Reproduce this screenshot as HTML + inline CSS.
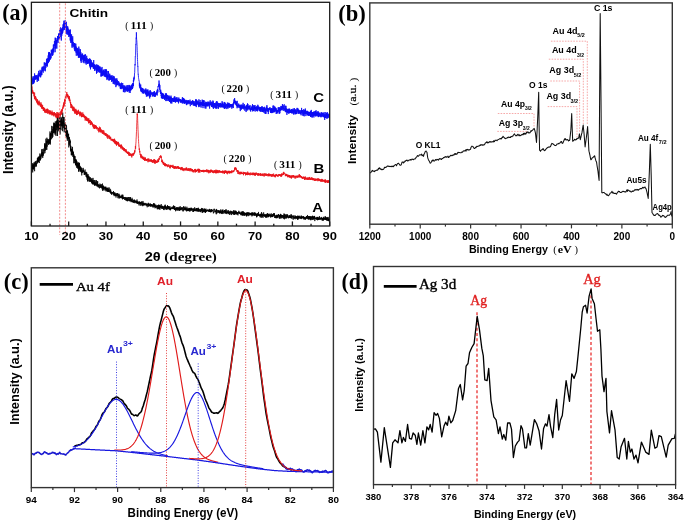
<!DOCTYPE html>
<html><head><meta charset="utf-8"><title>Figure</title>
<style>html,body{margin:0;padding:0;background:#fff;}svg{display:block;will-change:transform;}</style></head>
<body><svg width="685" height="522" viewBox="0 0 685 522">
<rect width="685" height="522" fill="#fff"/>
<path d="M31.70,165.23 L31.80,170.86 L31.90,166.23 L32.00,167.45 L32.10,167.76 L32.20,166.25 L32.30,164.81 L32.40,169.05 L32.50,168.34 L32.60,163.26 L32.70,172.45 L32.80,169.38 L32.90,165.55 L33.00,169.06 L33.10,165.99 L33.20,166.77 L33.30,168.52 L33.40,163.95 L33.50,167.86 L33.60,169.56 L33.70,169.29 L33.80,165.62 L33.90,168.17 L34.00,162.48 L34.10,165.61 L34.20,166.85 L34.30,162.75 L34.40,165.44 L34.50,169.36 L34.60,171.21 L34.70,167.03 L34.80,167.03 L34.90,162.90 L35.00,162.21 L35.10,161.63 L35.20,165.92 L35.30,166.28 L35.40,162.96 L35.50,161.53 L35.60,164.80 L35.70,164.80 L35.80,163.66 L35.90,166.75 L36.00,163.49 L36.10,163.43 L36.20,160.89 L36.30,163.63 L36.40,166.32 L36.50,163.20 L36.60,163.09 L36.70,163.81 L36.80,163.31 L36.90,163.77 L37.00,163.65 L37.10,163.71 L37.20,160.24 L37.30,162.69 L37.40,158.04 L37.50,162.34 L37.60,158.56 L37.70,161.25 L37.80,162.42 L37.90,160.15 L38.00,161.23 L38.10,156.90 L38.20,158.64 L38.30,162.23 L38.40,157.61 L38.50,161.85 L38.60,156.73 L38.70,157.74 L38.80,157.12 L38.90,159.67 L39.00,160.81 L39.10,156.70 L39.20,158.72 L39.30,163.03 L39.40,158.06 L39.50,156.65 L39.60,159.48 L39.70,157.79 L39.80,156.42 L39.90,153.49 L40.00,159.91 L40.10,156.22 L40.20,157.50 L40.30,154.62 L40.40,160.47 L40.50,158.89 L40.60,159.32 L40.70,156.34 L40.80,157.66 L40.90,158.58 L41.00,158.75 L41.10,156.73 L41.20,155.58 L41.30,154.62 L41.40,153.42 L41.50,152.66 L41.60,155.97 L41.70,154.19 L41.80,149.37 L41.90,154.05 L42.00,157.11 L42.10,153.35 L42.20,148.94 L42.30,153.37 L42.40,155.62 L42.50,153.86 L42.60,151.96 L42.70,157.94 L42.80,157.90 L42.90,152.26 L43.00,154.55 L43.10,153.21 L43.20,154.08 L43.30,155.74 L43.40,153.79 L43.50,151.57 L43.60,149.30 L43.70,148.65 L43.80,150.64 L43.90,153.76 L44.00,151.16 L44.10,150.26 L44.20,150.63 L44.30,149.80 L44.40,151.06 L44.50,146.09 L44.60,143.44 L44.70,147.67 L44.80,145.38 L44.90,153.14 L45.00,147.81 L45.10,147.33 L45.20,143.38 L45.30,148.47 L45.40,145.61 L45.50,150.52 L45.60,149.49 L45.70,144.52 L45.80,147.81 L45.90,138.68 L46.00,144.18 L46.10,149.69 L46.20,148.12 L46.30,146.08 L46.40,145.26 L46.50,140.86 L46.60,140.82 L46.70,145.40 L46.80,149.87 L46.90,137.70 L47.00,146.03 L47.10,145.74 L47.20,146.62 L47.30,140.82 L47.40,141.67 L47.50,143.25 L47.60,139.72 L47.70,138.90 L47.80,139.77 L47.90,142.11 L48.00,143.32 L48.10,141.88 L48.20,142.01 L48.30,139.42 L48.40,139.11 L48.50,144.76 L48.60,140.84 L48.70,140.57 L48.80,143.63 L48.90,144.42 L49.00,144.34 L49.10,141.37 L49.20,139.71 L49.30,140.61 L49.40,140.05 L49.50,143.82 L49.60,140.02 L49.70,140.95 L49.80,138.56 L49.90,142.95 L50.00,131.44 L50.10,139.26 L50.20,140.28 L50.30,133.68 L50.40,144.50 L50.50,136.56 L50.60,136.28 L50.70,132.92 L50.80,139.29 L50.90,136.82 L51.00,133.78 L51.10,136.32 L51.20,137.64 L51.30,139.21 L51.40,135.50 L51.50,131.13 L51.60,132.28 L51.70,125.90 L51.80,131.12 L51.90,136.05 L52.00,134.84 L52.10,132.55 L52.20,131.46 L52.30,138.13 L52.40,133.22 L52.50,135.25 L52.60,133.15 L52.70,129.02 L52.80,136.92 L52.90,126.39 L53.00,126.27 L53.10,128.85 L53.20,127.46 L53.30,127.84 L53.40,127.42 L53.50,133.17 L53.60,129.39 L53.70,130.29 L53.80,122.61 L53.90,125.21 L54.00,132.46 L54.10,123.36 L54.20,132.46 L54.30,123.60 L54.40,128.65 L54.50,123.95 L54.60,127.93 L54.70,123.40 L54.80,125.83 L54.90,133.47 L55.00,125.08 L55.10,134.75 L55.20,124.46 L55.30,121.39 L55.40,126.40 L55.50,124.29 L55.60,133.16 L55.70,129.36 L55.80,130.61 L55.90,128.23 L56.00,135.93 L56.10,128.78 L56.20,127.61 L56.30,121.74 L56.40,121.34 L56.50,125.99 L56.60,129.48 L56.70,129.98 L56.80,120.99 L56.90,127.40 L57.00,125.89 L57.10,120.09 L57.20,127.25 L57.30,114.88 L57.40,126.11 L57.50,135.96 L57.60,120.32 L57.70,124.96 L57.80,116.30 L57.90,121.42 L58.00,128.27 L58.10,120.07 L58.20,124.65 L58.30,123.18 L58.40,123.06 L58.50,125.68 L58.60,127.04 L58.70,130.51 L58.80,128.68 L58.90,122.17 L59.00,131.41 L59.10,130.65 L59.20,117.48 L59.30,127.93 L59.40,128.69 L59.50,129.37 L59.60,127.39 L59.70,118.65 L59.80,123.53 L59.90,114.96 L60.00,124.05 L60.10,134.47 L60.20,128.05 L60.30,128.79 L60.40,122.34 L60.50,119.94 L60.60,119.68 L60.70,125.39 L60.80,120.95 L60.90,121.74 L61.00,130.29 L61.10,116.94 L61.20,118.50 L61.30,122.36 L61.40,124.32 L61.50,124.18 L61.60,118.12 L61.70,125.73 L61.80,124.18 L61.90,126.49 L62.00,119.64 L62.10,125.96 L62.20,125.85 L62.30,121.67 L62.40,123.77 L62.50,122.17 L62.60,131.20 L62.70,112.56 L62.80,118.00 L62.90,116.81 L63.00,123.03 L63.10,121.64 L63.20,122.89 L63.30,128.14 L63.40,117.24 L63.50,120.90 L63.60,123.78 L63.70,119.31 L63.80,126.56 L63.90,126.42 L64.00,121.74 L64.10,117.03 L64.20,132.34 L64.30,127.33 L64.40,127.21 L64.50,125.74 L64.60,125.51 L64.70,129.33 L64.80,125.72 L64.90,123.17 L65.00,129.15 L65.10,126.46 L65.20,123.02 L65.30,122.61 L65.40,131.64 L65.50,129.55 L65.60,135.45 L65.70,125.18 L65.80,124.59 L65.90,129.68 L66.00,134.02 L66.10,131.14 L66.20,130.83 L66.30,137.06 L66.40,126.87 L66.50,125.27 L66.60,127.68 L66.70,129.76 L66.80,132.85 L66.90,135.76 L67.00,133.82 L67.10,138.52 L67.20,130.09 L67.30,140.83 L67.40,131.18 L67.50,138.99 L67.60,131.73 L67.70,136.87 L67.80,136.26 L67.90,138.35 L68.00,139.57 L68.10,136.56 L68.20,137.47 L68.30,138.93 L68.40,133.98 L68.50,136.35 L68.60,133.70 L68.70,139.62 L68.80,147.43 L68.90,142.80 L69.00,137.82 L69.10,138.71 L69.20,144.61 L69.30,140.22 L69.40,136.91 L69.50,139.19 L69.60,139.47 L69.70,139.95 L69.80,145.70 L69.90,144.14 L70.00,139.63 L70.10,142.96 L70.20,141.48 L70.30,141.64 L70.40,141.10 L70.50,151.36 L70.60,145.48 L70.70,148.49 L70.80,149.70 L70.90,146.32 L71.00,149.39 L71.10,149.75 L71.20,149.16 L71.30,155.16 L71.40,150.02 L71.50,148.89 L71.60,151.75 L71.70,155.31 L71.80,153.42 L71.90,149.61 L72.00,148.91 L72.10,149.08 L72.20,150.19 L72.30,153.43 L72.40,155.03 L72.50,146.87 L72.60,153.34 L72.70,150.75 L72.80,155.89 L72.90,156.82 L73.00,152.62 L73.10,153.81 L73.20,152.80 L73.30,156.63 L73.40,151.71 L73.50,153.29 L73.60,154.74 L73.70,159.96 L73.80,163.25 L73.90,157.44 L74.00,154.55 L74.10,158.15 L74.20,156.06 L74.30,159.67 L74.40,156.02 L74.50,158.15 L74.60,159.29 L74.70,160.86 L74.80,159.65 L74.90,163.17 L75.00,160.62 L75.10,156.15 L75.20,163.01 L75.30,160.29 L75.40,159.59 L75.50,165.01 L75.60,159.23 L75.70,161.97 L75.80,160.30 L75.90,165.37 L76.00,161.51 L76.10,163.10 L76.20,159.47 L76.30,166.25 L76.40,160.60 L76.50,165.36 L76.60,166.00 L76.70,166.43 L76.80,167.92 L76.90,161.23 L77.00,165.00 L77.10,164.55 L77.20,165.34 L77.30,167.03 L77.40,164.94 L77.50,163.00 L77.60,164.77 L77.70,168.60 L77.80,162.64 L77.90,165.61 L78.00,163.38 L78.10,168.18 L78.20,162.19 L78.30,165.23 L78.40,165.85 L78.50,166.52 L78.60,171.59 L78.70,169.94 L78.80,164.41 L78.90,171.51 L79.00,164.34 L79.10,163.00 L79.20,163.95 L79.30,167.76 L79.40,168.60 L79.50,162.81 L79.60,168.63 L79.70,167.24 L79.80,169.45 L79.90,167.23 L80.00,170.09 L80.10,169.49 L80.20,165.92 L80.30,171.58 L80.40,169.08 L80.50,170.28 L80.60,171.51 L80.70,166.92 L80.80,168.90 L80.90,167.47 L81.00,167.33 L81.10,169.96 L81.20,170.22 L81.30,172.38 L81.40,172.59 L81.50,169.79 L81.60,168.21 L81.70,175.39 L81.80,174.56 L81.90,170.04 L82.00,168.46 L82.10,169.60 L82.20,171.14 L82.30,172.98 L82.40,172.75 L82.50,171.77 L82.60,170.49 L82.70,171.43 L82.80,170.57 L82.90,171.45 L83.00,171.20 L83.10,172.57 L83.20,167.87 L83.30,171.04 L83.40,171.26 L83.50,169.70 L83.60,171.71 L83.70,170.08 L83.80,170.97 L83.90,171.82 L84.00,172.00 L84.10,171.49 L84.20,174.88 L84.30,173.23 L84.40,173.58 L84.50,173.52 L84.60,171.89 L84.70,171.60 L84.80,175.04 L84.90,172.86 L85.00,170.26 L85.10,169.57 L85.20,174.32 L85.30,172.61 L85.40,174.01 L85.50,173.22 L85.60,173.61 L85.70,174.17 L85.80,172.27 L85.90,174.71 L86.00,176.71 L86.10,176.28 L86.20,171.86 L86.30,172.73 L86.40,172.88 L86.50,175.01 L86.60,177.16 L86.70,176.30 L86.80,172.61 L86.90,176.05 L87.00,177.54 L87.10,175.37 L87.20,179.77 L87.30,175.24 L87.40,178.66 L87.50,180.90 L87.60,174.48 L87.70,176.31 L87.80,178.04 L87.90,181.76 L88.00,174.05 L88.10,178.35 L88.20,177.97 L88.30,176.83 L88.40,176.21 L88.50,176.87 L88.60,177.37 L88.70,175.78 L88.80,180.87 L88.90,176.29 L89.00,177.58 L89.10,177.28 L89.20,177.82 L89.30,178.79 L89.40,177.43 L89.50,178.42 L89.60,181.89 L89.70,180.83 L89.80,178.62 L89.90,180.76 L90.00,177.99 L90.10,179.77 L90.20,177.06 L90.30,177.63 L90.40,178.19 L90.50,181.83 L90.60,180.22 L90.70,180.84 L90.80,180.26 L90.90,180.71 L91.00,180.88 L91.10,181.54 L91.20,180.62 L91.30,178.91 L91.40,179.21 L91.50,182.61 L91.60,183.01 L91.70,181.69 L91.80,178.15 L91.90,183.51 L92.00,181.54 L92.10,180.97 L92.20,181.20 L92.30,180.64 L92.40,184.19 L92.50,184.14 L92.60,179.76 L92.70,181.26 L92.80,182.13 L92.90,183.77 L93.00,177.89 L93.10,183.36 L93.20,184.62 L93.30,181.49 L93.40,182.02 L93.50,184.15 L93.60,182.83 L93.70,180.18 L93.80,180.52 L93.90,180.81 L94.00,180.28 L94.10,182.58 L94.20,181.84 L94.30,182.79 L94.40,183.91 L94.50,185.67 L94.60,183.28 L94.70,180.10 L94.80,185.24 L94.90,182.96 L95.00,185.02 L95.10,182.58 L95.20,183.81 L95.30,183.20 L95.40,183.44 L95.50,185.51 L95.60,182.60 L95.70,183.92 L95.80,184.07 L95.90,183.20 L96.00,180.50 L96.10,184.46 L96.20,180.06 L96.30,181.76 L96.40,183.41 L96.50,184.82 L96.60,185.54 L96.70,185.55 L96.80,185.26 L96.90,183.87 L97.00,186.30 L97.10,184.13 L97.20,186.28 L97.30,181.30 L97.40,183.28 L97.50,183.90 L97.60,184.82 L97.70,181.31 L97.80,186.14 L97.90,186.46 L98.00,186.21 L98.10,184.33 L98.20,187.30 L98.30,184.39 L98.40,186.59 L98.50,185.22 L98.60,185.33 L98.70,185.18 L98.80,185.43 L98.90,187.14 L99.00,187.67 L99.10,187.70 L99.20,186.99 L99.30,186.68 L99.40,186.42 L99.50,188.36 L99.60,185.22 L99.70,184.99 L99.80,186.02 L99.90,183.59 L100.00,185.70 L100.10,186.01 L100.20,184.66 L100.30,185.36 L100.40,187.23 L100.50,185.95 L100.60,186.44 L100.70,187.85 L100.80,185.54 L100.90,184.83 L101.00,186.45 L101.10,187.16 L101.20,184.02 L101.30,187.58 L101.40,186.25 L101.50,186.15 L101.60,185.56 L101.70,186.57 L101.80,188.23 L101.90,187.66 L102.00,188.11 L102.10,186.50 L102.20,189.30 L102.30,188.89 L102.40,187.12 L102.50,183.57 L102.60,187.33 L102.70,190.93 L102.80,187.26 L102.90,185.96 L103.00,189.80 L103.10,186.62 L103.20,188.21 L103.30,188.63 L103.40,185.58 L103.50,187.84 L103.60,189.36 L103.70,187.31 L103.80,188.70 L103.90,187.82 L104.00,189.31 L104.10,190.49 L104.20,186.49 L104.30,187.65 L104.40,188.63 L104.50,187.28 L104.60,187.07 L104.70,187.77 L104.80,187.93 L104.90,187.46 L105.00,188.84 L105.10,189.54 L105.20,189.51 L105.30,189.47 L105.40,190.21 L105.50,186.82 L105.60,188.55 L105.70,189.02 L105.80,189.52 L105.90,186.71 L106.00,191.43 L106.10,187.79 L106.20,189.38 L106.30,190.06 L106.40,190.58 L106.50,188.28 L106.60,188.53 L106.70,189.79 L106.80,190.13 L106.90,190.61 L107.00,189.39 L107.10,188.61 L107.20,187.83 L107.30,191.91 L107.40,187.90 L107.50,190.66 L107.60,190.17 L107.70,190.85 L107.80,191.15 L107.90,191.72 L108.00,189.96 L108.10,190.60 L108.20,187.63 L108.30,190.26 L108.40,189.10 L108.50,190.12 L108.60,191.96 L108.70,190.57 L108.80,191.88 L108.90,190.30 L109.00,191.12 L109.10,190.15 L109.20,187.51 L109.30,189.88 L109.40,190.51 L109.50,191.10 L109.60,190.96 L109.70,190.86 L109.80,192.27 L109.90,191.92 L110.00,190.70 L110.10,192.34 L110.20,188.85 L110.30,191.02 L110.40,191.25 L110.50,193.10 L110.60,190.89 L110.70,189.80 L110.80,191.89 L110.90,193.81 L111.00,191.53 L111.10,191.73 L111.20,191.66 L111.30,192.03 L111.40,193.61 L111.50,194.47 L111.60,192.71 L111.70,192.08 L111.80,194.50 L111.90,192.44 L112.00,192.46 L112.10,192.01 L112.20,192.12 L112.30,192.85 L112.40,192.27 L112.50,193.17 L112.60,192.84 L112.70,193.45 L112.80,192.40 L112.90,192.67 L113.00,193.25 L113.10,193.10 L113.20,193.20 L113.30,194.51 L113.40,191.94 L113.50,190.99 L113.60,194.16 L113.70,193.09 L113.80,194.99 L113.90,193.38 L114.00,192.19 L114.10,196.13 L114.20,194.11 L114.30,193.19 L114.40,192.90 L114.50,194.46 L114.60,193.10 L114.70,194.37 L114.80,195.31 L114.90,192.46 L115.00,193.69 L115.10,194.69 L115.20,196.08 L115.30,195.31 L115.40,193.80 L115.50,196.01 L115.60,194.02 L115.70,194.29 L115.80,194.95 L115.90,193.36 L116.00,197.52 L116.10,196.02 L116.20,194.98 L116.30,194.16 L116.40,193.56 L116.50,195.30 L116.60,195.71 L116.70,194.55 L116.80,194.83 L116.90,195.71 L117.00,195.08 L117.10,193.15 L117.20,195.98 L117.30,195.56 L117.40,196.15 L117.50,194.56 L117.60,193.10 L117.70,194.12 L117.80,195.86 L117.90,197.87 L118.00,198.22 L118.10,196.01 L118.20,194.12 L118.30,195.40 L118.40,196.31 L118.50,196.34 L118.60,196.01 L118.70,197.43 L118.80,195.01 L118.90,193.66 L119.00,195.12 L119.10,194.85 L119.20,198.63 L119.30,196.01 L119.40,194.69 L119.50,196.98 L119.60,197.45 L119.70,196.44 L119.80,196.64 L119.90,197.59 L120.00,197.07 L120.10,195.78 L120.20,197.23 L120.30,197.65 L120.40,197.04 L120.50,197.66 L120.60,197.39 L120.70,196.52 L120.80,196.66 L120.90,197.53 L121.00,196.29 L121.10,198.20 L121.20,198.32 L121.30,194.78 L121.40,196.98 L121.50,196.27 L121.60,196.43 L121.70,197.33 L121.80,197.02 L121.90,197.87 L122.00,197.64 L122.10,197.73 L122.20,196.50 L122.30,197.01 L122.40,199.04 L122.50,194.74 L122.60,199.40 L122.70,196.93 L122.80,198.88 L122.90,194.76 L123.00,197.20 L123.10,198.63 L123.20,197.89 L123.30,198.88 L123.40,196.84 L123.50,197.22 L123.60,197.16 L123.70,198.47 L123.80,198.46 L123.90,197.85 L124.00,197.73 L124.10,197.74 L124.20,198.19 L124.30,197.09 L124.40,198.10 L124.50,198.04 L124.60,197.64 L124.70,197.64 L124.80,199.93 L124.90,197.67 L125.00,198.83 L125.10,199.92 L125.20,199.26 L125.30,198.50 L125.40,199.63 L125.50,196.98 L125.60,197.23 L125.70,198.18 L125.80,198.41 L125.90,198.58 L126.00,200.79 L126.10,200.62 L126.20,198.75 L126.30,199.11 L126.40,197.86 L126.50,199.24 L126.60,197.45 L126.70,200.50 L126.80,198.42 L126.90,199.64 L127.00,197.63 L127.10,200.63 L127.20,199.80 L127.30,201.32 L127.40,199.27 L127.50,197.45 L127.60,198.40 L127.70,197.91 L127.80,201.06 L127.90,198.67 L128.00,198.56 L128.10,200.08 L128.20,199.75 L128.30,200.03 L128.40,198.97 L128.50,197.36 L128.60,198.09 L128.70,197.20 L128.80,201.06 L128.90,200.68 L129.00,199.30 L129.10,200.43 L129.20,200.52 L129.30,200.51 L129.40,200.43 L129.50,200.84 L129.60,199.99 L129.70,197.49 L129.80,197.10 L129.90,201.39 L130.00,200.68 L130.10,197.29 L130.20,200.28 L130.30,199.15 L130.40,199.55 L130.50,197.32 L130.60,201.06 L130.70,200.15 L130.80,201.17 L130.90,201.50 L131.00,201.75 L131.10,202.18 L131.20,200.71 L131.30,200.66 L131.40,199.75 L131.50,201.07 L131.60,200.25 L131.70,199.25 L131.80,201.90 L131.90,201.39 L132.00,197.77 L132.10,198.61 L132.20,200.45 L132.30,199.24 L132.40,202.11 L132.50,200.98 L132.60,201.44 L132.70,201.88 L132.80,202.35 L132.90,200.60 L133.00,201.63 L133.10,201.24 L133.20,201.88 L133.30,201.64 L133.40,202.63 L133.50,201.67 L133.60,200.58 L133.70,201.27 L133.80,199.91 L133.90,201.55 L134.00,202.89 L134.10,200.58 L134.20,199.45 L134.30,201.22 L134.40,200.77 L134.50,201.36 L134.60,200.73 L134.70,201.50 L134.80,200.32 L134.90,203.19 L135.00,201.25 L135.10,202.10 L135.20,202.40 L135.30,201.41 L135.40,202.11 L135.50,201.36 L135.60,201.17 L135.70,201.44 L135.80,202.26 L135.90,200.34 L136.00,200.77 L136.10,200.91 L136.20,201.20 L136.30,203.13 L136.40,201.84 L136.50,201.56 L136.60,202.09 L136.70,203.13 L136.80,201.15 L136.90,203.14 L137.00,199.46 L137.10,201.08 L137.20,203.72 L137.30,203.84 L137.40,202.36 L137.50,201.70 L137.60,203.11 L137.70,201.77 L137.80,203.96 L137.90,203.59 L138.00,203.16 L138.10,201.40 L138.20,203.44 L138.30,202.11 L138.40,202.16 L138.50,201.97 L138.60,202.34 L138.70,203.05 L138.80,203.46 L138.90,203.48 L139.00,205.38 L139.10,202.22 L139.20,203.91 L139.30,201.92 L139.40,202.47 L139.50,201.42 L139.60,204.07 L139.70,203.05 L139.80,202.93 L139.90,202.68 L140.00,203.86 L140.10,202.31 L140.20,203.33 L140.30,205.69 L140.40,202.78 L140.50,202.27 L140.60,201.87 L140.70,203.91 L140.80,203.11 L140.90,202.23 L141.00,202.17 L141.10,203.14 L141.20,202.03 L141.30,205.48 L141.40,202.97 L141.50,203.01 L141.60,203.13 L141.70,201.25 L141.80,201.67 L141.90,202.90 L142.00,203.30 L142.10,201.98 L142.20,205.25 L142.30,203.90 L142.40,204.85 L142.50,204.74 L142.60,203.22 L142.70,206.18 L142.80,203.65 L142.90,201.45 L143.00,200.98 L143.10,203.59 L143.20,204.57 L143.30,203.71 L143.40,205.57 L143.50,203.34 L143.60,204.32 L143.70,204.53 L143.80,202.61 L143.90,204.11 L144.00,204.19 L144.10,205.02 L144.20,205.17 L144.30,204.94 L144.40,203.04 L144.50,204.71 L144.60,205.11 L144.70,203.98 L144.80,204.80 L144.90,204.84 L145.00,205.32 L145.10,204.12 L145.20,204.58 L145.30,204.29 L145.40,204.17 L145.50,203.44 L145.60,203.77 L145.70,202.93 L145.80,203.97 L145.90,204.96 L146.00,204.91 L146.10,205.07 L146.20,204.15 L146.30,205.82 L146.40,203.81 L146.50,205.18 L146.60,204.82 L146.70,203.56 L146.80,203.62 L146.90,205.24 L147.00,204.49 L147.10,204.77 L147.20,207.27 L147.30,205.13 L147.40,204.67 L147.50,205.36 L147.60,203.92 L147.70,204.41 L147.80,205.11 L147.90,203.75 L148.00,204.63 L148.10,204.48 L148.20,204.83 L148.30,202.79 L148.40,206.70 L148.50,204.68 L148.60,205.40 L148.70,203.68 L148.80,203.40 L148.90,204.89 L149.00,204.52 L149.10,205.61 L149.20,203.91 L149.30,203.86 L149.40,205.33 L149.50,205.75 L149.60,206.02 L149.70,204.99 L149.80,205.33 L149.90,204.19 L150.00,206.53 L150.10,206.36 L150.20,206.35 L150.30,203.38 L150.40,206.13 L150.50,204.38 L150.60,205.75 L150.70,205.70 L150.80,206.58 L150.90,205.05 L151.00,204.91 L151.10,204.19 L151.20,204.02 L151.30,205.98 L151.40,204.36 L151.50,206.11 L151.60,204.98 L151.70,204.79 L151.80,206.49 L151.90,206.39 L152.00,204.38 L152.10,205.30 L152.20,205.50 L152.30,206.26 L152.40,204.74 L152.50,205.10 L152.60,205.45 L152.70,206.36 L152.80,206.60 L152.90,205.04 L153.00,207.58 L153.10,206.14 L153.20,204.82 L153.30,204.00 L153.40,205.18 L153.50,203.13 L153.60,205.96 L153.70,206.39 L153.80,207.19 L153.90,206.36 L154.00,203.95 L154.10,205.54 L154.20,206.63 L154.30,203.50 L154.40,205.00 L154.50,206.61 L154.60,206.00 L154.70,203.75 L154.80,205.42 L154.90,206.01 L155.00,208.29 L155.10,205.54 L155.20,205.05 L155.30,206.33 L155.40,206.45 L155.50,206.72 L155.60,207.70 L155.70,206.06 L155.80,204.64 L155.90,206.21 L156.00,206.20 L156.10,207.26 L156.20,207.14 L156.30,205.43 L156.40,207.10 L156.50,207.37 L156.60,206.08 L156.70,207.34 L156.80,206.50 L156.90,206.53 L157.00,206.19 L157.10,207.25 L157.20,209.18 L157.30,206.65 L157.40,205.14 L157.50,206.18 L157.60,205.81 L157.70,206.82 L157.80,206.33 L157.90,209.28 L158.00,207.33 L158.10,208.57 L158.20,205.76 L158.30,206.32 L158.40,208.83 L158.50,204.74 L158.60,206.76 L158.70,204.91 L158.80,208.32 L158.90,205.09 L159.00,206.33 L159.10,206.48 L159.20,204.83 L159.30,209.41 L159.40,206.53 L159.50,208.54 L159.60,205.98 L159.70,205.15 L159.80,207.01 L159.90,206.99 L160.00,209.60 L160.10,205.65 L160.20,205.10 L160.30,206.06 L160.40,207.18 L160.50,207.48 L160.60,206.05 L160.70,206.50 L160.80,207.50 L160.90,208.11 L161.00,206.27 L161.10,207.08 L161.20,204.04 L161.30,205.89 L161.40,207.44 L161.50,206.97 L161.60,206.79 L161.70,208.78 L161.80,206.70 L161.90,205.83 L162.00,207.27 L162.10,207.28 L162.20,205.81 L162.30,208.18 L162.40,208.97 L162.50,206.45 L162.60,206.15 L162.70,207.03 L162.80,208.51 L162.90,206.53 L163.00,206.36 L163.10,206.52 L163.20,207.45 L163.30,207.43 L163.40,207.02 L163.50,208.54 L163.60,209.71 L163.70,206.61 L163.80,208.40 L163.90,207.57 L164.00,210.10 L164.10,206.32 L164.20,206.92 L164.30,207.43 L164.40,205.76 L164.50,207.11 L164.60,208.13 L164.70,205.77 L164.80,207.51 L164.90,209.35 L165.00,206.73 L165.10,206.42 L165.20,204.63 L165.30,207.31 L165.40,205.64 L165.50,208.06 L165.60,209.27 L165.70,208.08 L165.80,206.61 L165.90,208.21 L166.00,206.98 L166.10,206.27 L166.20,206.97 L166.30,207.80 L166.40,207.14 L166.50,208.13 L166.60,209.93 L166.70,208.25 L166.80,208.42 L166.90,206.86 L167.00,209.07 L167.10,208.01 L167.20,208.74 L167.30,206.78 L167.40,207.90 L167.50,205.07 L167.60,207.27 L167.70,206.75 L167.80,206.58 L167.90,209.60 L168.00,206.01 L168.10,207.55 L168.20,207.57 L168.30,208.32 L168.40,208.85 L168.50,205.99 L168.60,207.17 L168.70,207.00 L168.80,208.55 L168.90,208.82 L169.00,207.35 L169.10,207.21 L169.20,206.70 L169.30,208.23 L169.40,209.67 L169.50,208.26 L169.60,207.08 L169.70,206.95 L169.80,207.09 L169.90,206.07 L170.00,209.80 L170.10,207.98 L170.20,207.55 L170.30,210.38 L170.40,208.17 L170.50,209.57 L170.60,208.25 L170.70,209.17 L170.80,208.05 L170.90,207.57 L171.00,208.44 L171.10,208.78 L171.20,209.20 L171.30,208.23 L171.40,207.75 L171.50,207.62 L171.60,208.38 L171.70,207.51 L171.80,207.70 L171.90,208.67 L172.00,208.72 L172.10,208.64 L172.20,207.28 L172.30,206.52 L172.40,208.42 L172.50,208.25 L172.60,207.72 L172.70,208.37 L172.80,209.09 L172.90,207.94 L173.00,208.61 L173.10,207.10 L173.20,207.95 L173.30,207.28 L173.40,206.61 L173.50,208.69 L173.60,205.35 L173.70,208.16 L173.80,209.10 L173.90,208.69 L174.00,206.55 L174.10,208.53 L174.20,206.26 L174.30,207.31 L174.40,209.87 L174.50,208.48 L174.60,209.60 L174.70,207.11 L174.80,206.04 L174.90,207.51 L175.00,209.75 L175.10,209.37 L175.20,209.54 L175.30,208.21 L175.40,208.28 L175.50,208.17 L175.60,211.25 L175.70,208.50 L175.80,210.36 L175.90,208.23 L176.00,209.95 L176.10,207.25 L176.20,207.90 L176.30,208.86 L176.40,207.84 L176.50,208.03 L176.60,208.32 L176.70,207.91 L176.80,210.22 L176.90,209.77 L177.00,206.99 L177.10,210.42 L177.20,208.50 L177.30,208.52 L177.40,208.38 L177.50,209.54 L177.60,209.37 L177.70,208.02 L177.80,208.66 L177.90,207.17 L178.00,210.66 L178.10,207.69 L178.20,207.66 L178.30,207.86 L178.40,208.81 L178.50,209.49 L178.60,208.28 L178.70,208.71 L178.80,208.32 L178.90,210.12 L179.00,208.96 L179.10,206.85 L179.20,210.35 L179.30,209.10 L179.40,210.87 L179.50,208.08 L179.60,208.21 L179.70,208.58 L179.80,207.23 L179.90,208.38 L180.00,210.18 L180.10,209.58 L180.20,206.16 L180.30,210.24 L180.40,209.22 L180.50,209.74 L180.60,208.89 L180.70,209.06 L180.80,208.92 L180.90,208.93 L181.00,207.73 L181.10,210.03 L181.20,209.13 L181.30,209.32 L181.40,209.29 L181.50,208.58 L181.60,208.86 L181.70,207.46 L181.80,209.23 L181.90,209.25 L182.00,208.69 L182.10,207.07 L182.20,210.44 L182.30,208.79 L182.40,208.96 L182.50,208.65 L182.60,208.34 L182.70,208.56 L182.80,207.79 L182.90,208.38 L183.00,211.30 L183.10,210.34 L183.20,211.25 L183.30,208.37 L183.40,206.98 L183.50,207.57 L183.60,206.18 L183.70,210.28 L183.80,210.44 L183.90,209.22 L184.00,209.52 L184.10,209.52 L184.20,208.99 L184.30,209.93 L184.40,208.02 L184.50,208.66 L184.60,208.99 L184.70,207.28 L184.80,208.06 L184.90,209.65 L185.00,209.56 L185.10,206.47 L185.20,210.20 L185.30,209.59 L185.40,210.06 L185.50,209.15 L185.60,209.87 L185.70,207.81 L185.80,209.00 L185.90,208.07 L186.00,208.68 L186.10,210.55 L186.20,211.06 L186.30,209.31 L186.40,208.80 L186.50,210.15 L186.60,209.80 L186.70,211.42 L186.80,210.01 L186.90,206.74 L187.00,209.39 L187.10,208.98 L187.20,208.46 L187.30,209.50 L187.40,209.42 L187.50,208.97 L187.60,211.03 L187.70,209.79 L187.80,209.83 L187.90,209.56 L188.00,210.74 L188.10,208.18 L188.20,210.74 L188.30,209.16 L188.40,211.06 L188.50,211.00 L188.60,209.99 L188.70,208.95 L188.80,209.76 L188.90,209.85 L189.00,207.86 L189.10,209.12 L189.20,208.71 L189.30,211.00 L189.40,211.37 L189.50,208.71 L189.60,208.93 L189.70,208.07 L189.80,209.81 L189.90,210.42 L190.00,211.51 L190.10,208.13 L190.20,210.57 L190.30,209.40 L190.40,208.78 L190.50,209.19 L190.60,208.74 L190.70,210.07 L190.80,209.59 L190.90,210.90 L191.00,209.02 L191.10,207.56 L191.20,208.53 L191.30,210.00 L191.40,208.01 L191.50,208.81 L191.60,210.23 L191.70,208.14 L191.80,210.58 L191.90,210.03 L192.00,209.03 L192.10,209.63 L192.20,209.13 L192.30,209.25 L192.40,209.33 L192.50,209.72 L192.60,209.61 L192.70,208.90 L192.80,208.64 L192.90,212.00 L193.00,208.53 L193.10,209.57 L193.20,211.06 L193.30,210.84 L193.40,208.96 L193.50,211.96 L193.60,211.71 L193.70,209.44 L193.80,208.43 L193.90,210.49 L194.00,209.60 L194.10,209.49 L194.20,208.93 L194.30,209.17 L194.40,210.01 L194.50,210.82 L194.60,207.57 L194.70,207.24 L194.80,210.91 L194.90,208.94 L195.00,210.63 L195.10,209.99 L195.20,211.25 L195.30,210.89 L195.40,209.59 L195.50,209.73 L195.60,210.26 L195.70,210.73 L195.80,209.24 L195.90,208.27 L196.00,210.05 L196.10,209.90 L196.20,209.78 L196.30,208.86 L196.40,210.63 L196.50,208.08 L196.60,209.45 L196.70,211.40 L196.80,208.78 L196.90,210.46 L197.00,210.50 L197.10,210.48 L197.20,208.19 L197.30,211.14 L197.40,210.19 L197.50,210.59 L197.60,210.39 L197.70,210.13 L197.80,211.41 L197.90,211.65 L198.00,208.04 L198.10,209.23 L198.20,209.91 L198.30,207.72 L198.40,211.72 L198.50,209.27 L198.60,210.74 L198.70,210.37 L198.80,209.90 L198.90,209.04 L199.00,209.76 L199.10,210.26 L199.20,211.03 L199.30,209.95 L199.40,209.75 L199.50,209.92 L199.60,211.63 L199.70,210.52 L199.80,209.47 L199.90,208.84 L200.00,209.78 L200.10,209.23 L200.20,209.78 L200.30,211.74 L200.40,211.01 L200.50,210.51 L200.60,210.71 L200.70,212.17 L200.80,209.03 L200.90,210.78 L201.00,210.07 L201.10,210.46 L201.20,210.39 L201.30,209.97 L201.40,210.92 L201.50,207.96 L201.60,210.65 L201.70,211.09 L201.80,209.31 L201.90,209.29 L202.00,212.46 L202.10,209.39 L202.20,209.97 L202.30,209.54 L202.40,209.72 L202.50,209.67 L202.60,208.10 L202.70,213.02 L202.80,209.63 L202.90,210.84 L203.00,210.35 L203.10,211.92 L203.20,211.21 L203.30,211.69 L203.40,211.74 L203.50,211.39 L203.60,210.51 L203.70,211.48 L203.80,208.75 L203.90,211.47 L204.00,211.27 L204.10,210.84 L204.20,209.06 L204.30,211.99 L204.40,209.80 L204.50,211.23 L204.60,208.53 L204.70,210.36 L204.80,209.85 L204.90,209.72 L205.00,209.85 L205.10,212.53 L205.20,210.55 L205.30,210.97 L205.40,212.94 L205.50,209.05 L205.60,212.29 L205.70,210.22 L205.80,209.95 L205.90,210.19 L206.00,208.67 L206.10,208.98 L206.20,209.42 L206.30,210.05 L206.40,211.46 L206.50,211.87 L206.60,210.29 L206.70,211.10 L206.80,211.18 L206.90,210.46 L207.00,210.97 L207.10,210.08 L207.20,211.34 L207.30,210.49 L207.40,210.79 L207.50,211.03 L207.60,210.92 L207.70,209.98 L207.80,209.30 L207.90,210.71 L208.00,210.17 L208.10,210.22 L208.20,210.69 L208.30,210.03 L208.40,211.31 L208.50,211.26 L208.60,209.85 L208.70,211.25 L208.80,209.80 L208.90,211.65 L209.00,211.54 L209.10,210.86 L209.20,211.85 L209.30,212.00 L209.40,211.38 L209.50,208.89 L209.60,211.05 L209.70,211.13 L209.80,211.80 L209.90,209.85 L210.00,211.71 L210.10,211.33 L210.20,211.40 L210.30,209.60 L210.40,210.02 L210.50,212.21 L210.60,211.89 L210.70,210.90 L210.80,212.18 L210.90,211.29 L211.00,210.56 L211.10,209.29 L211.20,212.14 L211.30,210.88 L211.40,211.30 L211.50,209.08 L211.60,210.46 L211.70,211.39 L211.80,210.80 L211.90,210.27 L212.00,209.87 L212.10,211.32 L212.20,210.70 L212.30,210.74 L212.40,210.80 L212.50,210.41 L212.60,210.77 L212.70,210.47 L212.80,211.18 L212.90,209.65 L213.00,209.96 L213.10,211.20 L213.20,210.99 L213.30,211.35 L213.40,213.38 L213.50,212.01 L213.60,212.44 L213.70,211.67 L213.80,211.09 L213.90,210.36 L214.00,209.21 L214.10,209.70 L214.20,208.70 L214.30,210.04 L214.40,209.54 L214.50,210.22 L214.60,211.26 L214.70,210.85 L214.80,212.26 L214.90,212.29 L215.00,212.43 L215.10,212.26 L215.20,211.62 L215.30,210.78 L215.40,211.84 L215.50,211.09 L215.60,211.15 L215.70,211.82 L215.80,210.19 L215.90,209.62 L216.00,211.75 L216.10,213.34 L216.20,212.64 L216.30,214.29 L216.40,209.90 L216.50,210.74 L216.60,208.94 L216.70,210.52 L216.80,213.53 L216.90,213.23 L217.00,210.37 L217.10,211.14 L217.20,210.60 L217.30,210.04 L217.40,211.25 L217.50,211.17 L217.60,211.63 L217.70,211.83 L217.80,212.31 L217.90,213.05 L218.00,211.48 L218.10,211.34 L218.20,211.59 L218.30,212.07 L218.40,211.45 L218.50,210.53 L218.60,211.05 L218.70,212.43 L218.80,210.51 L218.90,212.52 L219.00,210.13 L219.10,212.32 L219.20,212.31 L219.30,211.44 L219.40,211.65 L219.50,211.44 L219.60,213.53 L219.70,211.23 L219.80,210.92 L219.90,212.13 L220.00,212.94 L220.10,212.10 L220.20,211.59 L220.30,212.87 L220.40,210.94 L220.50,210.92 L220.60,210.43 L220.70,213.10 L220.80,209.39 L220.90,210.40 L221.00,212.08 L221.10,212.26 L221.20,213.72 L221.30,212.30 L221.40,211.31 L221.50,213.36 L221.60,213.02 L221.70,213.13 L221.80,213.04 L221.90,212.44 L222.00,210.31 L222.10,210.75 L222.20,214.05 L222.30,211.96 L222.40,209.93 L222.50,211.99 L222.60,212.99 L222.70,212.38 L222.80,211.97 L222.90,209.44 L223.00,212.04 L223.10,211.83 L223.20,213.81 L223.30,212.00 L223.40,211.95 L223.50,211.53 L223.60,211.89 L223.70,212.32 L223.80,211.48 L223.90,211.08 L224.00,210.71 L224.10,212.19 L224.20,211.68 L224.30,211.73 L224.40,210.43 L224.50,211.21 L224.60,210.04 L224.70,213.14 L224.80,213.39 L224.90,212.56 L225.00,212.00 L225.10,212.64 L225.20,210.53 L225.30,210.71 L225.40,213.44 L225.50,211.04 L225.60,212.12 L225.70,211.45 L225.80,209.54 L225.90,211.46 L226.00,213.10 L226.10,213.64 L226.20,209.48 L226.30,210.52 L226.40,211.61 L226.50,213.33 L226.60,213.58 L226.70,213.99 L226.80,214.11 L226.90,211.82 L227.00,211.21 L227.10,213.30 L227.20,212.03 L227.30,212.35 L227.40,211.93 L227.50,211.90 L227.60,213.33 L227.70,211.25 L227.80,210.45 L227.90,211.60 L228.00,212.48 L228.10,212.04 L228.20,212.23 L228.30,210.22 L228.40,211.44 L228.50,213.58 L228.60,212.22 L228.70,211.67 L228.80,213.65 L228.90,211.82 L229.00,213.26 L229.10,212.68 L229.20,212.89 L229.30,213.59 L229.40,214.92 L229.50,213.86 L229.60,211.55 L229.70,211.27 L229.80,212.14 L229.90,212.31 L230.00,213.27 L230.10,212.55 L230.20,212.74 L230.30,210.67 L230.40,212.48 L230.50,213.12 L230.60,214.41 L230.70,213.42 L230.80,212.67 L230.90,211.28 L231.00,212.57 L231.10,212.60 L231.20,212.44 L231.30,212.78 L231.40,213.17 L231.50,213.11 L231.60,215.07 L231.70,211.57 L231.80,210.93 L231.90,213.08 L232.00,211.31 L232.10,212.44 L232.20,212.58 L232.30,211.79 L232.40,213.56 L232.50,213.40 L232.60,212.86 L232.70,213.37 L232.80,213.67 L232.90,212.39 L233.00,213.38 L233.10,212.89 L233.20,212.74 L233.30,212.25 L233.40,214.67 L233.50,213.13 L233.60,211.22 L233.70,213.33 L233.80,210.00 L233.90,213.10 L234.00,213.65 L234.10,214.37 L234.20,213.05 L234.30,212.06 L234.40,214.96 L234.50,213.98 L234.60,214.27 L234.70,212.59 L234.80,213.56 L234.90,210.95 L235.00,213.41 L235.10,210.59 L235.20,211.78 L235.30,211.30 L235.40,214.17 L235.50,213.93 L235.60,212.29 L235.70,214.29 L235.80,213.03 L235.90,210.78 L236.00,212.54 L236.10,211.08 L236.20,213.06 L236.30,213.38 L236.40,212.18 L236.50,213.89 L236.60,214.16 L236.70,212.04 L236.80,213.65 L236.90,212.93 L237.00,212.73 L237.10,214.90 L237.20,212.29 L237.30,212.68 L237.40,213.00 L237.50,213.71 L237.60,213.94 L237.70,212.07 L237.80,214.61 L237.90,215.13 L238.00,215.34 L238.10,213.32 L238.20,212.59 L238.30,211.98 L238.40,213.55 L238.50,213.09 L238.60,213.12 L238.70,212.51 L238.80,210.77 L238.90,212.89 L239.00,213.02 L239.10,212.82 L239.20,211.67 L239.30,212.94 L239.40,213.08 L239.50,212.02 L239.60,213.97 L239.70,213.24 L239.80,213.43 L239.90,213.73 L240.00,213.02 L240.10,213.22 L240.20,213.90 L240.30,214.16 L240.40,214.32 L240.50,213.14 L240.60,214.20 L240.70,214.62 L240.80,211.83 L240.90,212.93 L241.00,213.36 L241.10,213.40 L241.20,215.38 L241.30,214.71 L241.40,213.27 L241.50,213.30 L241.60,211.90 L241.70,212.37 L241.80,214.93 L241.90,211.57 L242.00,214.16 L242.10,212.71 L242.20,213.15 L242.30,213.39 L242.40,215.52 L242.50,213.89 L242.60,214.09 L242.70,214.65 L242.80,211.11 L242.90,215.61 L243.00,211.72 L243.10,212.78 L243.20,214.34 L243.30,212.24 L243.40,211.68 L243.50,214.89 L243.60,213.27 L243.70,214.66 L243.80,214.17 L243.90,213.43 L244.00,215.52 L244.10,213.38 L244.20,215.89 L244.30,212.70 L244.40,212.59 L244.50,212.95 L244.60,213.97 L244.70,212.47 L244.80,212.96 L244.90,215.32 L245.00,213.95 L245.10,215.03 L245.20,214.17 L245.30,213.13 L245.40,212.94 L245.50,214.00 L245.60,213.88 L245.70,213.24 L245.80,213.20 L245.90,215.42 L246.00,214.98 L246.10,214.17 L246.20,213.48 L246.30,213.40 L246.40,216.07 L246.50,213.22 L246.60,216.42 L246.70,213.17 L246.80,212.26 L246.90,216.12 L247.00,213.79 L247.10,215.60 L247.20,214.41 L247.30,213.67 L247.40,214.98 L247.50,213.63 L247.60,214.44 L247.70,213.81 L247.80,212.04 L247.90,214.41 L248.00,213.40 L248.10,213.84 L248.20,214.45 L248.30,212.45 L248.40,214.61 L248.50,214.66 L248.60,216.14 L248.70,214.94 L248.80,214.42 L248.90,213.34 L249.00,214.03 L249.10,212.52 L249.20,214.51 L249.30,213.86 L249.40,213.68 L249.50,214.10 L249.60,214.59 L249.70,214.39 L249.80,212.81 L249.90,215.56 L250.00,214.15 L250.10,214.49 L250.20,214.14 L250.30,213.11 L250.40,214.43 L250.50,213.72 L250.60,213.23 L250.70,214.30 L250.80,215.00 L250.90,214.84 L251.00,214.40 L251.10,213.52 L251.20,213.84 L251.30,214.06 L251.40,212.66 L251.50,215.10 L251.60,214.33 L251.70,212.84 L251.80,215.87 L251.90,216.36 L252.00,212.85 L252.10,214.07 L252.20,213.36 L252.30,215.12 L252.40,212.79 L252.50,214.83 L252.60,214.72 L252.70,215.52 L252.80,212.25 L252.90,213.49 L253.00,214.10 L253.10,215.38 L253.20,214.44 L253.30,215.16 L253.40,214.85 L253.50,213.39 L253.60,214.24 L253.70,213.95 L253.80,214.04 L253.90,213.39 L254.00,215.22 L254.10,214.73 L254.20,212.34 L254.30,215.22 L254.40,213.81 L254.50,212.82 L254.60,215.76 L254.70,214.42 L254.80,214.84 L254.90,214.31 L255.00,214.42 L255.10,212.50 L255.20,215.30 L255.30,213.68 L255.40,214.51 L255.50,214.41 L255.60,213.45 L255.70,213.15 L255.80,214.35 L255.90,215.92 L256.00,213.82 L256.10,213.89 L256.20,214.65 L256.30,213.93 L256.40,216.00 L256.50,215.08 L256.60,217.32 L256.70,214.83 L256.80,217.02 L256.90,213.97 L257.00,214.87 L257.10,213.47 L257.20,214.22 L257.30,214.31 L257.40,215.33 L257.50,216.15 L257.60,214.39 L257.70,213.11 L257.80,214.70 L257.90,214.52 L258.00,214.18 L258.10,215.66 L258.20,215.97 L258.30,213.98 L258.40,213.98 L258.50,211.93 L258.60,214.09 L258.70,215.70 L258.80,213.79 L258.90,215.79 L259.00,215.55 L259.10,215.50 L259.20,215.52 L259.30,214.75 L259.40,215.97 L259.50,216.02 L259.60,215.25 L259.70,214.84 L259.80,216.31 L259.90,216.54 L260.00,214.21 L260.10,215.83 L260.20,214.99 L260.30,217.49 L260.40,214.59 L260.50,214.27 L260.60,213.95 L260.70,215.96 L260.80,213.81 L260.90,215.68 L261.00,214.42 L261.10,216.46 L261.20,216.72 L261.30,216.26 L261.40,212.88 L261.50,213.42 L261.60,212.11 L261.70,217.84 L261.80,214.39 L261.90,214.59 L262.00,215.10 L262.10,215.72 L262.20,214.70 L262.30,215.14 L262.40,215.07 L262.50,213.66 L262.60,217.08 L262.70,217.00 L262.80,215.14 L262.90,214.97 L263.00,217.19 L263.10,217.81 L263.20,215.20 L263.30,215.81 L263.40,214.70 L263.50,215.53 L263.60,212.37 L263.70,212.71 L263.80,215.68 L263.90,214.99 L264.00,215.64 L264.10,215.30 L264.20,215.88 L264.30,215.51 L264.40,215.05 L264.50,215.71 L264.60,214.52 L264.70,216.81 L264.80,214.20 L264.90,214.84 L265.00,216.28 L265.10,214.89 L265.20,216.36 L265.30,216.92 L265.40,216.18 L265.50,214.84 L265.60,217.43 L265.70,215.85 L265.80,214.29 L265.90,217.58 L266.00,215.57 L266.10,216.06 L266.20,216.38 L266.30,214.83 L266.40,216.39 L266.50,214.04 L266.60,214.34 L266.70,214.99 L266.80,217.83 L266.90,216.10 L267.00,216.73 L267.10,214.98 L267.20,216.05 L267.30,213.15 L267.40,215.20 L267.50,215.97 L267.60,214.87 L267.70,213.32 L267.80,213.71 L267.90,216.22 L268.00,217.00 L268.10,215.11 L268.20,217.29 L268.30,214.11 L268.40,216.23 L268.50,215.88 L268.60,216.71 L268.70,213.90 L268.80,216.66 L268.90,215.69 L269.00,214.62 L269.10,215.07 L269.20,215.34 L269.30,215.89 L269.40,214.65 L269.50,214.64 L269.60,215.69 L269.70,215.55 L269.80,216.15 L269.90,216.60 L270.00,213.56 L270.10,215.51 L270.20,215.87 L270.30,215.66 L270.40,214.43 L270.50,216.41 L270.60,217.52 L270.70,215.43 L270.80,214.75 L270.90,216.49 L271.00,215.66 L271.10,215.77 L271.20,215.90 L271.30,215.15 L271.40,215.64 L271.50,214.86 L271.60,213.49 L271.70,216.82 L271.80,216.00 L271.90,215.61 L272.00,217.18 L272.10,215.52 L272.20,216.94 L272.30,216.62 L272.40,215.39 L272.50,214.33 L272.60,216.25 L272.70,215.98 L272.80,216.86 L272.90,214.03 L273.00,215.61 L273.10,216.01 L273.20,216.14 L273.30,215.90 L273.40,216.12 L273.50,213.21 L273.60,215.44 L273.70,215.05 L273.80,214.09 L273.90,215.93 L274.00,215.38 L274.10,214.53 L274.20,214.28 L274.30,216.19 L274.40,213.02 L274.50,215.74 L274.60,214.61 L274.70,216.00 L274.80,217.99 L274.90,217.00 L275.00,215.81 L275.10,217.55 L275.20,217.98 L275.30,217.00 L275.40,217.96 L275.50,216.15 L275.60,216.63 L275.70,215.84 L275.80,215.52 L275.90,215.97 L276.00,215.09 L276.10,215.85 L276.20,218.42 L276.30,216.77 L276.40,215.77 L276.50,217.90 L276.60,217.60 L276.70,214.82 L276.80,215.23 L276.90,217.94 L277.00,216.13 L277.10,216.23 L277.20,215.45 L277.30,214.81 L277.40,217.33 L277.50,215.16 L277.60,216.66 L277.70,218.14 L277.80,216.67 L277.90,215.85 L278.00,216.79 L278.10,216.72 L278.20,215.59 L278.30,216.40 L278.40,214.77 L278.50,214.17 L278.60,215.51 L278.70,214.17 L278.80,215.43 L278.90,216.00 L279.00,216.35 L279.10,218.22 L279.20,215.12 L279.30,215.65 L279.40,215.65 L279.50,215.04 L279.60,218.43 L279.70,215.31 L279.80,215.92 L279.90,215.99 L280.00,218.91 L280.10,215.85 L280.20,215.34 L280.30,217.59 L280.40,215.47 L280.50,213.86 L280.60,217.49 L280.70,217.27 L280.80,214.63 L280.90,214.85 L281.00,216.20 L281.10,215.16 L281.20,214.55 L281.30,214.91 L281.40,218.26 L281.50,217.47 L281.60,215.07 L281.70,216.09 L281.80,216.39 L281.90,215.89 L282.00,216.24 L282.10,218.25 L282.20,215.57 L282.30,215.42 L282.40,216.24 L282.50,215.54 L282.60,215.80 L282.70,215.81 L282.80,215.19 L282.90,217.68 L283.00,215.57 L283.10,217.82 L283.20,215.37 L283.30,215.31 L283.40,216.62 L283.50,216.05 L283.60,217.31 L283.70,217.12 L283.80,218.98 L283.90,213.57 L284.00,215.20 L284.10,216.33 L284.20,216.15 L284.30,216.33 L284.40,219.33 L284.50,213.85 L284.60,217.18 L284.70,216.16 L284.80,216.44 L284.90,217.66 L285.00,216.37 L285.10,217.34 L285.20,217.92 L285.30,217.81 L285.40,214.35 L285.50,215.73 L285.60,215.00 L285.70,215.59 L285.80,216.26 L285.90,218.85 L286.00,215.76 L286.10,216.16 L286.20,216.31 L286.30,218.21 L286.40,215.88 L286.50,217.03 L286.60,217.46 L286.70,217.18 L286.80,214.23 L286.90,215.05 L287.00,217.30 L287.10,214.53 L287.20,216.28 L287.30,214.83 L287.40,216.99 L287.50,216.49 L287.60,214.78 L287.70,216.26 L287.80,215.34 L287.90,215.92 L288.00,217.98 L288.10,216.88 L288.20,216.95 L288.30,218.31 L288.40,216.70 L288.50,218.07 L288.60,217.04 L288.70,216.90 L288.80,216.19 L288.90,215.67 L289.00,215.45 L289.10,215.57 L289.20,217.22 L289.30,217.10 L289.40,215.70 L289.50,218.03 L289.60,215.94 L289.70,216.22 L289.80,215.12 L289.90,215.73 L290.00,217.67 L290.10,217.19 L290.20,215.98 L290.30,218.09 L290.40,216.64 L290.50,216.80 L290.60,217.91 L290.70,217.25 L290.80,216.36 L290.90,215.56 L291.00,218.20 L291.10,214.11 L291.20,216.06 L291.30,214.81 L291.40,216.11 L291.50,217.73 L291.60,216.41 L291.70,216.31 L291.80,216.74 L291.90,219.00 L292.00,218.35 L292.10,217.07 L292.20,216.11 L292.30,216.39 L292.40,217.22 L292.50,216.58 L292.60,216.72 L292.70,215.69 L292.80,215.34 L292.90,215.64 L293.00,217.14 L293.10,215.85 L293.20,219.73 L293.30,217.53 L293.40,217.65 L293.50,218.05 L293.60,215.77 L293.70,215.64 L293.80,216.70 L293.90,217.63 L294.00,217.60 L294.10,218.83 L294.20,218.57 L294.30,218.20 L294.40,218.31 L294.50,217.36 L294.60,218.03 L294.70,216.78 L294.80,216.64 L294.90,218.17 L295.00,215.29 L295.10,218.70 L295.20,219.23 L295.30,216.63 L295.40,218.02 L295.50,217.39 L295.60,216.12 L295.70,217.64 L295.80,217.83 L295.90,218.37 L296.00,216.89 L296.10,217.42 L296.20,216.59 L296.30,218.40 L296.40,217.18 L296.50,218.25 L296.60,216.55 L296.70,217.44 L296.80,216.31 L296.90,216.49 L297.00,218.56 L297.10,217.13 L297.20,217.24 L297.30,218.15 L297.40,216.45 L297.50,219.51 L297.60,216.50 L297.70,216.93 L297.80,219.79 L297.90,215.47 L298.00,219.34 L298.10,217.82 L298.20,217.96 L298.30,216.23 L298.40,217.59 L298.50,216.00 L298.60,218.52 L298.70,217.14 L298.80,216.69 L298.90,216.88 L299.00,217.25 L299.10,218.51 L299.20,217.84 L299.30,216.59 L299.40,216.47 L299.50,216.30 L299.60,218.33 L299.70,217.98 L299.80,216.22 L299.90,215.65 L300.00,217.39 L300.10,216.82 L300.20,218.05 L300.30,217.34 L300.40,217.89 L300.50,218.37 L300.60,218.64 L300.70,217.25 L300.80,218.28 L300.90,216.86 L301.00,216.16 L301.10,217.75 L301.20,218.83 L301.30,219.08 L301.40,217.44 L301.50,215.61 L301.60,217.88 L301.70,217.29 L301.80,218.22 L301.90,218.72 L302.00,217.06 L302.10,216.76 L302.20,217.12 L302.30,216.80 L302.40,216.46 L302.50,217.80 L302.60,216.75 L302.70,217.25 L302.80,217.20 L302.90,216.90 L303.00,218.24 L303.10,217.07 L303.20,217.49 L303.30,218.47 L303.40,217.43 L303.50,216.00 L303.60,217.08 L303.70,217.08 L303.80,218.30 L303.90,219.44 L304.00,217.84 L304.10,217.48 L304.20,219.24 L304.30,216.87 L304.40,217.97 L304.50,218.17 L304.60,217.59 L304.70,217.45 L304.80,217.86 L304.90,219.33 L305.00,218.30 L305.10,217.02 L305.20,218.00 L305.30,218.74 L305.40,219.65 L305.50,218.58 L305.60,217.92 L305.70,219.23 L305.80,218.69 L305.90,217.88 L306.00,217.00 L306.10,217.83 L306.20,218.78 L306.30,216.57 L306.40,216.00 L306.50,218.31 L306.60,216.08 L306.70,216.34 L306.80,217.54 L306.90,217.51 L307.00,217.83 L307.10,217.96 L307.20,218.36 L307.30,217.67 L307.40,216.88 L307.50,214.98 L307.60,219.15 L307.70,218.66 L307.80,218.48 L307.90,217.78 L308.00,216.84 L308.10,218.33 L308.20,217.74 L308.30,216.33 L308.40,218.94 L308.50,216.27 L308.60,217.36 L308.70,219.76 L308.80,216.95 L308.90,218.04 L309.00,219.00 L309.10,217.86 L309.20,216.31 L309.30,217.32 L309.40,217.81 L309.50,216.22 L309.60,219.44 L309.70,218.22 L309.80,218.66 L309.90,218.17 L310.00,218.30 L310.10,217.50 L310.20,216.28 L310.30,218.63 L310.40,217.94 L310.50,219.62 L310.60,216.64 L310.70,218.09 L310.80,220.30 L310.90,216.46 L311.00,216.63 L311.10,218.18 L311.20,219.79 L311.30,216.64 L311.40,218.01 L311.50,217.75 L311.60,217.34 L311.70,217.68 L311.80,219.30 L311.90,218.12 L312.00,216.53 L312.10,217.30 L312.20,218.08 L312.30,216.44 L312.40,217.23 L312.50,217.54 L312.60,215.69 L312.70,220.03 L312.80,216.23 L312.90,218.07 L313.00,217.82 L313.10,217.35 L313.20,219.35 L313.30,218.09 L313.40,217.11 L313.50,219.32 L313.60,218.65 L313.70,216.91 L313.80,216.38 L313.90,219.03 L314.00,217.91 L314.10,216.46 L314.20,218.68 L314.30,216.50 L314.40,217.32 L314.50,217.19 L314.60,215.92 L314.70,218.86 L314.80,221.10 L314.90,218.82 L315.00,218.57 L315.10,217.84 L315.20,218.06 L315.30,218.44 L315.40,218.83 L315.50,217.60 L315.60,218.21 L315.70,217.94 L315.80,218.79 L315.90,219.22 L316.00,219.41 L316.10,217.72 L316.20,217.69 L316.30,218.99 L316.40,217.95 L316.50,218.01 L316.60,218.77 L316.70,218.69 L316.80,219.74 L316.90,216.95 L317.00,219.53 L317.10,217.79 L317.20,219.06 L317.30,216.90 L317.40,218.19 L317.50,217.65 L317.60,220.29 L317.70,217.31 L317.80,219.61 L317.90,217.48 L318.00,217.14 L318.10,218.72 L318.20,219.55 L318.30,218.33 L318.40,219.06 L318.50,218.67 L318.60,218.35 L318.70,219.95 L318.80,218.43 L318.90,219.39 L319.00,217.17 L319.10,218.24 L319.20,219.49 L319.30,217.96 L319.40,216.11 L319.50,219.30 L319.60,219.12 L319.70,218.17 L319.80,218.62 L319.90,218.14 L320.00,218.94 L320.10,219.73 L320.20,218.87 L320.30,218.43 L320.40,218.00 L320.50,218.37 L320.60,218.00 L320.70,219.62 L320.80,217.40 L320.90,217.93 L321.00,218.96 L321.10,218.95 L321.20,218.86 L321.30,218.13 L321.40,218.82 L321.50,217.03 L321.60,216.93 L321.70,217.20 L321.80,219.04 L321.90,220.14 L322.00,218.16 L322.10,218.03 L322.20,218.33 L322.30,220.65 L322.40,218.91 L322.50,218.79 L322.60,218.06 L322.70,219.24 L322.80,220.13 L322.90,218.92 L323.00,217.82 L323.10,220.16 L323.20,218.70 L323.30,220.69 L323.40,217.58 L323.50,218.58 L323.60,219.04 L323.70,216.82 L323.80,218.86 L323.90,219.43 L324.00,218.63 L324.10,219.25 L324.20,218.97 L324.30,217.85 L324.40,219.57 L324.50,217.96 L324.60,218.45 L324.70,217.98 L324.80,219.50 L324.90,218.28 L325.00,218.28 L325.10,216.45 L325.20,218.50 L325.30,219.90 L325.40,216.52 L325.50,219.22 L325.60,218.78 L325.70,216.92 L325.80,218.37 L325.90,219.88 L326.00,218.83 L326.10,219.23 L326.20,220.06 L326.30,218.50 L326.40,219.81 L326.50,217.50 L326.60,217.92 L326.70,220.46 L326.80,220.37 L326.90,219.91 L327.00,217.25 L327.10,218.65 L327.20,217.93 L327.30,221.01 L327.40,217.45 L327.50,217.53 L327.60,218.28 L327.70,219.30 L327.80,218.31 L327.90,218.62 L328.00,219.28 L328.10,219.00 L328.20,216.92 L328.30,217.60 L328.40,220.77 L328.50,219.04 L328.60,220.98 L328.70,220.59 L328.80,220.22 L328.90,219.09 L329.00,220.70 L329.10,218.54 L329.20,221.48 L329.30,219.69 L329.40,219.71" fill="none" stroke="#000" stroke-width="0.72" stroke-linejoin="round" />
<path d="M31.70,85.29 L31.80,85.49 L31.90,86.45 L32.00,86.51 L32.10,86.43 L32.20,86.56 L32.30,88.93 L32.40,90.87 L32.50,92.46 L32.60,91.06 L32.70,90.15 L32.80,91.64 L32.90,93.68 L33.00,91.67 L33.10,93.35 L33.20,92.77 L33.30,92.74 L33.40,92.03 L33.50,94.29 L33.60,92.31 L33.70,92.38 L33.80,94.71 L33.90,95.95 L34.00,96.19 L34.10,96.36 L34.20,94.96 L34.30,95.50 L34.40,97.62 L34.50,99.26 L34.60,92.54 L34.70,98.50 L34.80,97.29 L34.90,97.11 L35.00,96.32 L35.10,96.68 L35.20,96.06 L35.30,98.39 L35.40,96.79 L35.50,98.12 L35.60,96.40 L35.70,100.48 L35.80,99.92 L35.90,97.43 L36.00,99.95 L36.10,98.89 L36.20,98.37 L36.30,99.89 L36.40,101.16 L36.50,102.27 L36.60,100.65 L36.70,102.10 L36.80,101.55 L36.90,101.70 L37.00,102.28 L37.10,99.09 L37.20,100.60 L37.30,103.44 L37.40,99.55 L37.50,100.40 L37.60,104.42 L37.70,100.43 L37.80,102.19 L37.90,102.53 L38.00,101.88 L38.10,103.75 L38.20,103.79 L38.30,101.72 L38.40,105.30 L38.50,101.82 L38.60,102.48 L38.70,103.04 L38.80,103.65 L38.90,101.94 L39.00,103.96 L39.10,100.66 L39.20,103.17 L39.30,102.72 L39.40,103.11 L39.50,104.10 L39.60,104.67 L39.70,103.41 L39.80,104.60 L39.90,102.59 L40.00,104.28 L40.10,106.21 L40.20,104.08 L40.30,104.72 L40.40,105.23 L40.50,106.49 L40.60,106.00 L40.70,105.38 L40.80,104.35 L40.90,106.17 L41.00,102.38 L41.10,106.64 L41.20,105.15 L41.30,107.16 L41.40,106.31 L41.50,108.34 L41.60,105.74 L41.70,104.03 L41.80,106.87 L41.90,106.28 L42.00,106.92 L42.10,108.77 L42.20,106.05 L42.30,108.29 L42.40,108.69 L42.50,109.05 L42.60,105.02 L42.70,108.03 L42.80,107.00 L42.90,107.73 L43.00,107.05 L43.10,107.82 L43.20,109.63 L43.30,110.78 L43.40,109.52 L43.50,107.04 L43.60,110.46 L43.70,107.24 L43.80,108.49 L43.90,110.61 L44.00,108.41 L44.10,110.25 L44.20,109.03 L44.30,107.94 L44.40,109.86 L44.50,108.95 L44.60,112.09 L44.70,112.28 L44.80,112.01 L44.90,108.65 L45.00,112.61 L45.10,110.58 L45.20,110.91 L45.30,110.57 L45.40,109.66 L45.50,110.63 L45.60,111.70 L45.70,112.66 L45.80,111.43 L45.90,110.77 L46.00,110.18 L46.10,110.47 L46.20,113.10 L46.30,111.93 L46.40,111.39 L46.50,108.98 L46.60,108.89 L46.70,112.18 L46.80,112.18 L46.90,112.89 L47.00,111.74 L47.10,110.68 L47.20,109.34 L47.30,110.45 L47.40,108.67 L47.50,112.17 L47.60,112.46 L47.70,113.71 L47.80,109.55 L47.90,110.15 L48.00,112.87 L48.10,112.55 L48.20,109.53 L48.30,111.29 L48.40,112.40 L48.50,111.81 L48.60,112.87 L48.70,112.47 L48.80,111.74 L48.90,113.02 L49.00,112.46 L49.10,114.14 L49.20,110.75 L49.30,112.40 L49.40,111.85 L49.50,112.47 L49.60,113.36 L49.70,113.72 L49.80,110.09 L49.90,114.47 L50.00,113.69 L50.10,113.71 L50.20,113.15 L50.30,114.34 L50.40,113.67 L50.50,110.80 L50.60,112.31 L50.70,112.89 L50.80,112.77 L50.90,112.69 L51.00,114.10 L51.10,111.86 L51.20,112.37 L51.30,112.08 L51.40,113.37 L51.50,114.01 L51.60,112.27 L51.70,113.99 L51.80,112.78 L51.90,115.37 L52.00,110.60 L52.10,113.55 L52.20,115.10 L52.30,113.13 L52.40,112.18 L52.50,112.51 L52.60,114.40 L52.70,112.98 L52.80,115.11 L52.90,113.81 L53.00,113.03 L53.10,113.21 L53.20,114.43 L53.30,115.17 L53.40,112.80 L53.50,112.32 L53.60,112.36 L53.70,114.55 L53.80,116.34 L53.90,113.29 L54.00,114.88 L54.10,113.50 L54.20,115.27 L54.30,112.13 L54.40,114.88 L54.50,112.41 L54.60,113.04 L54.70,114.62 L54.80,113.90 L54.90,114.16 L55.00,114.97 L55.10,114.58 L55.20,116.31 L55.30,115.38 L55.40,113.31 L55.50,114.38 L55.60,113.79 L55.70,114.02 L55.80,116.93 L55.90,113.61 L56.00,116.34 L56.10,116.69 L56.20,118.19 L56.30,114.81 L56.40,115.18 L56.50,115.27 L56.60,114.44 L56.70,117.28 L56.80,117.56 L56.90,112.03 L57.00,114.64 L57.10,116.65 L57.20,113.77 L57.30,114.24 L57.40,115.21 L57.50,115.17 L57.60,114.97 L57.70,115.04 L57.80,117.61 L57.90,112.21 L58.00,114.59 L58.10,113.76 L58.20,115.57 L58.30,114.67 L58.40,115.88 L58.50,115.24 L58.60,118.23 L58.70,113.45 L58.80,114.51 L58.90,116.26 L59.00,114.57 L59.10,115.22 L59.20,112.95 L59.30,115.84 L59.40,114.68 L59.50,115.52 L59.60,113.49 L59.70,113.90 L59.80,113.41 L59.90,116.67 L60.00,112.06 L60.10,114.87 L60.20,114.55 L60.30,115.81 L60.40,114.40 L60.50,112.57 L60.60,114.51 L60.70,111.39 L60.80,114.94 L60.90,113.21 L61.00,112.16 L61.10,112.28 L61.20,113.51 L61.30,110.23 L61.40,114.54 L61.50,111.03 L61.60,113.79 L61.70,111.71 L61.80,113.83 L61.90,109.31 L62.00,111.89 L62.10,110.32 L62.20,109.23 L62.30,110.93 L62.40,109.12 L62.50,108.09 L62.60,108.46 L62.70,107.33 L62.80,107.74 L62.90,107.62 L63.00,108.82 L63.10,106.81 L63.20,105.49 L63.30,107.27 L63.40,105.31 L63.50,104.09 L63.60,103.39 L63.70,107.25 L63.80,104.24 L63.90,106.37 L64.00,102.32 L64.10,101.89 L64.20,105.58 L64.30,102.43 L64.40,102.20 L64.50,101.82 L64.60,100.32 L64.70,102.95 L64.80,99.35 L64.90,101.88 L65.00,98.83 L65.10,103.89 L65.20,100.76 L65.30,100.98 L65.40,96.48 L65.50,99.16 L65.60,97.36 L65.70,96.68 L65.80,96.40 L65.90,98.58 L66.00,97.11 L66.10,96.02 L66.20,95.59 L66.30,95.29 L66.40,95.21 L66.50,95.40 L66.60,93.90 L66.70,94.10 L66.80,91.98 L66.90,95.18 L67.00,96.02 L67.10,94.36 L67.20,97.19 L67.30,93.94 L67.40,95.19 L67.50,96.95 L67.60,95.65 L67.70,94.18 L67.80,96.03 L67.90,95.02 L68.00,97.45 L68.10,97.08 L68.20,95.77 L68.30,97.07 L68.40,99.07 L68.50,98.36 L68.60,98.16 L68.70,96.81 L68.80,96.41 L68.90,96.38 L69.00,99.24 L69.10,96.34 L69.20,98.82 L69.30,100.91 L69.40,96.56 L69.50,99.81 L69.60,98.24 L69.70,99.95 L69.80,101.34 L69.90,99.60 L70.00,99.58 L70.10,101.37 L70.20,102.71 L70.30,102.28 L70.40,101.89 L70.50,104.64 L70.60,102.43 L70.70,102.31 L70.80,104.81 L70.90,107.96 L71.00,104.43 L71.10,105.23 L71.20,104.13 L71.30,104.92 L71.40,104.39 L71.50,106.56 L71.60,105.42 L71.70,105.45 L71.80,108.04 L71.90,104.87 L72.00,108.38 L72.10,106.99 L72.20,106.13 L72.30,107.52 L72.40,107.33 L72.50,108.30 L72.60,107.70 L72.70,110.75 L72.80,109.74 L72.90,109.96 L73.00,106.87 L73.10,108.18 L73.20,110.42 L73.30,109.72 L73.40,109.04 L73.50,109.00 L73.60,110.67 L73.70,106.71 L73.80,108.24 L73.90,107.63 L74.00,111.21 L74.10,107.83 L74.20,109.45 L74.30,111.76 L74.40,109.58 L74.50,110.47 L74.60,110.21 L74.70,111.18 L74.80,113.34 L74.90,108.81 L75.00,110.42 L75.10,112.83 L75.20,113.88 L75.30,110.42 L75.40,112.68 L75.50,111.78 L75.60,111.79 L75.70,109.07 L75.80,108.86 L75.90,111.33 L76.00,111.04 L76.10,111.13 L76.20,109.73 L76.30,113.36 L76.40,111.21 L76.50,115.04 L76.60,111.27 L76.70,112.15 L76.80,112.73 L76.90,111.30 L77.00,110.48 L77.10,111.13 L77.20,111.98 L77.30,111.34 L77.40,114.77 L77.50,111.44 L77.60,113.25 L77.70,113.36 L77.80,112.58 L77.90,110.95 L78.00,113.14 L78.10,113.79 L78.20,112.81 L78.30,112.68 L78.40,109.80 L78.50,111.31 L78.60,112.59 L78.70,113.16 L78.80,113.97 L78.90,112.62 L79.00,113.32 L79.10,111.77 L79.20,114.05 L79.30,114.24 L79.40,113.18 L79.50,114.68 L79.60,113.04 L79.70,112.84 L79.80,113.17 L79.90,116.27 L80.00,111.51 L80.10,113.99 L80.20,113.31 L80.30,113.98 L80.40,111.93 L80.50,114.93 L80.60,114.88 L80.70,113.71 L80.80,113.55 L80.90,114.26 L81.00,115.50 L81.10,112.26 L81.20,116.21 L81.30,113.99 L81.40,115.57 L81.50,113.43 L81.60,117.18 L81.70,115.00 L81.80,117.06 L81.90,113.97 L82.00,113.99 L82.10,116.40 L82.20,115.91 L82.30,115.49 L82.40,116.74 L82.50,115.73 L82.60,114.79 L82.70,112.81 L82.80,112.36 L82.90,116.30 L83.00,116.27 L83.10,114.40 L83.20,116.37 L83.30,115.47 L83.40,115.87 L83.50,117.16 L83.60,113.91 L83.70,116.52 L83.80,116.83 L83.90,115.98 L84.00,116.53 L84.10,114.91 L84.20,116.69 L84.30,117.41 L84.40,117.70 L84.50,115.87 L84.60,117.92 L84.70,117.36 L84.80,117.93 L84.90,117.11 L85.00,118.08 L85.10,117.62 L85.20,120.61 L85.30,117.17 L85.40,119.13 L85.50,117.74 L85.60,115.94 L85.70,118.58 L85.80,119.65 L85.90,119.15 L86.00,119.29 L86.10,117.34 L86.20,118.88 L86.30,116.82 L86.40,120.99 L86.50,120.80 L86.60,117.58 L86.70,118.52 L86.80,117.54 L86.90,118.27 L87.00,118.76 L87.10,117.93 L87.20,118.95 L87.30,120.45 L87.40,119.38 L87.50,120.76 L87.60,119.73 L87.70,120.17 L87.80,118.53 L87.90,121.41 L88.00,118.88 L88.10,119.96 L88.20,118.89 L88.30,121.25 L88.40,119.38 L88.50,121.52 L88.60,123.34 L88.70,121.43 L88.80,118.24 L88.90,122.44 L89.00,121.50 L89.10,122.15 L89.20,122.00 L89.30,123.04 L89.40,122.95 L89.50,121.69 L89.60,120.30 L89.70,121.85 L89.80,123.02 L89.90,119.81 L90.00,122.43 L90.10,120.08 L90.20,123.84 L90.30,124.85 L90.40,123.73 L90.50,122.20 L90.60,123.81 L90.70,124.58 L90.80,125.10 L90.90,124.88 L91.00,124.56 L91.10,122.06 L91.20,123.26 L91.30,124.06 L91.40,123.63 L91.50,121.23 L91.60,123.54 L91.70,122.96 L91.80,124.19 L91.90,124.45 L92.00,122.33 L92.10,123.26 L92.20,124.48 L92.30,123.08 L92.40,124.42 L92.50,123.51 L92.60,123.76 L92.70,125.80 L92.80,124.64 L92.90,124.21 L93.00,126.86 L93.10,124.67 L93.20,125.11 L93.30,125.25 L93.40,128.41 L93.50,126.17 L93.60,126.54 L93.70,125.11 L93.80,126.68 L93.90,127.11 L94.00,124.38 L94.10,126.42 L94.20,127.98 L94.30,128.28 L94.40,126.44 L94.50,129.03 L94.60,125.47 L94.70,127.66 L94.80,127.11 L94.90,125.26 L95.00,127.85 L95.10,125.15 L95.20,125.98 L95.30,126.74 L95.40,125.47 L95.50,128.42 L95.60,126.53 L95.70,125.65 L95.80,127.54 L95.90,127.29 L96.00,126.06 L96.10,126.79 L96.20,128.60 L96.30,128.59 L96.40,125.77 L96.50,128.92 L96.60,129.00 L96.70,129.28 L96.80,127.39 L96.90,127.12 L97.00,128.00 L97.10,127.40 L97.20,127.95 L97.30,127.61 L97.40,128.06 L97.50,127.88 L97.60,128.58 L97.70,128.81 L97.80,128.37 L97.90,128.10 L98.00,130.74 L98.10,130.01 L98.20,129.55 L98.30,127.99 L98.40,129.85 L98.50,128.98 L98.60,129.95 L98.70,129.59 L98.80,132.34 L98.90,129.47 L99.00,128.32 L99.10,130.87 L99.20,131.02 L99.30,131.32 L99.40,126.70 L99.50,128.75 L99.60,128.96 L99.70,128.06 L99.80,130.21 L99.90,130.91 L100.00,131.47 L100.10,131.34 L100.20,130.36 L100.30,132.24 L100.40,130.77 L100.50,127.47 L100.60,130.23 L100.70,129.79 L100.80,131.14 L100.90,130.31 L101.00,130.50 L101.10,132.57 L101.20,130.13 L101.30,129.48 L101.40,131.45 L101.50,131.99 L101.60,131.17 L101.70,131.37 L101.80,130.76 L101.90,129.97 L102.00,130.70 L102.10,130.42 L102.20,133.18 L102.30,131.52 L102.40,133.54 L102.50,131.81 L102.60,130.97 L102.70,132.34 L102.80,132.43 L102.90,133.82 L103.00,129.99 L103.10,131.93 L103.20,132.97 L103.30,131.70 L103.40,132.79 L103.50,132.39 L103.60,134.47 L103.70,134.35 L103.80,130.58 L103.90,131.26 L104.00,132.20 L104.10,133.12 L104.20,133.09 L104.30,132.76 L104.40,134.13 L104.50,134.52 L104.60,133.71 L104.70,133.33 L104.80,133.79 L104.90,132.87 L105.00,134.86 L105.10,134.94 L105.20,133.00 L105.30,135.82 L105.40,134.17 L105.50,135.25 L105.60,134.38 L105.70,134.25 L105.80,135.35 L105.90,133.50 L106.00,134.42 L106.10,133.42 L106.20,135.42 L106.30,134.67 L106.40,134.65 L106.50,134.49 L106.60,135.90 L106.70,135.55 L106.80,135.08 L106.90,134.88 L107.00,137.51 L107.10,137.27 L107.20,134.38 L107.30,137.09 L107.40,136.40 L107.50,136.24 L107.60,136.45 L107.70,134.51 L107.80,138.91 L107.90,138.52 L108.00,136.34 L108.10,136.38 L108.20,136.62 L108.30,135.78 L108.40,137.22 L108.50,136.65 L108.60,135.56 L108.70,136.29 L108.80,136.19 L108.90,136.31 L109.00,136.69 L109.10,137.85 L109.20,136.76 L109.30,135.49 L109.40,138.98 L109.50,136.81 L109.60,139.14 L109.70,137.89 L109.80,138.31 L109.90,136.84 L110.00,137.96 L110.10,137.52 L110.20,137.95 L110.30,138.62 L110.40,137.75 L110.50,139.18 L110.60,136.78 L110.70,137.23 L110.80,138.98 L110.90,139.16 L111.00,139.84 L111.10,140.52 L111.20,139.32 L111.30,139.74 L111.40,139.28 L111.50,139.25 L111.60,139.06 L111.70,139.37 L111.80,138.72 L111.90,139.25 L112.00,140.36 L112.10,140.12 L112.20,140.91 L112.30,139.23 L112.40,139.43 L112.50,140.37 L112.60,139.05 L112.70,139.09 L112.80,140.81 L112.90,139.89 L113.00,141.23 L113.10,140.47 L113.20,139.98 L113.30,139.41 L113.40,141.90 L113.50,140.60 L113.60,139.81 L113.70,139.23 L113.80,139.58 L113.90,140.56 L114.00,142.40 L114.10,140.17 L114.20,141.54 L114.30,141.55 L114.40,138.70 L114.50,140.10 L114.60,142.40 L114.70,139.42 L114.80,142.89 L114.90,141.78 L115.00,140.06 L115.10,143.91 L115.20,141.87 L115.30,143.77 L115.40,142.39 L115.50,141.45 L115.60,143.52 L115.70,144.31 L115.80,143.85 L115.90,141.31 L116.00,143.31 L116.10,141.49 L116.20,142.18 L116.30,144.32 L116.40,141.47 L116.50,145.70 L116.60,141.50 L116.70,141.84 L116.80,144.09 L116.90,143.16 L117.00,143.31 L117.10,142.56 L117.20,144.40 L117.30,143.94 L117.40,143.70 L117.50,143.01 L117.60,142.37 L117.70,144.02 L117.80,141.82 L117.90,143.50 L118.00,144.93 L118.10,145.08 L118.20,144.00 L118.30,141.95 L118.40,145.18 L118.50,145.61 L118.60,144.82 L118.70,146.18 L118.80,146.00 L118.90,143.26 L119.00,144.86 L119.10,144.66 L119.20,146.89 L119.30,146.46 L119.40,145.54 L119.50,146.10 L119.60,146.50 L119.70,144.93 L119.80,145.56 L119.90,145.73 L120.00,145.48 L120.10,145.65 L120.20,146.32 L120.30,144.82 L120.40,145.05 L120.50,147.12 L120.60,147.97 L120.70,148.41 L120.80,144.75 L120.90,147.03 L121.00,145.86 L121.10,146.24 L121.20,146.65 L121.30,147.37 L121.40,147.62 L121.50,144.64 L121.60,146.58 L121.70,148.39 L121.80,147.49 L121.90,145.79 L122.00,146.51 L122.10,146.78 L122.20,148.71 L122.30,149.55 L122.40,146.72 L122.50,148.43 L122.60,147.70 L122.70,148.66 L122.80,147.92 L122.90,147.09 L123.00,147.65 L123.10,147.73 L123.20,149.95 L123.30,147.80 L123.40,149.21 L123.50,147.88 L123.60,148.14 L123.70,149.13 L123.80,148.42 L123.90,151.05 L124.00,150.49 L124.10,148.12 L124.20,149.87 L124.30,150.95 L124.40,148.33 L124.50,149.22 L124.60,151.20 L124.70,148.99 L124.80,150.54 L124.90,149.93 L125.00,150.28 L125.10,149.16 L125.20,150.22 L125.30,149.95 L125.40,152.22 L125.50,151.21 L125.60,150.78 L125.70,150.75 L125.80,151.54 L125.90,149.38 L126.00,150.07 L126.10,150.25 L126.20,150.46 L126.30,149.73 L126.40,151.95 L126.50,151.07 L126.60,152.86 L126.70,151.61 L126.80,151.46 L126.90,152.35 L127.00,152.43 L127.10,151.82 L127.20,152.76 L127.30,153.51 L127.40,151.95 L127.50,153.73 L127.60,152.38 L127.70,153.50 L127.80,152.71 L127.90,152.47 L128.00,153.22 L128.10,151.94 L128.20,151.56 L128.30,153.15 L128.40,153.04 L128.50,152.28 L128.60,155.47 L128.70,153.92 L128.80,152.91 L128.90,154.18 L129.00,154.28 L129.10,153.47 L129.20,153.69 L129.30,152.22 L129.40,154.28 L129.50,155.93 L129.60,155.30 L129.70,155.27 L129.80,153.79 L129.90,153.39 L130.00,155.31 L130.10,154.82 L130.20,154.41 L130.30,154.35 L130.40,155.59 L130.50,155.35 L130.60,154.37 L130.70,154.75 L130.80,153.33 L130.90,153.84 L131.00,155.51 L131.10,154.59 L131.20,154.24 L131.30,155.34 L131.40,156.29 L131.50,154.35 L131.60,154.85 L131.70,154.93 L131.80,157.46 L131.90,156.14 L132.00,155.44 L132.10,153.87 L132.20,155.89 L132.30,155.71 L132.40,154.98 L132.50,154.44 L132.60,154.69 L132.70,153.54 L132.80,154.67 L132.90,154.55 L133.00,154.08 L133.10,154.56 L133.20,153.32 L133.30,155.74 L133.40,154.45 L133.50,153.40 L133.60,155.08 L133.70,154.76 L133.80,153.64 L133.90,152.73 L134.00,153.71 L134.10,154.01 L134.20,153.96 L134.30,153.99 L134.40,153.67 L134.50,151.25 L134.60,152.41 L134.70,150.24 L134.80,152.47 L134.90,151.53 L135.00,151.56 L135.10,150.20 L135.20,149.57 L135.30,148.43 L135.40,145.98 L135.50,147.19 L135.60,148.80 L135.70,146.58 L135.80,144.03 L135.90,143.21 L136.00,141.84 L136.10,139.22 L136.20,137.87 L136.30,136.09 L136.40,133.01 L136.50,131.35 L136.60,129.34 L136.70,126.14 L136.80,122.77 L136.90,119.62 L137.00,118.00 L137.10,114.90 L137.20,113.56 L137.30,114.87 L137.40,113.83 L137.50,114.23 L137.60,118.21 L137.70,120.57 L137.80,123.72 L137.90,125.50 L138.00,129.51 L138.10,131.10 L138.20,132.86 L138.30,135.97 L138.40,138.49 L138.50,139.19 L138.60,141.73 L138.70,143.64 L138.80,144.39 L138.90,146.06 L139.00,147.04 L139.10,147.30 L139.20,149.19 L139.30,150.18 L139.40,148.53 L139.50,150.36 L139.60,152.28 L139.70,152.46 L139.80,150.80 L139.90,153.15 L140.00,154.59 L140.10,154.47 L140.20,154.70 L140.30,154.20 L140.40,154.65 L140.50,153.80 L140.60,155.09 L140.70,157.37 L140.80,155.48 L140.90,154.86 L141.00,156.35 L141.10,154.21 L141.20,158.25 L141.30,156.91 L141.40,156.26 L141.50,156.30 L141.60,155.94 L141.70,156.98 L141.80,157.02 L141.90,155.70 L142.00,158.09 L142.10,156.98 L142.20,156.41 L142.30,158.32 L142.40,158.24 L142.50,157.14 L142.60,157.15 L142.70,158.79 L142.80,157.53 L142.90,158.14 L143.00,159.25 L143.10,157.01 L143.20,156.81 L143.30,157.46 L143.40,157.77 L143.50,158.37 L143.60,159.28 L143.70,158.08 L143.80,160.03 L143.90,158.76 L144.00,156.85 L144.10,158.64 L144.20,159.36 L144.30,159.76 L144.40,158.18 L144.50,158.78 L144.60,160.90 L144.70,159.09 L144.80,158.18 L144.90,157.69 L145.00,158.70 L145.10,159.46 L145.20,158.19 L145.30,160.42 L145.40,158.58 L145.50,157.59 L145.60,159.91 L145.70,159.40 L145.80,159.20 L145.90,160.58 L146.00,158.95 L146.10,160.14 L146.20,159.08 L146.30,161.04 L146.40,159.63 L146.50,159.68 L146.60,160.22 L146.70,159.65 L146.80,160.16 L146.90,159.58 L147.00,160.37 L147.10,159.91 L147.20,159.41 L147.30,160.42 L147.40,160.36 L147.50,159.04 L147.60,159.74 L147.70,158.55 L147.80,160.16 L147.90,160.83 L148.00,162.26 L148.10,160.41 L148.20,161.11 L148.30,161.51 L148.40,160.88 L148.50,158.62 L148.60,159.88 L148.70,160.62 L148.80,160.61 L148.90,160.48 L149.00,159.61 L149.10,158.78 L149.20,160.78 L149.30,161.49 L149.40,160.08 L149.50,161.01 L149.60,160.08 L149.70,160.45 L149.80,160.09 L149.90,161.35 L150.00,159.84 L150.10,160.80 L150.20,161.49 L150.30,160.70 L150.40,159.67 L150.50,161.10 L150.60,160.63 L150.70,159.68 L150.80,160.67 L150.90,160.59 L151.00,161.41 L151.10,160.47 L151.20,161.00 L151.30,161.46 L151.40,159.29 L151.50,161.83 L151.60,161.01 L151.70,160.14 L151.80,161.15 L151.90,161.95 L152.00,160.47 L152.10,160.60 L152.20,162.29 L152.30,162.48 L152.40,162.87 L152.50,161.19 L152.60,160.35 L152.70,160.36 L152.80,160.93 L152.90,160.36 L153.00,161.62 L153.10,162.36 L153.20,160.35 L153.30,162.57 L153.40,160.52 L153.50,160.72 L153.60,160.14 L153.70,161.98 L153.80,161.29 L153.90,161.40 L154.00,159.11 L154.10,160.89 L154.20,161.68 L154.30,159.15 L154.40,163.14 L154.50,161.73 L154.60,162.42 L154.70,161.22 L154.80,162.29 L154.90,162.62 L155.00,163.74 L155.10,160.63 L155.20,163.35 L155.30,160.63 L155.40,161.71 L155.50,161.24 L155.60,161.44 L155.70,159.92 L155.80,161.35 L155.90,160.57 L156.00,161.44 L156.10,161.84 L156.20,161.67 L156.30,161.53 L156.40,162.82 L156.50,161.90 L156.60,162.13 L156.70,162.76 L156.80,161.54 L156.90,161.67 L157.00,162.14 L157.10,161.32 L157.20,162.61 L157.30,160.96 L157.40,161.29 L157.50,161.32 L157.60,161.13 L157.70,161.35 L157.80,160.90 L157.90,159.21 L158.00,162.19 L158.10,160.76 L158.20,161.69 L158.30,160.04 L158.40,161.37 L158.50,159.65 L158.60,161.89 L158.70,160.38 L158.80,159.96 L158.90,157.88 L159.00,158.03 L159.10,159.33 L159.20,158.98 L159.30,158.73 L159.40,158.54 L159.50,159.50 L159.60,158.00 L159.70,157.66 L159.80,157.01 L159.90,156.38 L160.00,157.27 L160.10,156.28 L160.20,156.06 L160.30,156.43 L160.40,156.12 L160.50,156.72 L160.60,156.76 L160.70,155.19 L160.80,155.87 L160.90,157.68 L161.00,156.90 L161.10,158.16 L161.20,157.27 L161.30,156.35 L161.40,156.95 L161.50,158.61 L161.60,159.20 L161.70,161.91 L161.80,160.85 L161.90,161.10 L162.00,161.55 L162.10,159.65 L162.20,161.29 L162.30,161.36 L162.40,163.32 L162.50,161.22 L162.60,160.74 L162.70,162.20 L162.80,162.12 L162.90,162.49 L163.00,162.73 L163.10,162.79 L163.20,162.22 L163.30,162.49 L163.40,164.93 L163.50,162.53 L163.60,163.58 L163.70,162.39 L163.80,161.86 L163.90,164.16 L164.00,163.65 L164.10,164.68 L164.20,164.53 L164.30,163.92 L164.40,163.15 L164.50,165.49 L164.60,163.98 L164.70,165.80 L164.80,164.65 L164.90,164.90 L165.00,164.71 L165.10,164.64 L165.20,164.14 L165.30,166.34 L165.40,163.68 L165.50,163.21 L165.60,164.79 L165.70,164.04 L165.80,165.46 L165.90,164.53 L166.00,165.72 L166.10,164.86 L166.20,164.17 L166.30,164.60 L166.40,165.50 L166.50,164.44 L166.60,164.30 L166.70,164.89 L166.80,165.35 L166.90,166.15 L167.00,165.52 L167.10,165.93 L167.20,165.09 L167.30,166.83 L167.40,167.16 L167.50,164.83 L167.60,165.62 L167.70,165.35 L167.80,165.76 L167.90,165.28 L168.00,164.99 L168.10,164.53 L168.20,165.23 L168.30,165.70 L168.40,166.58 L168.50,166.23 L168.60,165.45 L168.70,165.29 L168.80,164.62 L168.90,166.47 L169.00,166.02 L169.10,166.47 L169.20,166.63 L169.30,166.49 L169.40,165.99 L169.50,165.87 L169.60,165.32 L169.70,165.65 L169.80,166.56 L169.90,168.10 L170.00,165.93 L170.10,166.49 L170.20,168.35 L170.30,166.44 L170.40,166.11 L170.50,166.43 L170.60,166.24 L170.70,164.88 L170.80,167.18 L170.90,165.06 L171.00,166.08 L171.10,166.21 L171.20,166.95 L171.30,166.43 L171.40,166.24 L171.50,165.94 L171.60,166.87 L171.70,166.41 L171.80,166.12 L171.90,165.63 L172.00,166.04 L172.10,166.89 L172.20,165.50 L172.30,166.92 L172.40,166.90 L172.50,167.79 L172.60,166.31 L172.70,166.09 L172.80,166.82 L172.90,166.61 L173.00,164.82 L173.10,167.93 L173.20,167.18 L173.30,167.11 L173.40,166.36 L173.50,167.34 L173.60,166.83 L173.70,168.38 L173.80,167.68 L173.90,168.29 L174.00,166.15 L174.10,166.46 L174.20,166.86 L174.30,166.72 L174.40,168.55 L174.50,167.56 L174.60,166.41 L174.70,167.09 L174.80,168.82 L174.90,167.10 L175.00,167.87 L175.10,165.99 L175.20,166.96 L175.30,167.31 L175.40,167.25 L175.50,167.47 L175.60,167.78 L175.70,168.45 L175.80,166.12 L175.90,167.61 L176.00,168.15 L176.10,167.79 L176.20,168.55 L176.30,167.53 L176.40,167.31 L176.50,167.01 L176.60,168.44 L176.70,166.68 L176.80,167.39 L176.90,167.72 L177.00,168.27 L177.10,167.56 L177.20,167.05 L177.30,168.30 L177.40,166.92 L177.50,167.27 L177.60,166.26 L177.70,168.04 L177.80,168.03 L177.90,166.52 L178.00,167.76 L178.10,168.41 L178.20,167.44 L178.30,166.65 L178.40,167.93 L178.50,168.52 L178.60,166.55 L178.70,168.75 L178.80,168.03 L178.90,168.84 L179.00,167.28 L179.10,168.89 L179.20,168.41 L179.30,168.81 L179.40,168.25 L179.50,169.00 L179.60,168.10 L179.70,167.90 L179.80,167.44 L179.90,167.03 L180.00,168.36 L180.10,168.05 L180.20,168.26 L180.30,168.13 L180.40,168.65 L180.50,168.43 L180.60,167.94 L180.70,169.04 L180.80,170.14 L180.90,167.76 L181.00,168.14 L181.10,168.95 L181.20,167.94 L181.30,169.36 L181.40,168.02 L181.50,167.62 L181.60,167.85 L181.70,169.47 L181.80,167.02 L181.90,168.76 L182.00,166.96 L182.10,169.29 L182.20,169.04 L182.30,169.28 L182.40,170.49 L182.50,168.74 L182.60,169.75 L182.70,169.33 L182.80,169.72 L182.90,168.30 L183.00,169.82 L183.10,168.70 L183.20,170.16 L183.30,169.76 L183.40,169.08 L183.50,169.52 L183.60,169.50 L183.70,169.28 L183.80,171.11 L183.90,168.47 L184.00,168.06 L184.10,168.11 L184.20,169.00 L184.30,169.17 L184.40,169.78 L184.50,170.04 L184.60,169.47 L184.70,169.41 L184.80,168.56 L184.90,170.12 L185.00,170.44 L185.10,169.26 L185.20,169.95 L185.30,168.88 L185.40,169.39 L185.50,169.50 L185.60,170.13 L185.70,168.29 L185.80,169.52 L185.90,170.19 L186.00,169.77 L186.10,170.04 L186.20,167.52 L186.30,168.83 L186.40,169.19 L186.50,168.93 L186.60,167.68 L186.70,170.41 L186.80,169.76 L186.90,168.02 L187.00,169.19 L187.10,169.62 L187.20,170.37 L187.30,170.15 L187.40,168.81 L187.50,169.11 L187.60,169.82 L187.70,170.44 L187.80,169.31 L187.90,169.17 L188.00,170.15 L188.10,169.81 L188.20,170.80 L188.30,170.11 L188.40,170.53 L188.50,168.17 L188.60,168.67 L188.70,168.54 L188.80,169.22 L188.90,170.06 L189.00,169.57 L189.10,170.20 L189.20,169.20 L189.30,170.60 L189.40,170.51 L189.50,168.45 L189.60,168.99 L189.70,169.36 L189.80,170.52 L189.90,170.50 L190.00,171.32 L190.10,168.68 L190.20,170.07 L190.30,169.89 L190.40,169.69 L190.50,169.81 L190.60,168.27 L190.70,170.18 L190.80,169.61 L190.90,168.95 L191.00,171.10 L191.10,169.42 L191.20,170.18 L191.30,169.44 L191.40,168.76 L191.50,169.65 L191.60,170.28 L191.70,169.23 L191.80,170.46 L191.90,171.43 L192.00,171.03 L192.10,169.84 L192.20,169.47 L192.30,170.85 L192.40,169.01 L192.50,169.31 L192.60,171.54 L192.70,170.48 L192.80,170.58 L192.90,169.97 L193.00,172.26 L193.10,172.27 L193.20,170.13 L193.30,170.94 L193.40,170.05 L193.50,170.67 L193.60,171.39 L193.70,171.36 L193.80,170.14 L193.90,170.68 L194.00,172.35 L194.10,171.15 L194.20,171.55 L194.30,170.86 L194.40,170.33 L194.50,169.54 L194.60,169.64 L194.70,169.09 L194.80,169.57 L194.90,169.74 L195.00,171.05 L195.10,169.13 L195.20,170.82 L195.30,168.90 L195.40,172.47 L195.50,170.04 L195.60,170.63 L195.70,171.94 L195.80,170.37 L195.90,170.62 L196.00,170.66 L196.10,171.00 L196.20,170.16 L196.30,171.99 L196.40,171.50 L196.50,170.70 L196.60,171.59 L196.70,170.52 L196.80,170.19 L196.90,170.54 L197.00,171.01 L197.10,169.39 L197.20,170.38 L197.30,171.02 L197.40,169.77 L197.50,170.93 L197.60,169.78 L197.70,170.84 L197.80,170.62 L197.90,170.97 L198.00,170.11 L198.10,169.11 L198.20,168.61 L198.30,172.70 L198.40,169.53 L198.50,170.02 L198.60,169.39 L198.70,171.86 L198.80,171.33 L198.90,171.44 L199.00,169.83 L199.10,171.59 L199.20,170.15 L199.30,171.78 L199.40,170.72 L199.50,168.92 L199.60,170.71 L199.70,170.09 L199.80,172.77 L199.90,169.74 L200.00,170.57 L200.10,170.59 L200.20,170.14 L200.30,170.24 L200.40,170.79 L200.50,171.13 L200.60,170.50 L200.70,170.63 L200.80,170.86 L200.90,170.09 L201.00,170.68 L201.10,170.90 L201.20,171.72 L201.30,171.44 L201.40,171.30 L201.50,171.65 L201.60,170.28 L201.70,171.83 L201.80,170.62 L201.90,170.81 L202.00,170.60 L202.10,171.47 L202.20,170.42 L202.30,171.42 L202.40,170.67 L202.50,170.55 L202.60,171.28 L202.70,170.27 L202.80,171.93 L202.90,170.40 L203.00,170.59 L203.10,171.95 L203.20,169.80 L203.30,171.72 L203.40,171.05 L203.50,171.08 L203.60,171.17 L203.70,170.28 L203.80,172.34 L203.90,171.46 L204.00,171.55 L204.10,171.69 L204.20,171.82 L204.30,171.30 L204.40,170.29 L204.50,170.02 L204.60,169.97 L204.70,170.70 L204.80,171.87 L204.90,170.03 L205.00,170.80 L205.10,171.56 L205.20,170.81 L205.30,170.88 L205.40,170.23 L205.50,171.23 L205.60,170.63 L205.70,170.54 L205.80,170.78 L205.90,171.41 L206.00,171.89 L206.10,170.20 L206.20,171.52 L206.30,170.25 L206.40,169.65 L206.50,170.61 L206.60,171.19 L206.70,171.11 L206.80,171.46 L206.90,169.55 L207.00,172.28 L207.10,171.84 L207.20,171.72 L207.30,169.92 L207.40,171.56 L207.50,170.80 L207.60,170.82 L207.70,171.23 L207.80,169.95 L207.90,172.09 L208.00,172.05 L208.10,171.88 L208.20,172.37 L208.30,169.91 L208.40,171.03 L208.50,171.00 L208.60,170.29 L208.70,171.93 L208.80,173.32 L208.90,170.47 L209.00,171.77 L209.10,171.38 L209.20,171.45 L209.30,171.41 L209.40,171.88 L209.50,170.85 L209.60,171.03 L209.70,172.67 L209.80,171.37 L209.90,171.36 L210.00,169.99 L210.10,171.75 L210.20,171.87 L210.30,171.60 L210.40,172.64 L210.50,169.83 L210.60,172.11 L210.70,170.12 L210.80,170.58 L210.90,169.84 L211.00,172.06 L211.10,171.31 L211.20,171.07 L211.30,171.44 L211.40,169.76 L211.50,170.93 L211.60,171.57 L211.70,170.95 L211.80,171.37 L211.90,170.18 L212.00,171.56 L212.10,171.19 L212.20,171.60 L212.30,172.67 L212.40,171.50 L212.50,170.97 L212.60,171.75 L212.70,170.57 L212.80,172.74 L212.90,171.46 L213.00,171.47 L213.10,171.85 L213.20,170.48 L213.30,171.45 L213.40,171.29 L213.50,173.16 L213.60,172.61 L213.70,172.92 L213.80,171.52 L213.90,171.61 L214.00,172.32 L214.10,170.96 L214.20,170.78 L214.30,172.74 L214.40,171.89 L214.50,171.89 L214.60,170.18 L214.70,171.19 L214.80,171.16 L214.90,170.98 L215.00,171.79 L215.10,170.82 L215.20,170.62 L215.30,173.09 L215.40,171.94 L215.50,170.76 L215.60,173.24 L215.70,172.03 L215.80,171.87 L215.90,169.67 L216.00,172.79 L216.10,171.76 L216.20,172.61 L216.30,173.00 L216.40,170.65 L216.50,173.14 L216.60,172.34 L216.70,171.78 L216.80,169.90 L216.90,173.25 L217.00,171.97 L217.10,172.21 L217.20,170.80 L217.30,172.22 L217.40,172.19 L217.50,172.93 L217.60,171.03 L217.70,170.05 L217.80,171.28 L217.90,170.98 L218.00,171.98 L218.10,171.65 L218.20,171.94 L218.30,172.78 L218.40,173.11 L218.50,171.83 L218.60,170.55 L218.70,171.79 L218.80,171.64 L218.90,171.73 L219.00,171.68 L219.10,171.78 L219.20,170.08 L219.30,172.23 L219.40,172.20 L219.50,172.07 L219.60,171.71 L219.70,172.50 L219.80,170.49 L219.90,171.72 L220.00,172.26 L220.10,171.46 L220.20,171.76 L220.30,172.60 L220.40,171.68 L220.50,171.13 L220.60,171.45 L220.70,172.11 L220.80,171.02 L220.90,171.85 L221.00,171.53 L221.10,171.89 L221.20,172.43 L221.30,172.42 L221.40,171.91 L221.50,172.04 L221.60,172.48 L221.70,171.27 L221.80,172.00 L221.90,171.00 L222.00,172.85 L222.10,171.98 L222.20,170.91 L222.30,171.54 L222.40,172.50 L222.50,172.14 L222.60,170.65 L222.70,173.29 L222.80,172.12 L222.90,172.24 L223.00,171.72 L223.10,171.34 L223.20,170.81 L223.30,172.09 L223.40,171.96 L223.50,171.79 L223.60,172.57 L223.70,172.24 L223.80,171.21 L223.90,171.69 L224.00,172.87 L224.10,170.95 L224.20,173.66 L224.30,171.61 L224.40,174.01 L224.50,172.38 L224.60,170.82 L224.70,172.40 L224.80,172.13 L224.90,171.74 L225.00,172.11 L225.10,172.12 L225.20,170.11 L225.30,172.65 L225.40,171.87 L225.50,172.11 L225.60,172.64 L225.70,172.10 L225.80,171.16 L225.90,172.74 L226.00,171.87 L226.10,172.30 L226.20,171.57 L226.30,172.01 L226.40,171.37 L226.50,173.35 L226.60,171.33 L226.70,172.88 L226.80,170.70 L226.90,172.35 L227.00,171.94 L227.10,172.92 L227.20,172.34 L227.30,173.91 L227.40,174.22 L227.50,171.75 L227.60,172.71 L227.70,171.45 L227.80,171.44 L227.90,172.14 L228.00,172.87 L228.10,172.70 L228.20,172.06 L228.30,173.06 L228.40,171.30 L228.50,171.51 L228.60,172.15 L228.70,170.81 L228.80,173.25 L228.90,172.11 L229.00,171.96 L229.10,172.56 L229.20,171.19 L229.30,172.13 L229.40,170.91 L229.50,172.10 L229.60,172.32 L229.70,173.45 L229.80,172.23 L229.90,173.26 L230.00,172.21 L230.10,170.97 L230.20,172.79 L230.30,172.26 L230.40,171.75 L230.50,172.91 L230.60,171.37 L230.70,171.88 L230.80,172.71 L230.90,172.81 L231.00,171.65 L231.10,172.37 L231.20,172.19 L231.30,172.59 L231.40,171.92 L231.50,170.45 L231.60,171.78 L231.70,173.21 L231.80,171.38 L231.90,171.85 L232.00,172.61 L232.10,171.77 L232.20,171.08 L232.30,171.86 L232.40,171.70 L232.50,171.14 L232.60,171.64 L232.70,170.65 L232.80,170.46 L232.90,170.74 L233.00,171.40 L233.10,171.48 L233.20,170.93 L233.30,172.15 L233.40,171.68 L233.50,171.16 L233.60,171.88 L233.70,172.03 L233.80,171.29 L233.90,170.17 L234.00,171.09 L234.10,171.17 L234.20,170.39 L234.30,169.78 L234.40,169.85 L234.50,169.67 L234.60,167.77 L234.70,170.14 L234.80,168.73 L234.90,169.99 L235.00,168.31 L235.10,167.47 L235.20,168.59 L235.30,167.94 L235.40,168.54 L235.50,167.56 L235.60,167.63 L235.70,167.60 L235.80,167.78 L235.90,168.85 L236.00,167.80 L236.10,169.16 L236.20,170.11 L236.30,168.79 L236.40,169.60 L236.50,169.40 L236.60,169.92 L236.70,170.53 L236.80,171.14 L236.90,171.47 L237.00,170.44 L237.10,171.62 L237.20,170.76 L237.30,170.48 L237.40,170.73 L237.50,170.09 L237.60,171.70 L237.70,170.35 L237.80,171.99 L237.90,173.93 L238.00,171.28 L238.10,170.45 L238.20,172.40 L238.30,171.37 L238.40,172.19 L238.50,172.27 L238.60,172.49 L238.70,174.12 L238.80,172.65 L238.90,172.65 L239.00,172.41 L239.10,171.96 L239.20,172.08 L239.30,171.78 L239.40,173.28 L239.50,172.53 L239.60,173.19 L239.70,172.96 L239.80,174.44 L239.90,172.69 L240.00,173.26 L240.10,172.34 L240.20,173.72 L240.30,172.71 L240.40,172.91 L240.50,171.85 L240.60,173.35 L240.70,174.21 L240.80,174.00 L240.90,172.15 L241.00,173.67 L241.10,172.47 L241.20,171.76 L241.30,172.09 L241.40,174.02 L241.50,172.83 L241.60,172.15 L241.70,173.37 L241.80,173.36 L241.90,172.89 L242.00,173.51 L242.10,172.86 L242.20,174.10 L242.30,173.76 L242.40,173.13 L242.50,173.46 L242.60,173.89 L242.70,173.13 L242.80,173.62 L242.90,173.13 L243.00,172.98 L243.10,171.78 L243.20,172.29 L243.30,172.47 L243.40,173.29 L243.50,175.23 L243.60,172.54 L243.70,172.93 L243.80,172.29 L243.90,172.98 L244.00,173.11 L244.10,173.82 L244.20,172.24 L244.30,173.69 L244.40,173.51 L244.50,173.10 L244.60,172.38 L244.70,172.53 L244.80,173.19 L244.90,173.79 L245.00,173.29 L245.10,172.79 L245.20,173.60 L245.30,172.59 L245.40,174.00 L245.50,175.40 L245.60,172.98 L245.70,174.22 L245.80,172.69 L245.90,173.52 L246.00,173.87 L246.10,174.39 L246.20,173.50 L246.30,174.52 L246.40,172.52 L246.50,173.34 L246.60,173.51 L246.70,173.59 L246.80,173.43 L246.90,174.96 L247.00,173.25 L247.10,174.33 L247.20,173.89 L247.30,175.15 L247.40,173.42 L247.50,174.15 L247.60,174.05 L247.70,171.61 L247.80,173.94 L247.90,174.44 L248.00,174.82 L248.10,172.84 L248.20,173.51 L248.30,174.62 L248.40,172.82 L248.50,173.08 L248.60,174.16 L248.70,174.24 L248.80,174.75 L248.90,174.60 L249.00,173.90 L249.10,172.95 L249.20,173.26 L249.30,173.76 L249.40,174.06 L249.50,173.82 L249.60,174.41 L249.70,173.22 L249.80,173.48 L249.90,172.82 L250.00,175.37 L250.10,173.71 L250.20,174.60 L250.30,174.83 L250.40,174.14 L250.50,173.73 L250.60,173.50 L250.70,173.69 L250.80,172.57 L250.90,173.49 L251.00,174.50 L251.10,174.14 L251.20,174.57 L251.30,174.55 L251.40,174.49 L251.50,174.04 L251.60,174.10 L251.70,174.67 L251.80,173.69 L251.90,172.94 L252.00,174.62 L252.10,174.02 L252.20,174.82 L252.30,173.50 L252.40,172.74 L252.50,173.88 L252.60,173.53 L252.70,173.29 L252.80,175.21 L252.90,174.25 L253.00,173.14 L253.10,172.83 L253.20,173.98 L253.30,174.51 L253.40,174.29 L253.50,174.97 L253.60,174.34 L253.70,174.46 L253.80,172.65 L253.90,175.09 L254.00,173.70 L254.10,174.84 L254.20,172.95 L254.30,173.45 L254.40,175.05 L254.50,173.21 L254.60,174.29 L254.70,173.87 L254.80,175.51 L254.90,174.48 L255.00,175.18 L255.10,174.18 L255.20,172.91 L255.30,175.77 L255.40,173.79 L255.50,174.27 L255.60,174.21 L255.70,173.04 L255.80,174.79 L255.90,173.96 L256.00,172.92 L256.10,173.13 L256.20,172.53 L256.30,173.67 L256.40,174.12 L256.50,173.55 L256.60,174.25 L256.70,174.01 L256.80,174.68 L256.90,174.29 L257.00,174.17 L257.10,173.68 L257.20,173.40 L257.30,173.62 L257.40,174.60 L257.50,173.96 L257.60,175.45 L257.70,174.96 L257.80,173.30 L257.90,174.69 L258.00,175.30 L258.10,173.87 L258.20,175.31 L258.30,173.82 L258.40,175.59 L258.50,174.80 L258.60,174.22 L258.70,173.13 L258.80,174.33 L258.90,173.84 L259.00,174.70 L259.10,173.75 L259.20,174.80 L259.30,174.08 L259.40,174.90 L259.50,175.09 L259.60,174.60 L259.70,174.85 L259.80,175.32 L259.90,173.76 L260.00,174.96 L260.10,174.69 L260.20,175.74 L260.30,174.38 L260.40,175.28 L260.50,173.24 L260.60,175.49 L260.70,174.87 L260.80,174.85 L260.90,175.25 L261.00,173.61 L261.10,174.41 L261.20,174.65 L261.30,174.35 L261.40,174.20 L261.50,175.34 L261.60,174.64 L261.70,174.43 L261.80,174.66 L261.90,175.64 L262.00,176.06 L262.10,175.47 L262.20,175.03 L262.30,173.64 L262.40,174.23 L262.50,173.96 L262.60,173.96 L262.70,175.59 L262.80,174.23 L262.90,175.74 L263.00,174.79 L263.10,174.61 L263.20,174.56 L263.30,173.64 L263.40,174.42 L263.50,175.39 L263.60,175.27 L263.70,174.87 L263.80,175.28 L263.90,174.89 L264.00,175.08 L264.10,176.60 L264.20,174.90 L264.30,173.48 L264.40,173.20 L264.50,174.25 L264.60,174.98 L264.70,175.57 L264.80,174.81 L264.90,174.94 L265.00,175.30 L265.10,174.11 L265.20,174.82 L265.30,175.12 L265.40,174.57 L265.50,174.25 L265.60,175.28 L265.70,175.72 L265.80,174.95 L265.90,173.13 L266.00,174.31 L266.10,174.59 L266.20,175.24 L266.30,174.56 L266.40,174.60 L266.50,175.67 L266.60,175.89 L266.70,175.00 L266.80,174.11 L266.90,174.02 L267.00,175.43 L267.10,174.37 L267.20,174.94 L267.30,174.82 L267.40,175.08 L267.50,175.23 L267.60,174.20 L267.70,174.50 L267.80,175.13 L267.90,175.01 L268.00,173.98 L268.10,176.45 L268.20,173.96 L268.30,175.80 L268.40,173.79 L268.50,175.75 L268.60,173.69 L268.70,175.73 L268.80,175.17 L268.90,175.65 L269.00,174.49 L269.10,175.25 L269.20,175.25 L269.30,175.19 L269.40,174.65 L269.50,176.10 L269.60,173.72 L269.70,173.93 L269.80,173.99 L269.90,176.18 L270.00,174.44 L270.10,174.56 L270.20,174.57 L270.30,174.89 L270.40,174.94 L270.50,174.77 L270.60,174.00 L270.70,175.47 L270.80,175.16 L270.90,176.31 L271.00,175.49 L271.10,175.12 L271.20,174.10 L271.30,175.26 L271.40,175.65 L271.50,176.47 L271.60,175.51 L271.70,175.82 L271.80,175.68 L271.90,176.47 L272.00,176.10 L272.10,175.29 L272.20,174.16 L272.30,176.49 L272.40,175.33 L272.50,174.67 L272.60,174.19 L272.70,173.94 L272.80,175.49 L272.90,175.17 L273.00,175.53 L273.10,176.23 L273.20,174.85 L273.30,175.54 L273.40,174.92 L273.50,174.67 L273.60,173.64 L273.70,174.74 L273.80,176.17 L273.90,174.96 L274.00,175.58 L274.10,175.45 L274.20,176.91 L274.30,176.49 L274.40,174.89 L274.50,175.06 L274.60,176.26 L274.70,175.58 L274.80,175.49 L274.90,176.31 L275.00,175.86 L275.10,175.55 L275.20,177.38 L275.30,175.76 L275.40,174.44 L275.50,175.72 L275.60,175.67 L275.70,176.76 L275.80,175.73 L275.90,175.01 L276.00,175.77 L276.10,174.56 L276.20,175.22 L276.30,175.77 L276.40,174.85 L276.50,173.97 L276.60,174.71 L276.70,174.89 L276.80,175.94 L276.90,175.15 L277.00,175.45 L277.10,174.79 L277.20,175.56 L277.30,175.03 L277.40,175.93 L277.50,175.69 L277.60,176.60 L277.70,175.95 L277.80,175.26 L277.90,174.85 L278.00,175.67 L278.10,176.06 L278.20,176.68 L278.30,175.09 L278.40,174.51 L278.50,174.12 L278.60,174.74 L278.70,175.35 L278.80,175.28 L278.90,175.25 L279.00,175.45 L279.10,175.73 L279.20,174.20 L279.30,175.50 L279.40,175.34 L279.50,175.32 L279.60,175.12 L279.70,174.03 L279.80,175.79 L279.90,175.07 L280.00,175.33 L280.10,175.64 L280.20,175.43 L280.30,175.70 L280.40,175.70 L280.50,174.66 L280.60,174.48 L280.70,175.94 L280.80,174.72 L280.90,176.92 L281.00,174.43 L281.10,175.36 L281.20,175.15 L281.30,175.37 L281.40,174.43 L281.50,175.34 L281.60,176.55 L281.70,174.59 L281.80,173.29 L281.90,175.37 L282.00,175.14 L282.10,175.25 L282.20,174.06 L282.30,174.89 L282.40,175.15 L282.50,174.02 L282.60,174.30 L282.70,174.53 L282.80,174.57 L282.90,173.69 L283.00,173.86 L283.10,175.06 L283.20,174.92 L283.30,172.46 L283.40,174.74 L283.50,172.68 L283.60,173.65 L283.70,171.85 L283.80,172.57 L283.90,172.22 L284.00,173.35 L284.10,172.95 L284.20,173.22 L284.30,173.32 L284.40,173.31 L284.50,174.01 L284.60,173.58 L284.70,173.60 L284.80,173.36 L284.90,173.32 L285.00,173.75 L285.10,174.57 L285.20,175.20 L285.30,174.48 L285.40,176.18 L285.50,175.73 L285.60,174.93 L285.70,175.26 L285.80,175.06 L285.90,173.79 L286.00,175.84 L286.10,175.46 L286.20,174.11 L286.30,176.08 L286.40,175.05 L286.50,175.34 L286.60,174.28 L286.70,175.58 L286.80,175.97 L286.90,175.37 L287.00,175.71 L287.10,174.34 L287.20,176.18 L287.30,175.77 L287.40,175.80 L287.50,176.37 L287.60,176.66 L287.70,175.85 L287.80,176.61 L287.90,177.33 L288.00,175.16 L288.10,176.06 L288.20,174.80 L288.30,176.29 L288.40,177.08 L288.50,175.96 L288.60,175.22 L288.70,175.69 L288.80,176.42 L288.90,175.00 L289.00,175.09 L289.10,176.51 L289.20,175.15 L289.30,176.24 L289.40,175.40 L289.50,175.01 L289.60,176.84 L289.70,177.09 L289.80,175.67 L289.90,178.00 L290.00,176.40 L290.10,176.70 L290.20,176.45 L290.30,175.52 L290.40,177.12 L290.50,176.47 L290.60,176.76 L290.70,176.50 L290.80,176.11 L290.90,178.18 L291.00,176.76 L291.10,176.27 L291.20,176.95 L291.30,175.55 L291.40,176.75 L291.50,178.52 L291.60,175.98 L291.70,176.87 L291.80,175.62 L291.90,176.55 L292.00,177.37 L292.10,175.77 L292.20,175.85 L292.30,177.44 L292.40,176.77 L292.50,177.08 L292.60,176.99 L292.70,175.62 L292.80,175.31 L292.90,175.18 L293.00,176.99 L293.10,175.55 L293.20,175.29 L293.30,176.21 L293.40,176.53 L293.50,176.85 L293.60,175.28 L293.70,177.66 L293.80,175.95 L293.90,176.78 L294.00,176.64 L294.10,175.93 L294.20,176.99 L294.30,176.96 L294.40,177.56 L294.50,178.17 L294.60,178.34 L294.70,177.45 L294.80,177.25 L294.90,176.47 L295.00,175.61 L295.10,177.07 L295.20,176.31 L295.30,176.55 L295.40,176.39 L295.50,177.08 L295.60,176.45 L295.70,178.57 L295.80,177.43 L295.90,176.37 L296.00,177.04 L296.10,177.82 L296.20,175.85 L296.30,176.91 L296.40,176.34 L296.50,176.78 L296.60,176.35 L296.70,176.85 L296.80,177.04 L296.90,177.16 L297.00,175.53 L297.10,177.18 L297.20,176.64 L297.30,176.10 L297.40,176.51 L297.50,177.74 L297.60,176.36 L297.70,175.77 L297.80,176.92 L297.90,176.18 L298.00,176.81 L298.10,176.42 L298.20,177.20 L298.30,175.63 L298.40,175.74 L298.50,176.81 L298.60,177.22 L298.70,176.04 L298.80,176.77 L298.90,176.20 L299.00,175.85 L299.10,174.59 L299.20,177.50 L299.30,176.84 L299.40,174.28 L299.50,176.69 L299.60,175.71 L299.70,175.47 L299.80,175.90 L299.90,176.97 L300.00,176.45 L300.10,176.41 L300.20,176.52 L300.30,176.42 L300.40,177.19 L300.50,175.29 L300.60,175.89 L300.70,176.83 L300.80,176.11 L300.90,177.17 L301.00,176.80 L301.10,177.43 L301.20,177.04 L301.30,177.67 L301.40,177.24 L301.50,177.84 L301.60,177.05 L301.70,176.01 L301.80,177.39 L301.90,177.43 L302.00,177.06 L302.10,178.23 L302.20,177.89 L302.30,178.70 L302.40,177.26 L302.50,177.27 L302.60,177.99 L302.70,178.76 L302.80,177.11 L302.90,178.04 L303.00,177.66 L303.10,177.47 L303.20,178.42 L303.30,178.41 L303.40,178.30 L303.50,177.28 L303.60,177.79 L303.70,176.54 L303.80,178.24 L303.90,176.87 L304.00,177.66 L304.10,178.52 L304.20,177.71 L304.30,178.03 L304.40,177.42 L304.50,179.86 L304.60,177.04 L304.70,177.54 L304.80,177.89 L304.90,179.92 L305.00,177.61 L305.10,178.10 L305.20,178.69 L305.30,176.48 L305.40,178.79 L305.50,178.41 L305.60,179.31 L305.70,179.34 L305.80,178.58 L305.90,179.06 L306.00,177.74 L306.10,177.38 L306.20,178.09 L306.30,178.44 L306.40,178.07 L306.50,178.65 L306.60,178.82 L306.70,179.68 L306.80,178.25 L306.90,178.03 L307.00,178.76 L307.10,178.59 L307.20,178.88 L307.30,179.75 L307.40,177.85 L307.50,179.05 L307.60,179.53 L307.70,179.50 L307.80,177.41 L307.90,178.31 L308.00,179.53 L308.10,178.58 L308.20,178.92 L308.30,178.52 L308.40,179.60 L308.50,178.81 L308.60,178.42 L308.70,178.73 L308.80,179.73 L308.90,178.99 L309.00,177.46 L309.10,177.12 L309.20,179.22 L309.30,177.44 L309.40,178.82 L309.50,178.18 L309.60,178.89 L309.70,178.18 L309.80,176.94 L309.90,179.80 L310.00,178.72 L310.10,178.62 L310.20,179.95 L310.30,179.30 L310.40,179.62 L310.50,178.64 L310.60,178.91 L310.70,179.17 L310.80,178.38 L310.90,179.48 L311.00,179.19 L311.10,178.65 L311.20,178.59 L311.30,179.56 L311.40,178.80 L311.50,179.24 L311.60,179.17 L311.70,178.82 L311.80,177.01 L311.90,179.26 L312.00,179.62 L312.10,178.55 L312.20,178.54 L312.30,179.72 L312.40,178.17 L312.50,180.02 L312.60,179.53 L312.70,180.16 L312.80,179.11 L312.90,179.24 L313.00,179.39 L313.10,178.03 L313.20,178.55 L313.30,180.06 L313.40,178.73 L313.50,178.53 L313.60,179.52 L313.70,180.32 L313.80,179.26 L313.90,179.11 L314.00,179.31 L314.10,179.67 L314.20,178.19 L314.30,179.65 L314.40,179.70 L314.50,180.20 L314.60,180.24 L314.70,179.94 L314.80,180.98 L314.90,179.50 L315.00,179.42 L315.10,180.75 L315.20,179.63 L315.30,179.12 L315.40,179.16 L315.50,179.58 L315.60,178.59 L315.70,180.36 L315.80,179.87 L315.90,180.61 L316.00,178.90 L316.10,179.42 L316.20,179.22 L316.30,180.11 L316.40,180.02 L316.50,180.31 L316.60,180.29 L316.70,178.97 L316.80,180.01 L316.90,179.88 L317.00,179.81 L317.10,180.22 L317.20,178.45 L317.30,179.36 L317.40,179.68 L317.50,179.27 L317.60,179.05 L317.70,180.62 L317.80,180.59 L317.90,181.23 L318.00,179.27 L318.10,178.25 L318.20,180.48 L318.30,179.74 L318.40,179.21 L318.50,180.41 L318.60,179.97 L318.70,178.76 L318.80,180.12 L318.90,178.84 L319.00,180.48 L319.10,179.16 L319.20,178.97 L319.30,180.65 L319.40,180.83 L319.50,179.96 L319.60,179.31 L319.70,180.63 L319.80,180.29 L319.90,180.39 L320.00,179.94 L320.10,179.13 L320.20,179.90 L320.30,181.34 L320.40,179.80 L320.50,180.23 L320.60,180.28 L320.70,181.04 L320.80,180.57 L320.90,180.06 L321.00,181.80 L321.10,180.54 L321.20,180.66 L321.30,179.96 L321.40,179.34 L321.50,180.82 L321.60,180.24 L321.70,180.76 L321.80,178.88 L321.90,181.80 L322.00,180.60 L322.10,181.19 L322.20,179.81 L322.30,180.70 L322.40,180.76 L322.50,181.49 L322.60,181.26 L322.70,179.18 L322.80,180.88 L322.90,180.83 L323.00,180.51 L323.10,180.93 L323.20,181.22 L323.30,181.52 L323.40,179.98 L323.50,180.21 L323.60,180.89 L323.70,181.37 L323.80,180.18 L323.90,180.92 L324.00,179.99 L324.10,180.98 L324.20,180.84 L324.30,181.36 L324.40,182.03 L324.50,180.45 L324.60,181.36 L324.70,179.89 L324.80,181.31 L324.90,182.41 L325.00,179.97 L325.10,180.75 L325.20,179.22 L325.30,181.49 L325.40,182.81 L325.50,180.52 L325.60,181.47 L325.70,182.28 L325.80,180.70 L325.90,181.44 L326.00,180.74 L326.10,180.97 L326.20,181.36 L326.30,182.01 L326.40,181.55 L326.50,181.37 L326.60,181.29 L326.70,182.24 L326.80,181.83 L326.90,181.78 L327.00,180.12 L327.10,181.36 L327.20,180.74 L327.30,182.86 L327.40,182.07 L327.50,182.67 L327.60,180.99 L327.70,180.49 L327.80,181.05 L327.90,182.14 L328.00,181.18 L328.10,182.25 L328.20,182.74 L328.30,181.50 L328.40,182.50 L328.50,180.14 L328.60,180.88 L328.70,181.37 L328.80,181.59 L328.90,180.79 L329.00,181.60 L329.10,182.68 L329.20,182.55 L329.30,182.25 L329.40,181.27" fill="none" stroke="#e8141b" stroke-width="0.8" stroke-linejoin="round" />
<path d="M31.70,82.07 L31.80,80.44 L31.90,76.86 L32.00,81.13 L32.10,78.27 L32.20,80.17 L32.30,79.80 L32.40,80.24 L32.50,82.19 L32.60,84.36 L32.70,79.81 L32.80,79.22 L32.90,78.86 L33.00,79.91 L33.10,80.19 L33.20,76.09 L33.30,79.08 L33.40,83.79 L33.50,80.49 L33.60,81.14 L33.70,78.67 L33.80,83.40 L33.90,79.99 L34.00,78.01 L34.10,77.04 L34.20,79.63 L34.30,82.39 L34.40,77.11 L34.50,76.36 L34.60,73.43 L34.70,79.92 L34.80,76.00 L34.90,76.68 L35.00,75.92 L35.10,76.25 L35.20,79.80 L35.30,76.38 L35.40,78.35 L35.50,76.35 L35.60,77.08 L35.70,79.25 L35.80,79.18 L35.90,75.17 L36.00,77.70 L36.10,75.54 L36.20,79.08 L36.30,76.12 L36.40,75.39 L36.50,79.16 L36.60,76.06 L36.70,77.52 L36.80,78.74 L36.90,75.94 L37.00,76.36 L37.10,78.31 L37.20,81.91 L37.30,78.18 L37.40,78.44 L37.50,76.83 L37.60,76.62 L37.70,79.93 L37.80,74.95 L37.90,74.97 L38.00,79.72 L38.10,74.66 L38.20,73.55 L38.30,77.29 L38.40,78.36 L38.50,79.96 L38.60,80.89 L38.70,70.89 L38.80,75.37 L38.90,75.01 L39.00,76.45 L39.10,73.62 L39.20,75.51 L39.30,75.94 L39.40,75.65 L39.50,73.19 L39.60,75.52 L39.70,72.90 L39.80,72.84 L39.90,74.05 L40.00,76.31 L40.10,69.84 L40.20,74.11 L40.30,77.25 L40.40,74.34 L40.50,72.64 L40.60,74.30 L40.70,77.18 L40.80,73.06 L40.90,71.69 L41.00,74.90 L41.10,72.40 L41.20,71.25 L41.30,74.60 L41.40,70.61 L41.50,71.70 L41.60,75.32 L41.70,72.44 L41.80,74.87 L41.90,67.63 L42.00,68.11 L42.10,69.62 L42.20,70.97 L42.30,66.64 L42.40,71.46 L42.50,69.50 L42.60,69.39 L42.70,70.51 L42.80,69.67 L42.90,67.26 L43.00,69.38 L43.10,66.93 L43.20,72.71 L43.30,68.32 L43.40,68.62 L43.50,67.50 L43.60,68.97 L43.70,69.28 L43.80,68.24 L43.90,65.88 L44.00,70.89 L44.10,67.98 L44.20,63.34 L44.30,62.27 L44.40,64.79 L44.50,64.50 L44.60,63.12 L44.70,64.63 L44.80,67.59 L44.90,69.66 L45.00,67.00 L45.10,67.10 L45.20,68.90 L45.30,71.28 L45.40,68.58 L45.50,67.07 L45.60,65.08 L45.70,62.75 L45.80,66.10 L45.90,67.82 L46.00,65.45 L46.10,63.14 L46.20,65.75 L46.30,63.88 L46.40,62.41 L46.50,58.76 L46.60,64.85 L46.70,61.63 L46.80,65.99 L46.90,61.28 L47.00,62.88 L47.10,61.03 L47.20,66.70 L47.30,65.47 L47.40,61.79 L47.50,65.23 L47.60,58.20 L47.70,62.82 L47.80,59.52 L47.90,60.36 L48.00,59.31 L48.10,61.80 L48.20,55.43 L48.30,58.61 L48.40,63.13 L48.50,53.47 L48.60,58.57 L48.70,55.41 L48.80,51.96 L48.90,59.46 L49.00,56.92 L49.10,61.30 L49.20,52.81 L49.30,58.48 L49.40,61.45 L49.50,52.12 L49.60,58.50 L49.70,58.40 L49.80,56.87 L49.90,59.82 L50.00,57.66 L50.10,53.71 L50.20,53.33 L50.30,54.79 L50.40,59.36 L50.50,54.33 L50.60,56.88 L50.70,53.84 L50.80,55.70 L50.90,55.23 L51.00,56.89 L51.10,58.31 L51.20,51.72 L51.30,49.70 L51.40,52.41 L51.50,52.30 L51.60,52.91 L51.70,54.73 L51.80,50.57 L51.90,51.53 L52.00,51.33 L52.10,54.16 L52.20,49.66 L52.30,54.00 L52.40,55.86 L52.50,49.60 L52.60,54.01 L52.70,51.36 L52.80,49.43 L52.90,55.11 L53.00,52.73 L53.10,48.14 L53.20,50.42 L53.30,46.70 L53.40,44.47 L53.50,51.23 L53.60,48.03 L53.70,52.55 L53.80,48.09 L53.90,48.21 L54.00,46.91 L54.10,47.51 L54.20,44.54 L54.30,45.94 L54.40,41.35 L54.50,40.93 L54.60,42.02 L54.70,43.96 L54.80,45.31 L54.90,44.83 L55.00,48.59 L55.10,52.18 L55.20,37.65 L55.30,48.79 L55.40,47.08 L55.50,42.43 L55.60,44.37 L55.70,37.96 L55.80,42.83 L55.90,47.97 L56.00,39.57 L56.10,41.12 L56.20,42.99 L56.30,44.50 L56.40,42.42 L56.50,40.51 L56.60,43.83 L56.70,39.95 L56.80,48.69 L56.90,45.04 L57.00,41.42 L57.10,38.47 L57.20,38.99 L57.30,38.29 L57.40,39.29 L57.50,41.39 L57.60,35.98 L57.70,40.21 L57.80,39.53 L57.90,36.40 L58.00,43.02 L58.10,40.38 L58.20,39.70 L58.30,36.78 L58.40,36.08 L58.50,38.24 L58.60,33.44 L58.70,38.84 L58.80,34.04 L58.90,37.27 L59.00,39.19 L59.10,36.12 L59.20,34.74 L59.30,34.22 L59.40,36.78 L59.50,32.69 L59.60,35.79 L59.70,38.76 L59.80,29.68 L59.90,32.88 L60.00,36.00 L60.10,31.48 L60.20,31.49 L60.30,30.71 L60.40,37.02 L60.50,27.43 L60.60,33.54 L60.70,33.08 L60.80,33.55 L60.90,30.82 L61.00,33.29 L61.10,31.19 L61.20,29.88 L61.30,40.54 L61.40,35.33 L61.50,28.44 L61.60,29.39 L61.70,32.78 L61.80,35.73 L61.90,30.28 L62.00,32.93 L62.10,31.06 L62.20,33.93 L62.30,28.19 L62.40,27.21 L62.50,30.34 L62.60,30.09 L62.70,29.12 L62.80,32.70 L62.90,30.76 L63.00,28.65 L63.10,24.27 L63.20,30.09 L63.30,30.46 L63.40,25.35 L63.50,26.98 L63.60,23.45 L63.70,27.28 L63.80,25.99 L63.90,20.72 L64.00,26.40 L64.10,25.16 L64.20,24.99 L64.30,29.40 L64.40,27.46 L64.50,28.65 L64.60,24.62 L64.70,30.06 L64.80,23.01 L64.90,27.93 L65.00,20.54 L65.10,26.17 L65.20,22.07 L65.30,20.65 L65.40,27.69 L65.50,26.15 L65.60,27.25 L65.70,25.81 L65.80,26.66 L65.90,25.78 L66.00,25.51 L66.10,26.58 L66.20,33.90 L66.30,23.22 L66.40,21.81 L66.50,23.92 L66.60,24.96 L66.70,29.13 L66.80,31.21 L66.90,31.60 L67.00,27.44 L67.10,30.75 L67.20,34.70 L67.30,31.06 L67.40,33.49 L67.50,26.47 L67.60,32.73 L67.70,32.76 L67.80,26.56 L67.90,30.90 L68.00,33.06 L68.10,28.55 L68.20,34.55 L68.30,35.07 L68.40,33.24 L68.50,32.24 L68.60,32.28 L68.70,34.36 L68.80,37.00 L68.90,29.51 L69.00,34.64 L69.10,35.10 L69.20,31.88 L69.30,30.84 L69.40,34.42 L69.50,30.14 L69.60,36.27 L69.70,34.94 L69.80,32.63 L69.90,36.29 L70.00,33.85 L70.10,34.47 L70.20,40.52 L70.30,34.77 L70.40,29.54 L70.50,38.51 L70.60,34.64 L70.70,35.32 L70.80,42.96 L70.90,38.29 L71.00,41.22 L71.10,34.78 L71.20,36.07 L71.30,36.91 L71.40,41.84 L71.50,37.89 L71.60,34.35 L71.70,42.62 L71.80,39.04 L71.90,41.10 L72.00,43.35 L72.10,47.76 L72.20,41.45 L72.30,46.49 L72.40,37.97 L72.50,42.76 L72.60,43.40 L72.70,36.22 L72.80,40.08 L72.90,41.08 L73.00,44.90 L73.10,42.24 L73.20,42.68 L73.30,42.17 L73.40,45.70 L73.50,44.42 L73.60,44.61 L73.70,44.38 L73.80,47.26 L73.90,43.47 L74.00,45.68 L74.10,46.02 L74.20,47.29 L74.30,49.31 L74.40,47.63 L74.50,43.06 L74.60,49.93 L74.70,50.76 L74.80,51.14 L74.90,50.20 L75.00,43.56 L75.10,47.82 L75.20,50.61 L75.30,50.87 L75.40,48.50 L75.50,49.32 L75.60,46.08 L75.70,50.43 L75.80,43.70 L75.90,49.05 L76.00,52.51 L76.10,46.67 L76.20,53.69 L76.30,55.77 L76.40,51.94 L76.50,49.22 L76.60,49.48 L76.70,47.64 L76.80,53.13 L76.90,48.22 L77.00,51.94 L77.10,48.57 L77.20,53.19 L77.30,48.08 L77.40,51.66 L77.50,50.17 L77.60,55.05 L77.70,51.32 L77.80,52.10 L77.90,55.75 L78.00,49.78 L78.10,49.56 L78.20,52.87 L78.30,50.39 L78.40,57.82 L78.50,53.78 L78.60,54.21 L78.70,52.75 L78.80,46.60 L78.90,57.30 L79.00,53.66 L79.10,48.64 L79.20,51.31 L79.30,54.25 L79.40,57.75 L79.50,55.45 L79.60,55.64 L79.70,55.65 L79.80,52.48 L79.90,53.21 L80.00,55.14 L80.10,51.63 L80.20,55.40 L80.30,57.18 L80.40,49.22 L80.50,55.01 L80.60,54.98 L80.70,56.06 L80.80,60.55 L80.90,52.34 L81.00,61.23 L81.10,58.00 L81.20,62.85 L81.30,55.41 L81.40,57.45 L81.50,56.26 L81.60,58.01 L81.70,54.42 L81.80,54.79 L81.90,56.50 L82.00,58.72 L82.10,53.69 L82.20,56.33 L82.30,55.65 L82.40,58.15 L82.50,59.63 L82.60,53.64 L82.70,54.99 L82.80,56.79 L82.90,55.14 L83.00,61.58 L83.10,62.37 L83.20,60.00 L83.30,59.46 L83.40,55.32 L83.50,55.77 L83.60,59.46 L83.70,62.30 L83.80,57.60 L83.90,59.34 L84.00,62.86 L84.10,63.26 L84.20,56.24 L84.30,59.63 L84.40,60.94 L84.50,54.81 L84.60,57.92 L84.70,59.72 L84.80,57.94 L84.90,60.73 L85.00,58.46 L85.10,55.11 L85.20,56.37 L85.30,54.17 L85.40,56.32 L85.50,61.30 L85.60,60.61 L85.70,61.25 L85.80,63.37 L85.90,57.18 L86.00,58.93 L86.10,60.61 L86.20,64.64 L86.30,61.17 L86.40,60.19 L86.50,61.38 L86.60,58.38 L86.70,55.75 L86.80,62.06 L86.90,59.84 L87.00,62.15 L87.10,58.07 L87.20,58.88 L87.30,63.18 L87.40,61.85 L87.50,63.81 L87.60,59.78 L87.70,61.76 L87.80,63.40 L87.90,64.01 L88.00,61.70 L88.10,62.63 L88.20,61.76 L88.30,61.69 L88.40,61.99 L88.50,63.36 L88.60,58.93 L88.70,62.26 L88.80,59.86 L88.90,62.53 L89.00,61.92 L89.10,63.06 L89.20,62.05 L89.30,62.37 L89.40,59.34 L89.50,66.35 L89.60,59.54 L89.70,58.30 L89.80,63.94 L89.90,64.61 L90.00,63.00 L90.10,62.47 L90.20,60.53 L90.30,68.04 L90.40,59.27 L90.50,69.36 L90.60,59.73 L90.70,61.20 L90.80,63.21 L90.90,62.78 L91.00,65.17 L91.10,61.93 L91.20,63.25 L91.30,60.27 L91.40,67.19 L91.50,63.60 L91.60,62.56 L91.70,64.56 L91.80,66.82 L91.90,65.58 L92.00,63.02 L92.10,65.22 L92.20,65.77 L92.30,66.05 L92.40,64.35 L92.50,66.85 L92.60,62.56 L92.70,65.65 L92.80,63.43 L92.90,65.66 L93.00,64.16 L93.10,67.31 L93.20,64.76 L93.30,68.71 L93.40,63.62 L93.50,68.46 L93.60,63.97 L93.70,60.09 L93.80,63.76 L93.90,68.35 L94.00,66.79 L94.10,67.55 L94.20,65.50 L94.30,67.33 L94.40,64.17 L94.50,70.83 L94.60,70.58 L94.70,67.90 L94.80,65.50 L94.90,65.40 L95.00,68.54 L95.10,67.99 L95.20,65.04 L95.30,69.06 L95.40,69.45 L95.50,68.79 L95.60,68.48 L95.70,68.18 L95.80,67.70 L95.90,67.05 L96.00,66.39 L96.10,70.86 L96.20,64.31 L96.30,68.35 L96.40,70.20 L96.50,73.69 L96.60,67.48 L96.70,71.65 L96.80,71.50 L96.90,70.81 L97.00,73.03 L97.10,64.80 L97.20,71.16 L97.30,68.69 L97.40,70.05 L97.50,68.77 L97.60,67.19 L97.70,64.85 L97.80,70.32 L97.90,68.84 L98.00,66.34 L98.10,69.25 L98.20,67.01 L98.30,67.63 L98.40,70.18 L98.50,71.65 L98.60,65.34 L98.70,69.76 L98.80,71.43 L98.90,67.13 L99.00,69.43 L99.10,70.99 L99.20,72.50 L99.30,67.71 L99.40,66.66 L99.50,69.08 L99.60,69.42 L99.70,70.60 L99.80,70.86 L99.90,66.32 L100.00,72.58 L100.10,67.12 L100.20,71.86 L100.30,72.31 L100.40,72.20 L100.50,72.01 L100.60,72.21 L100.70,69.64 L100.80,69.62 L100.90,76.53 L101.00,75.36 L101.10,74.91 L101.20,73.78 L101.30,68.29 L101.40,76.36 L101.50,71.61 L101.60,72.13 L101.70,74.03 L101.80,70.80 L101.90,75.43 L102.00,66.94 L102.10,75.39 L102.20,73.82 L102.30,70.75 L102.40,74.72 L102.50,75.52 L102.60,74.75 L102.70,75.15 L102.80,72.49 L102.90,75.54 L103.00,75.61 L103.10,76.20 L103.20,74.85 L103.30,69.58 L103.40,74.66 L103.50,70.52 L103.60,71.79 L103.70,73.31 L103.80,74.04 L103.90,73.03 L104.00,74.50 L104.10,74.97 L104.20,74.27 L104.30,74.08 L104.40,74.75 L104.50,75.58 L104.60,71.97 L104.70,70.72 L104.80,76.55 L104.90,74.50 L105.00,69.01 L105.10,76.82 L105.20,76.94 L105.30,70.26 L105.40,71.78 L105.50,73.34 L105.60,71.81 L105.70,73.20 L105.80,74.53 L105.90,76.96 L106.00,69.27 L106.10,75.06 L106.20,77.38 L106.30,69.49 L106.40,75.77 L106.50,74.96 L106.60,73.89 L106.70,76.96 L106.80,78.29 L106.90,77.85 L107.00,80.05 L107.10,73.89 L107.20,70.94 L107.30,74.44 L107.40,76.07 L107.50,78.38 L107.60,77.03 L107.70,74.54 L107.80,79.02 L107.90,77.03 L108.00,76.61 L108.10,75.70 L108.20,77.13 L108.30,77.57 L108.40,76.41 L108.50,71.07 L108.60,74.52 L108.70,77.52 L108.80,80.12 L108.90,79.31 L109.00,79.22 L109.10,80.70 L109.20,78.42 L109.30,79.93 L109.40,79.33 L109.50,77.67 L109.60,75.23 L109.70,73.66 L109.80,78.33 L109.90,74.69 L110.00,77.26 L110.10,79.18 L110.20,76.06 L110.30,79.72 L110.40,77.93 L110.50,75.88 L110.60,79.20 L110.70,79.58 L110.80,76.98 L110.90,79.24 L111.00,75.71 L111.10,78.54 L111.20,79.01 L111.30,76.15 L111.40,78.71 L111.50,81.74 L111.60,77.22 L111.70,76.21 L111.80,75.63 L111.90,77.14 L112.00,76.48 L112.10,75.35 L112.20,79.28 L112.30,79.85 L112.40,77.07 L112.50,79.41 L112.60,81.39 L112.70,80.21 L112.80,79.91 L112.90,81.06 L113.00,78.22 L113.10,81.67 L113.20,83.86 L113.30,78.45 L113.40,75.86 L113.50,78.44 L113.60,77.92 L113.70,80.65 L113.80,82.87 L113.90,81.56 L114.00,84.13 L114.10,81.47 L114.20,80.74 L114.30,76.45 L114.40,81.55 L114.50,79.42 L114.60,79.71 L114.70,80.36 L114.80,84.48 L114.90,82.95 L115.00,81.22 L115.10,78.19 L115.20,80.41 L115.30,80.83 L115.40,83.34 L115.50,82.72 L115.60,82.75 L115.70,79.70 L115.80,83.81 L115.90,87.11 L116.00,78.97 L116.10,79.82 L116.20,82.23 L116.30,84.23 L116.40,82.79 L116.50,82.54 L116.60,85.52 L116.70,80.20 L116.80,78.22 L116.90,79.40 L117.00,84.38 L117.10,84.76 L117.20,82.02 L117.30,79.88 L117.40,81.15 L117.50,83.84 L117.60,85.14 L117.70,81.88 L117.80,81.52 L117.90,81.39 L118.00,82.11 L118.10,84.86 L118.20,83.92 L118.30,84.35 L118.40,83.90 L118.50,84.16 L118.60,81.12 L118.70,81.71 L118.80,84.71 L118.90,84.90 L119.00,86.39 L119.10,84.07 L119.20,82.51 L119.30,83.96 L119.40,83.96 L119.50,85.64 L119.60,84.27 L119.70,85.76 L119.80,85.91 L119.90,85.97 L120.00,86.16 L120.10,83.00 L120.20,87.45 L120.30,88.60 L120.40,87.01 L120.50,88.68 L120.60,86.38 L120.70,84.49 L120.80,86.78 L120.90,85.68 L121.00,85.57 L121.10,89.16 L121.20,84.18 L121.30,88.33 L121.40,84.98 L121.50,82.68 L121.60,87.74 L121.70,86.55 L121.80,86.85 L121.90,87.00 L122.00,88.75 L122.10,87.37 L122.20,86.21 L122.30,86.62 L122.40,87.78 L122.50,85.84 L122.60,87.79 L122.70,83.01 L122.80,86.89 L122.90,87.15 L123.00,88.64 L123.10,85.14 L123.20,86.93 L123.30,88.29 L123.40,92.10 L123.50,87.87 L123.60,88.77 L123.70,86.55 L123.80,91.89 L123.90,87.27 L124.00,87.29 L124.10,88.10 L124.20,85.29 L124.30,85.91 L124.40,87.23 L124.50,86.37 L124.60,89.90 L124.70,87.05 L124.80,92.40 L124.90,88.62 L125.00,86.71 L125.10,88.48 L125.20,89.55 L125.30,88.25 L125.40,89.12 L125.50,87.86 L125.60,86.82 L125.70,88.17 L125.80,91.74 L125.90,87.64 L126.00,88.31 L126.10,85.53 L126.20,87.23 L126.30,89.14 L126.40,87.88 L126.50,90.78 L126.60,90.45 L126.70,87.77 L126.80,88.45 L126.90,89.95 L127.00,89.40 L127.10,88.16 L127.20,85.28 L127.30,91.42 L127.40,88.88 L127.50,89.18 L127.60,87.54 L127.70,91.74 L127.80,88.74 L127.90,89.30 L128.00,85.18 L128.10,88.13 L128.20,88.91 L128.30,89.77 L128.40,90.35 L128.50,88.68 L128.60,91.00 L128.70,88.84 L128.80,88.77 L128.90,89.08 L129.00,85.94 L129.10,84.92 L129.20,92.52 L129.30,85.81 L129.40,87.92 L129.50,90.14 L129.60,87.78 L129.70,91.10 L129.80,85.32 L129.90,89.22 L130.00,90.10 L130.10,93.00 L130.20,91.64 L130.30,87.49 L130.40,90.42 L130.50,89.29 L130.60,86.44 L130.70,87.69 L130.80,90.55 L130.90,87.97 L131.00,86.66 L131.10,87.19 L131.20,85.91 L131.30,85.23 L131.40,88.74 L131.50,88.79 L131.60,89.75 L131.70,84.80 L131.80,85.45 L131.90,88.16 L132.00,87.48 L132.10,86.71 L132.20,84.63 L132.30,86.06 L132.40,83.81 L132.50,89.04 L132.60,87.25 L132.70,83.86 L132.80,87.70 L132.90,83.19 L133.00,85.84 L133.10,84.71 L133.20,83.28 L133.30,86.09 L133.40,80.09 L133.50,82.04 L133.60,81.51 L133.70,78.23 L133.80,78.10 L133.90,80.44 L134.00,79.93 L134.10,76.78 L134.20,78.75 L134.30,77.59 L134.40,77.06 L134.50,73.99 L134.60,72.95 L134.70,72.80 L134.80,69.05 L134.90,66.79 L135.00,64.19 L135.10,65.27 L135.20,64.40 L135.30,56.23 L135.40,56.51 L135.50,55.59 L135.60,54.12 L135.70,48.96 L135.80,44.06 L135.90,44.08 L136.00,44.47 L136.10,38.77 L136.20,37.70 L136.30,38.55 L136.40,32.33 L136.50,36.90 L136.60,39.21 L136.70,40.03 L136.80,40.76 L136.90,42.36 L137.00,44.82 L137.10,46.40 L137.20,50.82 L137.30,52.48 L137.40,57.24 L137.50,59.66 L137.60,61.45 L137.70,64.06 L137.80,67.01 L137.90,66.59 L138.00,71.72 L138.10,72.52 L138.20,74.72 L138.30,74.40 L138.40,75.84 L138.50,77.58 L138.60,78.53 L138.70,78.55 L138.80,79.50 L138.90,79.91 L139.00,80.90 L139.10,80.87 L139.20,81.37 L139.30,81.58 L139.40,86.34 L139.50,83.13 L139.60,84.58 L139.70,83.40 L139.80,85.81 L139.90,88.10 L140.00,84.92 L140.10,86.80 L140.20,86.68 L140.30,88.63 L140.40,87.19 L140.50,87.38 L140.60,87.37 L140.70,84.50 L140.80,89.98 L140.90,91.34 L141.00,87.08 L141.10,90.27 L141.20,88.91 L141.30,91.65 L141.40,88.27 L141.50,90.15 L141.60,91.86 L141.70,90.62 L141.80,90.14 L141.90,89.81 L142.00,88.93 L142.10,90.36 L142.20,88.52 L142.30,93.28 L142.40,91.44 L142.50,90.28 L142.60,87.96 L142.70,92.61 L142.80,93.19 L142.90,91.70 L143.00,92.56 L143.10,92.63 L143.20,91.10 L143.30,90.77 L143.40,91.52 L143.50,93.58 L143.60,90.45 L143.70,88.76 L143.80,91.79 L143.90,91.84 L144.00,91.54 L144.10,92.07 L144.20,89.76 L144.30,90.36 L144.40,91.23 L144.50,91.84 L144.60,92.90 L144.70,93.33 L144.80,92.46 L144.90,91.91 L145.00,90.50 L145.10,91.43 L145.20,89.56 L145.30,91.08 L145.40,93.10 L145.50,93.39 L145.60,90.68 L145.70,94.53 L145.80,88.45 L145.90,93.49 L146.00,92.61 L146.10,92.37 L146.20,93.39 L146.30,92.02 L146.40,96.67 L146.50,92.02 L146.60,92.27 L146.70,93.43 L146.80,89.54 L146.90,92.74 L147.00,90.57 L147.10,95.38 L147.20,92.22 L147.30,92.89 L147.40,90.08 L147.50,96.31 L147.60,90.23 L147.70,90.73 L147.80,92.00 L147.90,89.40 L148.00,91.05 L148.10,92.64 L148.20,95.22 L148.30,95.34 L148.40,91.45 L148.50,92.51 L148.60,94.68 L148.70,95.59 L148.80,92.13 L148.90,93.16 L149.00,93.63 L149.10,93.92 L149.20,93.28 L149.30,96.84 L149.40,93.40 L149.50,95.88 L149.60,94.79 L149.70,98.44 L149.80,96.50 L149.90,90.67 L150.00,95.13 L150.10,90.52 L150.20,96.42 L150.30,93.59 L150.40,90.49 L150.50,92.44 L150.60,93.58 L150.70,96.69 L150.80,94.40 L150.90,95.08 L151.00,93.11 L151.10,93.45 L151.20,91.72 L151.30,93.61 L151.40,93.83 L151.50,94.19 L151.60,92.89 L151.70,93.94 L151.80,93.55 L151.90,94.76 L152.00,93.24 L152.10,93.31 L152.20,92.81 L152.30,93.17 L152.40,93.87 L152.50,92.61 L152.60,96.53 L152.70,96.17 L152.80,95.04 L152.90,95.74 L153.00,92.32 L153.10,93.35 L153.20,93.64 L153.30,94.87 L153.40,95.86 L153.50,95.96 L153.60,91.98 L153.70,94.40 L153.80,96.43 L153.90,94.06 L154.00,95.31 L154.10,91.61 L154.20,94.57 L154.30,94.04 L154.40,91.06 L154.50,95.85 L154.60,96.83 L154.70,95.87 L154.80,93.85 L154.90,94.20 L155.00,93.28 L155.10,95.43 L155.20,95.17 L155.30,96.79 L155.40,94.29 L155.50,95.85 L155.60,93.82 L155.70,92.94 L155.80,94.08 L155.90,92.56 L156.00,92.48 L156.10,95.15 L156.20,94.98 L156.30,92.33 L156.40,92.01 L156.50,93.08 L156.60,91.99 L156.70,94.32 L156.80,92.37 L156.90,90.49 L157.00,91.06 L157.10,92.98 L157.20,95.50 L157.30,92.57 L157.40,89.02 L157.50,89.43 L157.60,90.85 L157.70,89.83 L157.80,89.87 L157.90,92.50 L158.00,86.72 L158.10,86.20 L158.20,87.13 L158.30,86.60 L158.40,86.22 L158.50,86.62 L158.60,84.58 L158.70,85.91 L158.80,84.03 L158.90,84.14 L159.00,80.50 L159.10,82.06 L159.20,83.17 L159.30,85.36 L159.40,83.73 L159.50,83.83 L159.60,84.89 L159.70,89.80 L159.80,85.09 L159.90,88.71 L160.00,89.08 L160.10,92.06 L160.20,91.40 L160.30,90.22 L160.40,92.71 L160.50,93.93 L160.60,91.56 L160.70,89.72 L160.80,90.86 L160.90,93.29 L161.00,91.77 L161.10,93.98 L161.20,95.92 L161.30,94.57 L161.40,98.12 L161.50,94.40 L161.60,92.74 L161.70,95.29 L161.80,96.77 L161.90,92.92 L162.00,96.16 L162.10,98.30 L162.20,95.99 L162.30,98.81 L162.40,93.31 L162.50,96.88 L162.60,93.20 L162.70,93.16 L162.80,93.70 L162.90,98.02 L163.00,96.83 L163.10,98.74 L163.20,95.01 L163.30,93.67 L163.40,98.03 L163.50,95.46 L163.60,94.13 L163.70,98.03 L163.80,98.54 L163.90,95.54 L164.00,97.15 L164.10,97.87 L164.20,95.40 L164.30,95.66 L164.40,97.55 L164.50,99.89 L164.60,95.53 L164.70,98.59 L164.80,98.25 L164.90,97.64 L165.00,97.03 L165.10,95.98 L165.20,98.57 L165.30,97.28 L165.40,93.29 L165.50,98.10 L165.60,96.23 L165.70,97.38 L165.80,101.09 L165.90,98.26 L166.00,94.18 L166.10,97.01 L166.20,95.83 L166.30,99.50 L166.40,93.30 L166.50,98.83 L166.60,97.97 L166.70,97.31 L166.80,98.66 L166.90,101.05 L167.00,94.84 L167.10,97.16 L167.20,98.03 L167.30,98.15 L167.40,97.71 L167.50,98.98 L167.60,98.44 L167.70,97.50 L167.80,95.08 L167.90,99.46 L168.00,100.84 L168.10,100.39 L168.20,99.13 L168.30,100.48 L168.40,95.95 L168.50,99.89 L168.60,99.14 L168.70,98.47 L168.80,100.57 L168.90,98.35 L169.00,98.02 L169.10,96.96 L169.20,95.59 L169.30,97.95 L169.40,101.74 L169.50,101.96 L169.60,97.78 L169.70,99.11 L169.80,101.47 L169.90,97.13 L170.00,98.13 L170.10,96.52 L170.20,101.70 L170.30,97.88 L170.40,98.36 L170.50,98.95 L170.60,97.56 L170.70,103.37 L170.80,101.07 L170.90,102.72 L171.00,95.62 L171.10,100.48 L171.20,98.91 L171.30,97.31 L171.40,99.39 L171.50,102.05 L171.60,101.31 L171.70,98.46 L171.80,103.60 L171.90,101.37 L172.00,98.04 L172.10,98.01 L172.20,98.39 L172.30,99.38 L172.40,98.65 L172.50,98.46 L172.60,101.25 L172.70,98.51 L172.80,99.89 L172.90,98.62 L173.00,99.29 L173.10,101.79 L173.20,99.82 L173.30,101.15 L173.40,99.71 L173.50,101.78 L173.60,99.83 L173.70,101.87 L173.80,97.72 L173.90,101.86 L174.00,100.75 L174.10,98.40 L174.20,98.84 L174.30,96.60 L174.40,99.56 L174.50,100.34 L174.60,99.13 L174.70,101.85 L174.80,96.36 L174.90,99.69 L175.00,97.94 L175.10,99.20 L175.20,101.56 L175.30,100.08 L175.40,102.67 L175.50,99.53 L175.60,99.03 L175.70,99.69 L175.80,97.65 L175.90,98.71 L176.00,100.09 L176.10,101.81 L176.20,98.50 L176.30,98.67 L176.40,97.51 L176.50,97.83 L176.60,100.12 L176.70,100.30 L176.80,100.79 L176.90,99.79 L177.00,102.07 L177.10,97.29 L177.20,100.24 L177.30,101.41 L177.40,99.77 L177.50,101.10 L177.60,99.99 L177.70,99.75 L177.80,100.70 L177.90,99.34 L178.00,100.41 L178.10,101.52 L178.20,98.63 L178.30,101.70 L178.40,102.57 L178.50,103.40 L178.60,100.07 L178.70,102.58 L178.80,97.51 L178.90,98.34 L179.00,100.81 L179.10,98.81 L179.20,99.12 L179.30,99.00 L179.40,100.20 L179.50,99.64 L179.60,99.16 L179.70,100.72 L179.80,99.91 L179.90,100.82 L180.00,101.37 L180.10,101.80 L180.20,100.52 L180.30,100.18 L180.40,100.21 L180.50,99.10 L180.60,101.73 L180.70,100.88 L180.80,102.76 L180.90,101.52 L181.00,100.19 L181.10,102.49 L181.20,100.58 L181.30,100.97 L181.40,101.89 L181.50,101.52 L181.60,99.85 L181.70,102.33 L181.80,101.83 L181.90,101.17 L182.00,100.89 L182.10,101.64 L182.20,98.74 L182.30,103.46 L182.40,97.13 L182.50,99.61 L182.60,99.68 L182.70,101.98 L182.80,101.41 L182.90,101.95 L183.00,99.34 L183.10,103.39 L183.20,102.91 L183.30,97.93 L183.40,101.76 L183.50,98.21 L183.60,100.54 L183.70,102.39 L183.80,101.53 L183.90,99.32 L184.00,100.47 L184.10,103.33 L184.20,101.84 L184.30,102.78 L184.40,98.76 L184.50,102.48 L184.60,101.95 L184.70,100.07 L184.80,104.01 L184.90,101.62 L185.00,103.17 L185.10,100.89 L185.20,102.42 L185.30,102.66 L185.40,101.61 L185.50,102.00 L185.60,102.35 L185.70,101.71 L185.80,99.80 L185.90,102.46 L186.00,101.72 L186.10,102.36 L186.20,100.61 L186.30,104.49 L186.40,103.50 L186.50,104.31 L186.60,105.14 L186.70,103.71 L186.80,101.60 L186.90,100.01 L187.00,104.01 L187.10,102.60 L187.20,103.55 L187.30,104.37 L187.40,101.93 L187.50,100.70 L187.60,102.91 L187.70,101.53 L187.80,100.89 L187.90,102.91 L188.00,101.89 L188.10,103.16 L188.20,100.55 L188.30,102.16 L188.40,101.95 L188.50,102.34 L188.60,101.41 L188.70,103.50 L188.80,100.06 L188.90,103.18 L189.00,104.26 L189.10,102.46 L189.20,102.62 L189.30,101.25 L189.40,102.95 L189.50,103.26 L189.60,102.84 L189.70,103.18 L189.80,103.48 L189.90,102.97 L190.00,99.63 L190.10,100.80 L190.20,102.47 L190.30,106.18 L190.40,104.43 L190.50,102.66 L190.60,102.39 L190.70,102.01 L190.80,103.70 L190.90,102.26 L191.00,102.86 L191.10,101.35 L191.20,102.09 L191.30,101.20 L191.40,101.54 L191.50,102.27 L191.60,104.77 L191.70,103.44 L191.80,104.58 L191.90,102.14 L192.00,103.35 L192.10,101.94 L192.20,102.63 L192.30,102.69 L192.40,100.33 L192.50,103.05 L192.60,101.04 L192.70,103.78 L192.80,101.97 L192.90,100.48 L193.00,101.11 L193.10,101.60 L193.20,105.37 L193.30,101.02 L193.40,102.45 L193.50,103.35 L193.60,102.80 L193.70,102.99 L193.80,104.22 L193.90,101.98 L194.00,105.94 L194.10,105.34 L194.20,103.49 L194.30,105.36 L194.40,103.37 L194.50,102.51 L194.60,101.27 L194.70,102.14 L194.80,104.15 L194.90,103.77 L195.00,105.82 L195.10,105.78 L195.20,104.71 L195.30,103.49 L195.40,106.17 L195.50,103.24 L195.60,99.46 L195.70,102.90 L195.80,104.09 L195.90,104.27 L196.00,104.30 L196.10,104.63 L196.20,99.22 L196.30,107.10 L196.40,104.31 L196.50,103.56 L196.60,100.31 L196.70,104.77 L196.80,101.78 L196.90,100.23 L197.00,104.41 L197.10,104.34 L197.20,103.26 L197.30,102.01 L197.40,104.17 L197.50,103.59 L197.60,104.05 L197.70,104.18 L197.80,101.08 L197.90,104.24 L198.00,101.48 L198.10,104.28 L198.20,102.92 L198.30,102.72 L198.40,106.19 L198.50,103.91 L198.60,103.88 L198.70,104.84 L198.80,107.13 L198.90,99.29 L199.00,104.46 L199.10,103.73 L199.20,105.51 L199.30,103.73 L199.40,103.61 L199.50,104.68 L199.60,103.67 L199.70,102.30 L199.80,103.80 L199.90,106.81 L200.00,104.75 L200.10,100.03 L200.20,103.59 L200.30,102.22 L200.40,105.36 L200.50,101.97 L200.60,103.69 L200.70,104.68 L200.80,105.23 L200.90,102.86 L201.00,104.33 L201.10,107.61 L201.20,102.81 L201.30,103.98 L201.40,102.50 L201.50,103.63 L201.60,104.77 L201.70,104.05 L201.80,105.07 L201.90,101.88 L202.00,104.24 L202.10,103.49 L202.20,99.61 L202.30,105.86 L202.40,104.23 L202.50,103.08 L202.60,105.84 L202.70,104.97 L202.80,100.19 L202.90,104.87 L203.00,108.12 L203.10,104.63 L203.20,105.53 L203.30,101.36 L203.40,101.57 L203.50,101.78 L203.60,105.96 L203.70,105.73 L203.80,100.01 L203.90,105.69 L204.00,100.70 L204.10,101.85 L204.20,104.05 L204.30,103.05 L204.40,104.14 L204.50,104.58 L204.60,106.20 L204.70,103.43 L204.80,103.13 L204.90,103.06 L205.00,108.34 L205.10,106.27 L205.20,106.34 L205.30,105.29 L205.40,104.77 L205.50,106.78 L205.60,104.26 L205.70,101.82 L205.80,101.69 L205.90,108.65 L206.00,102.64 L206.10,103.26 L206.20,104.15 L206.30,106.21 L206.40,102.53 L206.50,104.06 L206.60,105.08 L206.70,102.27 L206.80,104.57 L206.90,106.31 L207.00,104.87 L207.10,104.63 L207.20,105.32 L207.30,104.37 L207.40,103.73 L207.50,103.59 L207.60,105.92 L207.70,101.71 L207.80,102.46 L207.90,105.86 L208.00,106.54 L208.10,104.69 L208.20,103.08 L208.30,101.78 L208.40,105.54 L208.50,104.83 L208.60,105.10 L208.70,105.24 L208.80,102.75 L208.90,103.22 L209.00,104.33 L209.10,104.20 L209.20,101.76 L209.30,102.39 L209.40,104.17 L209.50,106.88 L209.60,108.58 L209.70,104.95 L209.80,103.98 L209.90,105.04 L210.00,104.67 L210.10,103.09 L210.20,100.29 L210.30,104.87 L210.40,103.52 L210.50,104.48 L210.60,102.92 L210.70,104.03 L210.80,104.87 L210.90,102.34 L211.00,103.42 L211.10,105.71 L211.20,106.00 L211.30,101.65 L211.40,106.07 L211.50,106.94 L211.60,105.46 L211.70,105.54 L211.80,105.01 L211.90,105.45 L212.00,103.99 L212.10,107.00 L212.20,104.78 L212.30,102.36 L212.40,105.73 L212.50,106.36 L212.60,105.53 L212.70,103.16 L212.80,105.91 L212.90,100.49 L213.00,107.75 L213.10,105.82 L213.20,101.80 L213.30,101.35 L213.40,108.93 L213.50,105.29 L213.60,103.66 L213.70,105.47 L213.80,104.53 L213.90,104.57 L214.00,105.44 L214.10,105.42 L214.20,103.12 L214.30,105.45 L214.40,105.31 L214.50,103.28 L214.60,106.59 L214.70,105.88 L214.80,103.24 L214.90,108.05 L215.00,105.95 L215.10,107.37 L215.20,103.77 L215.30,104.23 L215.40,105.28 L215.50,104.10 L215.60,104.72 L215.70,102.64 L215.80,108.57 L215.90,105.98 L216.00,107.34 L216.10,108.07 L216.20,105.03 L216.30,108.52 L216.40,101.15 L216.50,104.48 L216.60,104.20 L216.70,105.05 L216.80,103.17 L216.90,106.63 L217.00,108.51 L217.10,105.54 L217.20,106.18 L217.30,101.46 L217.40,103.90 L217.50,105.85 L217.60,104.02 L217.70,105.71 L217.80,104.52 L217.90,105.81 L218.00,102.85 L218.10,106.10 L218.20,107.68 L218.30,106.44 L218.40,108.88 L218.50,105.12 L218.60,106.79 L218.70,103.07 L218.80,106.95 L218.90,106.19 L219.00,104.91 L219.10,107.28 L219.20,103.40 L219.30,104.93 L219.40,105.90 L219.50,103.67 L219.60,103.71 L219.70,107.08 L219.80,104.80 L219.90,103.64 L220.00,104.59 L220.10,104.42 L220.20,104.11 L220.30,106.01 L220.40,103.62 L220.50,102.92 L220.60,105.52 L220.70,105.30 L220.80,107.51 L220.90,103.21 L221.00,104.47 L221.10,107.17 L221.20,106.05 L221.30,104.48 L221.40,104.06 L221.50,106.61 L221.60,105.39 L221.70,104.05 L221.80,104.71 L221.90,104.78 L222.00,107.05 L222.10,101.16 L222.20,104.49 L222.30,107.52 L222.40,102.62 L222.50,104.99 L222.60,106.89 L222.70,103.25 L222.80,104.55 L222.90,104.01 L223.00,105.76 L223.10,104.37 L223.20,103.69 L223.30,105.64 L223.40,105.85 L223.50,107.41 L223.60,104.84 L223.70,105.23 L223.80,104.54 L223.90,107.50 L224.00,107.56 L224.10,104.18 L224.20,101.94 L224.30,108.81 L224.40,102.41 L224.50,102.61 L224.60,104.63 L224.70,108.77 L224.80,107.45 L224.90,105.15 L225.00,106.76 L225.10,105.29 L225.20,107.47 L225.30,104.85 L225.40,108.29 L225.50,106.59 L225.60,104.65 L225.70,102.71 L225.80,107.56 L225.90,106.50 L226.00,103.98 L226.10,104.09 L226.20,104.79 L226.30,105.03 L226.40,105.32 L226.50,105.59 L226.60,105.62 L226.70,104.67 L226.80,109.09 L226.90,105.16 L227.00,104.53 L227.10,106.55 L227.20,104.17 L227.30,106.39 L227.40,105.89 L227.50,107.39 L227.60,104.03 L227.70,102.47 L227.80,107.64 L227.90,105.36 L228.00,108.60 L228.10,106.90 L228.20,104.91 L228.30,106.26 L228.40,103.71 L228.50,104.04 L228.60,105.71 L228.70,105.91 L228.80,102.87 L228.90,107.00 L229.00,106.57 L229.10,107.46 L229.20,103.26 L229.30,106.68 L229.40,104.67 L229.50,104.90 L229.60,107.46 L229.70,105.80 L229.80,106.66 L229.90,107.19 L230.00,107.58 L230.10,104.14 L230.20,104.09 L230.30,106.27 L230.40,106.59 L230.50,104.46 L230.60,106.33 L230.70,104.21 L230.80,105.18 L230.90,105.45 L231.00,105.99 L231.10,106.73 L231.20,105.06 L231.30,105.86 L231.40,104.20 L231.50,106.80 L231.60,106.50 L231.70,104.64 L231.80,108.69 L231.90,105.37 L232.00,105.02 L232.10,104.73 L232.20,106.02 L232.30,105.58 L232.40,104.22 L232.50,105.98 L232.60,106.84 L232.70,107.45 L232.80,105.87 L232.90,104.36 L233.00,103.52 L233.10,105.55 L233.20,106.60 L233.30,108.04 L233.40,103.70 L233.50,102.24 L233.60,102.22 L233.70,104.19 L233.80,104.47 L233.90,101.94 L234.00,100.94 L234.10,99.45 L234.20,103.54 L234.30,99.53 L234.40,102.73 L234.50,101.26 L234.60,98.09 L234.70,99.25 L234.80,102.65 L234.90,100.94 L235.00,100.53 L235.10,102.96 L235.20,100.95 L235.30,101.31 L235.40,101.51 L235.50,101.67 L235.60,103.57 L235.70,101.14 L235.80,104.10 L235.90,105.08 L236.00,101.97 L236.10,103.86 L236.20,101.41 L236.30,103.70 L236.40,105.83 L236.50,105.57 L236.60,103.55 L236.70,105.36 L236.80,105.41 L236.90,104.94 L237.00,105.16 L237.10,108.28 L237.20,100.85 L237.30,104.31 L237.40,106.87 L237.50,105.31 L237.60,106.17 L237.70,106.20 L237.80,105.40 L237.90,105.89 L238.00,104.69 L238.10,105.99 L238.20,107.32 L238.30,107.80 L238.40,107.05 L238.50,105.83 L238.60,105.65 L238.70,103.54 L238.80,106.08 L238.90,104.85 L239.00,105.32 L239.10,105.93 L239.20,106.64 L239.30,106.80 L239.40,106.62 L239.50,104.79 L239.60,105.91 L239.70,107.81 L239.80,106.54 L239.90,107.42 L240.00,106.87 L240.10,109.28 L240.20,109.57 L240.30,111.10 L240.40,106.31 L240.50,108.27 L240.60,104.85 L240.70,108.18 L240.80,107.79 L240.90,106.42 L241.00,109.47 L241.10,107.37 L241.20,104.59 L241.30,109.59 L241.40,107.33 L241.50,108.52 L241.60,106.15 L241.70,105.99 L241.80,105.25 L241.90,105.50 L242.00,108.46 L242.10,108.20 L242.20,104.61 L242.30,107.31 L242.40,107.37 L242.50,106.07 L242.60,107.81 L242.70,106.04 L242.80,108.92 L242.90,106.85 L243.00,107.60 L243.10,102.84 L243.20,106.52 L243.30,107.31 L243.40,106.23 L243.50,106.91 L243.60,105.72 L243.70,108.68 L243.80,105.58 L243.90,106.75 L244.00,109.61 L244.10,109.18 L244.20,107.23 L244.30,105.19 L244.40,104.16 L244.50,107.98 L244.60,107.67 L244.70,106.83 L244.80,106.85 L244.90,110.80 L245.00,108.82 L245.10,107.40 L245.20,107.05 L245.30,106.85 L245.40,107.97 L245.50,107.02 L245.60,107.63 L245.70,106.76 L245.80,108.72 L245.90,107.90 L246.00,105.65 L246.10,112.04 L246.20,108.02 L246.30,106.81 L246.40,105.57 L246.50,107.73 L246.60,106.60 L246.70,110.42 L246.80,108.50 L246.90,106.67 L247.00,104.75 L247.10,109.00 L247.20,104.93 L247.30,108.50 L247.40,107.93 L247.50,103.35 L247.60,107.30 L247.70,110.45 L247.80,106.26 L247.90,104.03 L248.00,104.93 L248.10,107.62 L248.20,108.24 L248.30,109.15 L248.40,108.23 L248.50,106.22 L248.60,107.08 L248.70,107.43 L248.80,107.55 L248.90,105.75 L249.00,108.90 L249.10,109.66 L249.20,107.64 L249.30,108.13 L249.40,105.79 L249.50,108.24 L249.60,106.58 L249.70,106.44 L249.80,109.26 L249.90,108.17 L250.00,107.17 L250.10,105.23 L250.20,108.01 L250.30,110.72 L250.40,108.55 L250.50,108.42 L250.60,110.07 L250.70,111.59 L250.80,109.06 L250.90,109.83 L251.00,108.48 L251.10,108.98 L251.20,108.93 L251.30,110.05 L251.40,107.43 L251.50,108.77 L251.60,108.77 L251.70,108.12 L251.80,107.27 L251.90,109.65 L252.00,107.67 L252.10,105.73 L252.20,109.53 L252.30,105.94 L252.40,109.65 L252.50,104.16 L252.60,108.39 L252.70,111.41 L252.80,108.06 L252.90,110.37 L253.00,107.77 L253.10,107.17 L253.20,107.98 L253.30,110.06 L253.40,110.63 L253.50,110.87 L253.60,109.99 L253.70,108.46 L253.80,105.15 L253.90,107.25 L254.00,111.05 L254.10,105.83 L254.20,109.34 L254.30,109.26 L254.40,105.72 L254.50,109.12 L254.60,107.88 L254.70,108.88 L254.80,108.38 L254.90,108.20 L255.00,107.01 L255.10,105.20 L255.20,111.55 L255.30,107.12 L255.40,108.14 L255.50,107.96 L255.60,108.10 L255.70,107.35 L255.80,109.56 L255.90,108.62 L256.00,107.82 L256.10,107.65 L256.20,109.52 L256.30,107.13 L256.40,109.59 L256.50,110.95 L256.60,110.53 L256.70,109.69 L256.80,105.95 L256.90,110.01 L257.00,109.25 L257.10,111.13 L257.20,107.90 L257.30,108.08 L257.40,111.33 L257.50,107.54 L257.60,110.85 L257.70,109.49 L257.80,104.76 L257.90,108.16 L258.00,108.14 L258.10,106.66 L258.20,105.72 L258.30,109.05 L258.40,107.20 L258.50,107.80 L258.60,107.33 L258.70,108.53 L258.80,109.80 L258.90,110.32 L259.00,109.84 L259.10,108.37 L259.20,108.70 L259.30,109.97 L259.40,111.11 L259.50,108.86 L259.60,106.84 L259.70,109.53 L259.80,110.11 L259.90,108.26 L260.00,111.07 L260.10,108.26 L260.20,109.07 L260.30,109.71 L260.40,111.81 L260.50,107.09 L260.60,110.02 L260.70,110.44 L260.80,108.92 L260.90,110.87 L261.00,108.03 L261.10,107.16 L261.20,107.04 L261.30,107.99 L261.40,107.33 L261.50,110.03 L261.60,109.20 L261.70,106.73 L261.80,111.89 L261.90,109.63 L262.00,106.40 L262.10,106.07 L262.20,109.34 L262.30,111.55 L262.40,108.72 L262.50,110.90 L262.60,112.04 L262.70,110.51 L262.80,108.73 L262.90,107.06 L263.00,108.17 L263.10,111.58 L263.20,109.36 L263.30,107.63 L263.40,108.63 L263.50,109.00 L263.60,111.28 L263.70,108.37 L263.80,112.58 L263.90,109.77 L264.00,110.01 L264.10,107.48 L264.20,110.11 L264.30,109.87 L264.40,110.66 L264.50,108.22 L264.60,109.81 L264.70,106.81 L264.80,107.72 L264.90,113.45 L265.00,108.66 L265.10,108.13 L265.20,111.00 L265.30,109.17 L265.40,113.82 L265.50,109.61 L265.60,110.71 L265.70,109.05 L265.80,111.47 L265.90,109.58 L266.00,113.87 L266.10,108.30 L266.20,110.32 L266.30,110.80 L266.40,107.59 L266.50,108.64 L266.60,108.21 L266.70,106.66 L266.80,110.10 L266.90,105.11 L267.00,107.32 L267.10,107.59 L267.20,110.05 L267.30,109.31 L267.40,111.37 L267.50,111.66 L267.60,109.87 L267.70,107.93 L267.80,110.84 L267.90,108.35 L268.00,109.06 L268.10,109.69 L268.20,112.21 L268.30,114.05 L268.40,111.81 L268.50,108.89 L268.60,111.33 L268.70,111.94 L268.80,108.27 L268.90,110.02 L269.00,108.61 L269.10,108.72 L269.20,109.95 L269.30,110.05 L269.40,108.49 L269.50,109.86 L269.60,107.70 L269.70,109.54 L269.80,110.09 L269.90,109.04 L270.00,107.21 L270.10,108.53 L270.20,110.53 L270.30,111.52 L270.40,111.50 L270.50,111.62 L270.60,112.87 L270.70,109.15 L270.80,111.86 L270.90,108.52 L271.00,112.89 L271.10,111.58 L271.20,108.19 L271.30,111.11 L271.40,111.65 L271.50,108.55 L271.60,110.52 L271.70,111.45 L271.80,113.14 L271.90,109.02 L272.00,112.62 L272.10,108.26 L272.20,108.57 L272.30,112.30 L272.40,111.29 L272.50,108.71 L272.60,112.64 L272.70,110.89 L272.80,110.36 L272.90,109.56 L273.00,105.62 L273.10,110.06 L273.20,111.67 L273.30,109.97 L273.40,111.30 L273.50,109.89 L273.60,112.44 L273.70,105.58 L273.80,110.91 L273.90,108.50 L274.00,110.44 L274.10,111.22 L274.20,112.08 L274.30,111.49 L274.40,112.16 L274.50,108.39 L274.60,110.35 L274.70,106.37 L274.80,110.69 L274.90,107.28 L275.00,111.94 L275.10,110.45 L275.20,109.63 L275.30,109.00 L275.40,110.43 L275.50,109.08 L275.60,107.67 L275.70,110.79 L275.80,108.63 L275.90,110.92 L276.00,108.47 L276.10,108.03 L276.20,113.93 L276.30,111.13 L276.40,112.18 L276.50,109.65 L276.60,110.03 L276.70,110.08 L276.80,113.46 L276.90,111.25 L277.00,110.26 L277.10,110.02 L277.20,110.20 L277.30,111.90 L277.40,110.16 L277.50,110.21 L277.60,112.43 L277.70,111.78 L277.80,111.47 L277.90,113.46 L278.00,109.93 L278.10,108.16 L278.20,107.30 L278.30,109.95 L278.40,110.46 L278.50,111.70 L278.60,107.57 L278.70,107.71 L278.80,109.60 L278.90,109.46 L279.00,107.51 L279.10,109.58 L279.20,111.05 L279.30,109.40 L279.40,113.78 L279.50,110.99 L279.60,108.31 L279.70,109.28 L279.80,107.16 L279.90,113.25 L280.00,109.03 L280.10,108.91 L280.20,110.62 L280.30,108.74 L280.40,108.07 L280.50,109.02 L280.60,110.79 L280.70,110.71 L280.80,106.49 L280.90,105.92 L281.00,109.37 L281.10,107.93 L281.20,107.53 L281.30,109.99 L281.40,108.78 L281.50,106.96 L281.60,108.72 L281.70,106.18 L281.80,106.38 L281.90,110.27 L282.00,106.43 L282.10,107.60 L282.20,106.00 L282.30,105.73 L282.40,104.20 L282.50,104.03 L282.60,108.07 L282.70,109.64 L282.80,107.01 L282.90,106.88 L283.00,105.02 L283.10,105.97 L283.20,108.83 L283.30,110.84 L283.40,107.83 L283.50,107.53 L283.60,108.97 L283.70,107.54 L283.80,106.21 L283.90,106.22 L284.00,107.48 L284.10,107.45 L284.20,104.25 L284.30,105.42 L284.40,110.07 L284.50,110.50 L284.60,110.40 L284.70,108.73 L284.80,108.09 L284.90,109.29 L285.00,110.04 L285.10,108.75 L285.20,111.57 L285.30,108.59 L285.40,105.80 L285.50,111.11 L285.60,111.56 L285.70,109.77 L285.80,111.94 L285.90,112.26 L286.00,105.83 L286.10,111.03 L286.20,108.29 L286.30,111.61 L286.40,110.91 L286.50,111.96 L286.60,110.09 L286.70,109.55 L286.80,111.10 L286.90,114.86 L287.00,111.45 L287.10,108.93 L287.20,110.70 L287.30,110.36 L287.40,113.02 L287.50,111.07 L287.60,110.34 L287.70,111.21 L287.80,109.70 L287.90,111.77 L288.00,109.09 L288.10,110.20 L288.20,111.38 L288.30,108.67 L288.40,108.75 L288.50,109.74 L288.60,113.63 L288.70,112.58 L288.80,111.25 L288.90,112.90 L289.00,112.68 L289.10,110.15 L289.20,109.31 L289.30,113.33 L289.40,110.12 L289.50,112.39 L289.60,108.59 L289.70,111.16 L289.80,109.16 L289.90,112.48 L290.00,112.67 L290.10,112.04 L290.20,112.74 L290.30,110.45 L290.40,112.09 L290.50,112.44 L290.60,109.91 L290.70,112.49 L290.80,111.92 L290.90,112.27 L291.00,111.05 L291.10,111.38 L291.20,112.32 L291.30,111.70 L291.40,112.49 L291.50,109.19 L291.60,113.16 L291.70,110.15 L291.80,113.35 L291.90,109.05 L292.00,110.47 L292.10,112.00 L292.20,112.25 L292.30,110.78 L292.40,110.01 L292.50,112.64 L292.60,113.38 L292.70,110.05 L292.80,109.51 L292.90,110.56 L293.00,111.39 L293.10,108.56 L293.20,109.84 L293.30,112.75 L293.40,110.24 L293.50,110.20 L293.60,114.25 L293.70,113.49 L293.80,114.51 L293.90,111.63 L294.00,111.40 L294.10,110.92 L294.20,109.11 L294.30,108.00 L294.40,111.49 L294.50,110.29 L294.60,112.72 L294.70,113.31 L294.80,108.99 L294.90,109.23 L295.00,111.99 L295.10,114.03 L295.20,114.30 L295.30,110.40 L295.40,111.69 L295.50,114.04 L295.60,110.24 L295.70,109.80 L295.80,113.81 L295.90,110.23 L296.00,109.37 L296.10,114.15 L296.20,110.62 L296.30,110.62 L296.40,112.29 L296.50,113.83 L296.60,112.55 L296.70,111.55 L296.80,111.80 L296.90,111.74 L297.00,111.43 L297.10,107.87 L297.20,111.31 L297.30,108.37 L297.40,109.36 L297.50,110.80 L297.60,110.31 L297.70,111.10 L297.80,110.40 L297.90,111.26 L298.00,113.58 L298.10,108.54 L298.20,112.37 L298.30,113.72 L298.40,109.86 L298.50,110.06 L298.60,110.58 L298.70,111.65 L298.80,109.74 L298.90,110.42 L299.00,111.08 L299.10,111.35 L299.20,113.78 L299.30,110.57 L299.40,112.94 L299.50,112.95 L299.60,112.00 L299.70,111.99 L299.80,110.41 L299.90,110.65 L300.00,112.58 L300.10,112.42 L300.20,111.60 L300.30,114.09 L300.40,112.39 L300.50,112.30 L300.60,111.96 L300.70,114.11 L300.80,113.26 L300.90,112.88 L301.00,110.20 L301.10,115.31 L301.20,110.05 L301.30,113.15 L301.40,110.46 L301.50,109.83 L301.60,107.91 L301.70,112.72 L301.80,112.99 L301.90,111.86 L302.00,111.68 L302.10,110.15 L302.20,112.42 L302.30,112.03 L302.40,109.95 L302.50,111.71 L302.60,111.97 L302.70,110.63 L302.80,114.46 L302.90,110.33 L303.00,115.93 L303.10,114.58 L303.20,111.82 L303.30,115.44 L303.40,114.60 L303.50,114.82 L303.60,113.03 L303.70,111.04 L303.80,109.11 L303.90,113.25 L304.00,112.58 L304.10,111.78 L304.20,116.35 L304.30,113.68 L304.40,110.27 L304.50,112.63 L304.60,113.76 L304.70,110.76 L304.80,113.27 L304.90,112.33 L305.00,110.39 L305.10,113.66 L305.20,114.13 L305.30,108.54 L305.40,113.75 L305.50,112.01 L305.60,112.44 L305.70,110.18 L305.80,111.35 L305.90,116.08 L306.00,114.28 L306.10,112.81 L306.20,113.25 L306.30,111.70 L306.40,112.92 L306.50,111.68 L306.60,113.59 L306.70,111.24 L306.80,113.52 L306.90,114.53 L307.00,112.65 L307.10,113.55 L307.20,113.71 L307.30,112.33 L307.40,110.84 L307.50,115.11 L307.60,113.44 L307.70,112.79 L307.80,115.46 L307.90,111.92 L308.00,112.48 L308.10,112.15 L308.20,111.61 L308.30,113.14 L308.40,112.31 L308.50,115.80 L308.60,112.30 L308.70,115.55 L308.80,111.92 L308.90,112.91 L309.00,113.55 L309.10,112.00 L309.20,114.65 L309.30,112.51 L309.40,112.41 L309.50,114.72 L309.60,112.29 L309.70,114.64 L309.80,115.41 L309.90,114.95 L310.00,116.01 L310.10,112.93 L310.20,115.76 L310.30,112.75 L310.40,110.86 L310.50,113.38 L310.60,117.00 L310.70,112.00 L310.80,116.72 L310.90,111.30 L311.00,115.27 L311.10,114.58 L311.20,112.99 L311.30,109.92 L311.40,114.91 L311.50,114.88 L311.60,114.64 L311.70,115.47 L311.80,112.45 L311.90,117.24 L312.00,115.39 L312.10,112.55 L312.20,117.59 L312.30,113.92 L312.40,114.69 L312.50,115.35 L312.60,112.46 L312.70,112.43 L312.80,113.68 L312.90,112.02 L313.00,113.63 L313.10,116.34 L313.20,112.07 L313.30,114.16 L313.40,113.06 L313.50,115.46 L313.60,112.06 L313.70,112.17 L313.80,113.76 L313.90,117.48 L314.00,112.43 L314.10,111.14 L314.20,112.37 L314.30,115.27 L314.40,115.64 L314.50,113.98 L314.60,114.52 L314.70,111.72 L314.80,114.78 L314.90,113.84 L315.00,113.06 L315.10,115.84 L315.20,115.93 L315.30,113.35 L315.40,114.55 L315.50,110.90 L315.60,112.39 L315.70,116.41 L315.80,112.29 L315.90,112.63 L316.00,116.13 L316.10,110.31 L316.20,113.07 L316.30,115.52 L316.40,113.50 L316.50,112.79 L316.60,112.51 L316.70,114.65 L316.80,112.70 L316.90,114.84 L317.00,114.08 L317.10,114.37 L317.20,116.27 L317.30,113.59 L317.40,112.80 L317.50,114.42 L317.60,114.89 L317.70,114.15 L317.80,111.59 L317.90,115.63 L318.00,111.54 L318.10,111.15 L318.20,116.13 L318.30,117.12 L318.40,114.09 L318.50,113.18 L318.60,116.95 L318.70,112.37 L318.80,114.59 L318.90,113.67 L319.00,115.69 L319.10,115.21 L319.20,113.39 L319.30,116.60 L319.40,116.00 L319.50,114.77 L319.60,114.28 L319.70,114.67 L319.80,112.67 L319.90,114.43 L320.00,114.41 L320.10,115.79 L320.20,114.52 L320.30,114.19 L320.40,115.33 L320.50,116.55 L320.60,115.89 L320.70,114.73 L320.80,114.22 L320.90,117.28 L321.00,115.01 L321.10,112.96 L321.20,115.38 L321.30,112.03 L321.40,114.15 L321.50,116.16 L321.60,114.80 L321.70,114.53 L321.80,116.35 L321.90,117.10 L322.00,113.50 L322.10,113.22 L322.20,113.95 L322.30,113.25 L322.40,115.99 L322.50,116.44 L322.60,115.03 L322.70,113.42 L322.80,112.55 L322.90,114.96 L323.00,113.91 L323.10,116.01 L323.20,113.11 L323.30,114.33 L323.40,114.62 L323.50,117.04 L323.60,116.64 L323.70,116.15 L323.80,115.70 L323.90,116.52 L324.00,112.33 L324.10,116.92 L324.20,114.99 L324.30,117.94 L324.40,116.99 L324.50,117.51 L324.60,114.34 L324.70,119.91 L324.80,116.52 L324.90,116.05 L325.00,114.61 L325.10,116.20 L325.20,112.05 L325.30,117.91 L325.40,116.49 L325.50,115.59 L325.60,118.00 L325.70,116.61 L325.80,116.50 L325.90,114.88 L326.00,116.33 L326.10,113.81 L326.20,113.90 L326.30,116.07 L326.40,114.79 L326.50,113.56 L326.60,115.53 L326.70,112.75 L326.80,118.52 L326.90,114.36 L327.00,114.39 L327.10,118.52 L327.20,113.40 L327.30,112.17 L327.40,115.93 L327.50,115.48 L327.60,117.68 L327.70,115.86 L327.80,113.24 L327.90,116.18 L328.00,115.57 L328.10,118.12 L328.20,116.54 L328.30,114.48 L328.40,114.90 L328.50,116.10 L328.60,115.38 L328.70,116.46 L328.80,116.57 L328.90,114.16 L329.00,116.54 L329.10,117.56 L329.20,114.16 L329.30,113.75 L329.40,117.50" fill="none" stroke="#0c0cf4" stroke-width="0.85" stroke-linejoin="round" />
<line x1="59.70" y1="3.30" x2="59.70" y2="235.00" stroke="#f08080" stroke-width="0.9" stroke-dasharray="2,1.5"/>
<line x1="65.40" y1="3.30" x2="65.40" y2="235.00" stroke="#f08080" stroke-width="0.9" stroke-dasharray="2,1.5"/>
<rect x="31.4" y="2.3" width="298.30" height="223.70" fill="none" stroke="#1a1a1a" stroke-width="1.3"/>
<line x1="31.40" y1="226.00" x2="31.40" y2="221.40" stroke="#1a1a1a" stroke-width="1.3" />
<text x="31.40" y="239.90" font-family='"Liberation Sans", sans-serif' font-size="11.3" fill="#000" font-weight="bold" text-anchor="middle" textLength="14.4" lengthAdjust="spacingAndGlyphs" >10</text>
<line x1="50.04" y1="226.00" x2="50.04" y2="223.70" stroke="#1a1a1a" stroke-width="1.3" />
<line x1="68.69" y1="226.00" x2="68.69" y2="221.40" stroke="#1a1a1a" stroke-width="1.3" />
<text x="68.69" y="239.90" font-family='"Liberation Sans", sans-serif' font-size="11.3" fill="#000" font-weight="bold" text-anchor="middle" textLength="14.4" lengthAdjust="spacingAndGlyphs" >20</text>
<line x1="87.33" y1="226.00" x2="87.33" y2="223.70" stroke="#1a1a1a" stroke-width="1.3" />
<line x1="105.97" y1="226.00" x2="105.97" y2="221.40" stroke="#1a1a1a" stroke-width="1.3" />
<text x="105.97" y="239.90" font-family='"Liberation Sans", sans-serif' font-size="11.3" fill="#000" font-weight="bold" text-anchor="middle" textLength="14.4" lengthAdjust="spacingAndGlyphs" >30</text>
<line x1="124.62" y1="226.00" x2="124.62" y2="223.70" stroke="#1a1a1a" stroke-width="1.3" />
<line x1="143.26" y1="226.00" x2="143.26" y2="221.40" stroke="#1a1a1a" stroke-width="1.3" />
<text x="143.26" y="239.90" font-family='"Liberation Sans", sans-serif' font-size="11.3" fill="#000" font-weight="bold" text-anchor="middle" textLength="14.4" lengthAdjust="spacingAndGlyphs" >40</text>
<line x1="161.91" y1="226.00" x2="161.91" y2="223.70" stroke="#1a1a1a" stroke-width="1.3" />
<line x1="180.55" y1="226.00" x2="180.55" y2="221.40" stroke="#1a1a1a" stroke-width="1.3" />
<text x="180.55" y="239.90" font-family='"Liberation Sans", sans-serif' font-size="11.3" fill="#000" font-weight="bold" text-anchor="middle" textLength="14.4" lengthAdjust="spacingAndGlyphs" >50</text>
<line x1="199.19" y1="226.00" x2="199.19" y2="223.70" stroke="#1a1a1a" stroke-width="1.3" />
<line x1="217.84" y1="226.00" x2="217.84" y2="221.40" stroke="#1a1a1a" stroke-width="1.3" />
<text x="217.84" y="239.90" font-family='"Liberation Sans", sans-serif' font-size="11.3" fill="#000" font-weight="bold" text-anchor="middle" textLength="14.4" lengthAdjust="spacingAndGlyphs" >60</text>
<line x1="236.48" y1="226.00" x2="236.48" y2="223.70" stroke="#1a1a1a" stroke-width="1.3" />
<line x1="255.12" y1="226.00" x2="255.12" y2="221.40" stroke="#1a1a1a" stroke-width="1.3" />
<text x="255.12" y="239.90" font-family='"Liberation Sans", sans-serif' font-size="11.3" fill="#000" font-weight="bold" text-anchor="middle" textLength="14.4" lengthAdjust="spacingAndGlyphs" >70</text>
<line x1="273.77" y1="226.00" x2="273.77" y2="223.70" stroke="#1a1a1a" stroke-width="1.3" />
<line x1="292.41" y1="226.00" x2="292.41" y2="221.40" stroke="#1a1a1a" stroke-width="1.3" />
<text x="292.41" y="239.90" font-family='"Liberation Sans", sans-serif' font-size="11.3" fill="#000" font-weight="bold" text-anchor="middle" textLength="14.4" lengthAdjust="spacingAndGlyphs" >80</text>
<line x1="311.06" y1="226.00" x2="311.06" y2="223.70" stroke="#1a1a1a" stroke-width="1.3" />
<line x1="329.70" y1="226.00" x2="329.70" y2="221.40" stroke="#1a1a1a" stroke-width="1.3" />
<text x="329.70" y="239.90" font-family='"Liberation Sans", sans-serif' font-size="11.3" fill="#000" font-weight="bold" text-anchor="middle" textLength="14.4" lengthAdjust="spacingAndGlyphs" >90</text>
<text x="2.30" y="20.30" font-family='"Liberation Serif", serif' font-size="23" fill="#000" font-weight="bold" textLength="25.6" lengthAdjust="spacingAndGlyphs" >(a)</text>
<text x="69.50" y="17.40" font-family='"Liberation Sans", sans-serif' font-size="11.5" fill="#000" font-weight="bold" textLength="38.6" lengthAdjust="spacingAndGlyphs" >Chitin</text>
<text x="125.30" y="29.40" font-family='"Liberation Serif", serif' font-size="9.6" fill="#000" >(</text>
<text x="130.50" y="29.40" font-family='"Liberation Serif", serif' font-size="9.6" fill="#000" font-weight="bold" textLength="16.3" lengthAdjust="spacingAndGlyphs" >111</text>
<text x="149.90" y="29.40" font-family='"Liberation Serif", serif' font-size="9.6" fill="#000" >)</text>
<text x="149.50" y="76.20" font-family='"Liberation Serif", serif' font-size="9.6" fill="#000" >(</text>
<text x="154.70" y="76.20" font-family='"Liberation Serif", serif' font-size="9.6" fill="#000" font-weight="bold" textLength="16.3" lengthAdjust="spacingAndGlyphs" >200</text>
<text x="174.10" y="76.20" font-family='"Liberation Serif", serif' font-size="9.6" fill="#000" >)</text>
<text x="221.40" y="91.90" font-family='"Liberation Serif", serif' font-size="9.6" fill="#000" >(</text>
<text x="226.60" y="91.90" font-family='"Liberation Serif", serif' font-size="9.6" fill="#000" font-weight="bold" textLength="16.3" lengthAdjust="spacingAndGlyphs" >220</text>
<text x="246.00" y="91.90" font-family='"Liberation Serif", serif' font-size="9.6" fill="#000" >)</text>
<text x="270.30" y="98.40" font-family='"Liberation Serif", serif' font-size="9.6" fill="#000" >(</text>
<text x="275.50" y="98.40" font-family='"Liberation Serif", serif' font-size="9.6" fill="#000" font-weight="bold" textLength="16.3" lengthAdjust="spacingAndGlyphs" >311</text>
<text x="294.90" y="98.40" font-family='"Liberation Serif", serif' font-size="9.6" fill="#000" >)</text>
<text x="125.30" y="112.50" font-family='"Liberation Serif", serif' font-size="9.6" fill="#000" >(</text>
<text x="130.50" y="112.50" font-family='"Liberation Serif", serif' font-size="9.6" fill="#000" font-weight="bold" textLength="16.3" lengthAdjust="spacingAndGlyphs" >111</text>
<text x="149.90" y="112.50" font-family='"Liberation Serif", serif' font-size="9.6" fill="#000" >)</text>
<text x="149.50" y="149.40" font-family='"Liberation Serif", serif' font-size="9.6" fill="#000" >(</text>
<text x="154.70" y="149.40" font-family='"Liberation Serif", serif' font-size="9.6" fill="#000" font-weight="bold" textLength="16.3" lengthAdjust="spacingAndGlyphs" >200</text>
<text x="174.10" y="149.40" font-family='"Liberation Serif", serif' font-size="9.6" fill="#000" >)</text>
<text x="223.60" y="161.70" font-family='"Liberation Serif", serif' font-size="9.6" fill="#000" >(</text>
<text x="228.80" y="161.70" font-family='"Liberation Serif", serif' font-size="9.6" fill="#000" font-weight="bold" textLength="16.3" lengthAdjust="spacingAndGlyphs" >220</text>
<text x="248.20" y="161.70" font-family='"Liberation Serif", serif' font-size="9.6" fill="#000" >)</text>
<text x="274.00" y="167.90" font-family='"Liberation Serif", serif' font-size="9.6" fill="#000" >(</text>
<text x="279.20" y="167.90" font-family='"Liberation Serif", serif' font-size="9.6" fill="#000" font-weight="bold" textLength="16.3" lengthAdjust="spacingAndGlyphs" >311</text>
<text x="298.60" y="167.90" font-family='"Liberation Serif", serif' font-size="9.6" fill="#000" >)</text>
<text x="313.20" y="102.30" font-family='"Liberation Sans", sans-serif' font-size="12.8" fill="#000" font-weight="bold" textLength="10.8" lengthAdjust="spacingAndGlyphs" >C</text>
<text x="313.60" y="172.90" font-family='"Liberation Sans", sans-serif' font-size="12.8" fill="#000" font-weight="bold" textLength="10.8" lengthAdjust="spacingAndGlyphs" >B</text>
<text x="312.30" y="212.00" font-family='"Liberation Sans", sans-serif' font-size="12.8" fill="#000" font-weight="bold" textLength="10.8" lengthAdjust="spacingAndGlyphs" >A</text>
<text x="144.70" y="260.80" font-family='"Liberation Sans", sans-serif' font-size="12.0" fill="#000" font-weight="bold" textLength="16.0" lengthAdjust="spacingAndGlyphs" >2θ</text>
<text x="164.30" y="260.80" font-family='"Liberation Serif", serif' font-size="12.5" fill="#000" font-weight="bold" textLength="52.6" lengthAdjust="spacingAndGlyphs" >(degree)</text>
<text x="0" y="0" font-family='"Liberation Sans", sans-serif' font-weight="bold" font-size="13" textLength="88.5" lengthAdjust="spacingAndGlyphs" transform="translate(13.3 174.0) scale(1.17 1) rotate(-90)">Intensity (a.u.)</text>
<path d="M370.00,173.07 L370.50,172.76 L371.00,172.15 L371.50,171.74 L372.00,170.74 L372.50,170.35 L373.00,171.22 L373.50,171.31 L374.00,171.08 L374.50,171.70 L375.00,170.89 L375.50,170.85 L376.00,170.53 L376.50,170.25 L377.00,170.10 L377.50,170.25 L378.00,169.60 L378.50,168.27 L379.00,168.90 L379.50,167.83 L380.00,168.42 L380.50,169.30 L381.00,168.95 L381.50,169.74 L382.00,169.22 L382.50,169.66 L383.00,169.48 L383.50,169.21 L384.00,168.72 L384.50,167.20 L385.00,167.45 L385.50,167.35 L386.00,167.35 L386.50,166.89 L387.00,166.43 L387.50,166.01 L388.00,166.00 L388.50,166.28 L389.00,166.55 L389.50,166.34 L390.00,166.68 L390.50,166.31 L391.00,166.70 L391.50,166.19 L392.00,166.75 L392.50,166.26 L393.00,166.10 L393.50,166.65 L394.00,165.82 L394.50,165.22 L395.00,164.90 L395.50,164.52 L395.70,164.58 L396.00,164.64 L396.50,165.76 L397.00,164.52 L397.50,163.77 L398.00,163.40 L398.50,163.21 L399.00,163.78 L399.50,164.30 L400.00,165.33 L400.50,165.26 L401.00,165.06 L401.50,164.14 L402.00,162.13 L402.50,162.15 L403.00,161.82 L403.50,163.01 L404.00,162.25 L404.50,162.04 L405.00,161.00 L405.50,161.31 L406.00,160.55 L406.50,160.41 L407.00,160.00 L407.50,160.88 L408.00,160.78 L408.50,160.83 L409.00,160.09 L409.50,160.08 L410.00,159.99 L410.50,159.48 L411.00,160.15 L411.50,159.86 L412.00,159.08 L412.50,159.33 L413.00,159.61 L413.50,159.73 L414.00,158.99 L414.50,158.96 L415.00,159.11 L415.50,158.14 L416.00,157.73 L416.50,156.93 L416.70,156.80 L417.00,156.51 L417.50,155.52 L418.00,156.07 L418.50,156.17 L419.00,155.43 L419.50,154.96 L420.00,154.78 L420.50,154.92 L421.00,154.55 L421.50,154.05 L422.00,155.62 L422.50,155.48 L423.00,154.95 L423.40,156.28 L423.50,156.33 L424.00,154.34 L424.50,153.51 L424.80,152.61 L425.00,152.14 L425.50,151.33 L426.00,151.26 L426.10,151.06 L426.50,151.70 L427.00,152.40 L427.50,156.35 L427.80,157.94 L428.00,158.54 L428.50,159.92 L429.00,160.67 L429.50,161.56 L430.00,162.90 L430.10,163.13 L430.50,163.00 L431.00,162.59 L431.50,161.76 L432.00,160.49 L432.50,160.88 L433.00,159.79 L433.50,160.66 L434.00,161.17 L434.50,160.90 L435.00,160.24 L435.50,159.48 L436.00,160.16 L436.50,160.08 L436.80,159.58 L437.00,159.26 L437.50,159.75 L438.00,159.44 L438.50,160.11 L439.00,159.19 L439.50,158.65 L440.00,159.05 L440.50,158.73 L441.00,159.26 L441.50,159.43 L442.00,158.49 L442.50,158.61 L443.00,158.32 L443.50,157.58 L443.60,157.58 L444.00,157.63 L444.50,156.98 L445.00,157.30 L445.50,156.78 L446.00,156.45 L446.50,157.11 L446.80,157.13 L447.00,157.12 L447.50,156.86 L448.00,156.12 L448.50,157.53 L449.00,157.08 L449.50,156.87 L450.00,156.10 L450.50,155.48 L451.00,155.19 L451.50,155.70 L452.00,155.62 L452.50,155.49 L453.00,154.76 L453.50,155.12 L454.00,155.03 L454.50,153.71 L455.00,154.31 L455.50,153.47 L456.00,154.41 L456.50,153.98 L457.00,154.15 L457.50,152.95 L458.00,152.22 L458.50,152.67 L459.00,152.53 L459.50,152.56 L460.00,152.67 L460.50,152.69 L461.00,152.79 L461.50,152.23 L462.00,151.97 L462.50,152.17 L463.00,151.43 L463.50,150.93 L464.00,150.74 L464.50,151.02 L465.00,150.71 L465.50,149.91 L466.00,151.15 L466.50,149.56 L467.00,149.79 L467.20,149.60 L467.50,149.32 L468.00,149.91 L468.50,149.76 L469.00,150.14 L469.50,149.81 L470.00,149.42 L470.50,149.34 L471.00,147.38 L471.50,146.72 L472.00,146.07 L472.50,146.44 L473.00,146.73 L473.50,147.24 L474.00,148.36 L474.50,148.55 L475.00,148.08 L475.50,147.19 L476.00,147.73 L476.50,146.63 L477.00,146.18 L477.50,146.40 L478.00,146.42 L478.50,145.93 L479.00,146.11 L479.50,145.53 L480.00,145.06 L480.50,145.42 L481.00,144.63 L481.50,145.07 L481.60,144.99 L482.00,144.71 L482.50,144.81 L483.00,145.45 L483.50,144.75 L484.00,144.78 L484.50,144.71 L485.00,143.61 L485.50,142.83 L486.00,142.67 L486.50,142.56 L487.00,141.60 L487.50,142.76 L488.00,143.02 L488.50,142.27 L489.00,142.49 L489.50,141.70 L490.00,141.53 L490.50,141.79 L491.00,142.27 L491.50,141.86 L492.00,141.71 L492.50,141.80 L493.00,141.96 L493.50,140.84 L494.00,141.80 L494.50,141.59 L495.00,140.30 L495.50,140.32 L496.00,140.36 L496.50,140.20 L497.00,140.78 L497.50,140.04 L498.00,139.61 L498.50,139.40 L499.00,139.34 L499.50,138.71 L500.00,138.61 L500.50,138.48 L501.00,139.08 L501.50,138.44 L502.00,137.45 L502.50,137.66 L503.00,136.22 L503.50,137.01 L504.00,137.40 L504.50,137.86 L505.00,138.54 L505.50,138.67 L506.00,138.23 L506.50,138.16 L507.00,137.96 L507.50,137.38 L508.00,137.71 L508.50,136.98 L509.00,137.15 L509.50,137.47 L510.00,137.37 L510.50,137.54 L511.00,136.44 L511.50,136.40 L512.00,136.75 L512.50,136.01 L513.00,136.05 L513.50,134.83 L514.00,134.42 L514.50,133.87 L515.00,134.85 L515.50,135.40 L516.00,135.92 L516.50,135.25 L517.00,135.67 L517.50,134.64 L518.00,134.21 L518.50,135.03 L519.00,135.57 L519.50,134.85 L520.00,135.84 L520.50,135.56 L521.00,135.30 L521.50,135.03 L522.00,134.43 L522.50,134.35 L523.00,134.95 L523.50,133.33 L524.00,134.14 L524.50,133.17 L525.00,134.20 L525.50,133.42 L526.00,133.98 L526.50,132.15 L527.00,132.73 L527.50,131.90 L527.70,131.94 L528.00,131.97 L528.50,132.35 L529.00,133.15 L529.50,132.74 L530.00,132.67 L530.50,131.75 L531.00,130.63 L531.50,131.28 L532.00,130.48 L532.50,130.18 L533.00,129.62 L533.50,128.91 L534.00,128.83 L534.20,128.37 L534.50,129.37 L535.00,131.23 L535.50,133.38 L536.00,137.98 L536.50,142.39 L537.00,132.76 L537.50,121.85 L537.60,119.99 L538.00,110.47 L538.50,97.27 L538.70,92.22 L539.00,117.53 L539.10,125.86 L539.50,145.41 L539.60,150.34 L540.00,150.30 L540.50,151.33 L541.00,150.38 L541.50,149.85 L542.00,149.66 L542.50,149.42 L543.00,148.50 L543.50,149.18 L544.00,150.28 L544.50,150.65 L545.00,150.43 L545.50,149.61 L546.00,149.21 L546.50,148.31 L547.00,148.19 L547.50,147.55 L548.00,147.31 L548.50,146.98 L549.00,147.32 L549.50,147.11 L550.00,146.59 L550.50,146.68 L550.60,146.39 L551.00,145.28 L551.50,144.05 L552.00,143.32 L552.50,143.73 L553.00,143.71 L553.50,144.54 L554.00,144.69 L554.50,145.18 L555.00,145.43 L555.50,145.60 L556.00,145.39 L556.50,145.04 L557.00,143.91 L557.50,144.04 L558.00,143.92 L558.30,143.56 L558.50,143.34 L559.00,143.70 L559.50,143.01 L560.00,142.95 L560.50,142.56 L561.00,141.55 L561.50,141.42 L562.00,142.98 L562.50,143.34 L563.00,142.78 L563.50,141.55 L564.00,140.33 L564.50,138.81 L565.00,139.79 L565.50,138.61 L566.00,139.85 L566.50,139.88 L567.00,139.97 L567.50,139.50 L568.00,140.09 L568.50,140.97 L569.00,140.37 L569.50,140.38 L569.80,139.86 L570.00,137.67 L570.50,133.41 L570.80,130.64 L571.00,126.92 L571.50,117.31 L571.70,113.59 L572.00,122.68 L572.20,128.43 L572.50,135.97 L572.70,141.28 L573.00,141.13 L573.50,140.54 L574.00,140.42 L574.50,139.23 L575.00,139.41 L575.50,140.04 L576.00,139.65 L576.50,139.45 L577.00,138.21 L577.50,138.62 L578.00,138.26 L578.40,138.33 L578.50,138.03 L579.00,136.14 L579.40,133.77 L579.50,134.21 L580.00,138.32 L580.30,139.74 L580.50,138.56 L581.00,136.74 L581.50,134.28 L581.80,133.35 L582.00,132.41 L582.50,129.05 L583.00,126.05 L583.20,125.02 L583.50,128.53 L584.00,133.02 L584.20,135.38 L584.50,139.23 L585.00,145.62 L585.10,146.88 L585.50,143.72 L586.00,140.26 L586.40,137.02 L586.50,136.21 L587.00,132.21 L587.50,127.46 L587.60,126.54 L588.00,133.14 L588.30,138.61 L588.50,142.73 L588.90,150.62 L589.00,151.15 L589.50,153.41 L590.00,155.60 L590.50,158.35 L590.90,159.79 L591.00,159.50 L591.50,159.24 L592.00,158.20 L592.50,157.71 L593.00,157.53 L593.50,156.83 L594.00,156.64 L594.50,155.82 L594.70,155.83 L595.00,157.42 L595.50,159.46 L596.00,160.91 L596.50,161.97 L596.60,162.40 L597.00,165.29 L597.50,168.33 L598.00,171.53 L598.50,175.76 L599.00,179.76 L599.10,180.39 L599.50,115.74 L599.60,99.57 L600.00,42.16 L600.20,13.54 L600.50,45.60 L601.00,99.40 L601.50,157.72 L601.80,192.60 L602.00,192.56 L602.50,192.87 L603.00,192.58 L603.50,192.60 L604.00,192.37 L604.30,192.63 L604.50,193.08 L605.00,193.43 L605.50,193.80 L606.00,194.08 L606.20,194.61 L606.50,195.03 L607.00,194.13 L607.50,195.26 L608.00,195.44 L608.50,195.67 L609.00,194.96 L609.50,194.60 L610.00,193.45 L610.50,192.95 L611.00,192.85 L611.50,192.34 L612.00,191.32 L612.50,192.89 L613.00,192.22 L613.50,193.27 L614.00,193.28 L614.50,193.45 L615.00,193.31 L615.50,193.37 L616.00,193.68 L616.50,194.21 L617.00,193.06 L617.50,192.67 L618.00,191.74 L618.50,191.19 L619.00,191.70 L619.50,191.52 L620.00,192.30 L620.50,192.45 L621.00,192.52 L621.50,192.26 L622.00,191.76 L622.50,191.68 L623.00,191.27 L623.50,191.67 L624.00,191.38 L624.50,191.63 L625.00,192.11 L625.50,191.81 L626.00,191.90 L626.50,190.56 L627.00,189.77 L627.50,191.35 L628.00,189.90 L628.50,190.28 L629.00,190.46 L629.50,191.22 L630.00,191.11 L630.50,191.28 L631.00,191.98 L631.50,192.01 L632.00,191.44 L632.50,190.97 L633.00,191.55 L633.50,190.94 L634.00,190.78 L634.50,190.28 L635.00,189.41 L635.50,189.98 L636.00,189.80 L636.50,189.88 L637.00,189.38 L637.50,189.95 L638.00,189.60 L638.50,190.07 L639.00,189.52 L639.50,189.10 L640.00,188.84 L640.50,188.47 L641.00,188.54 L641.50,188.76 L641.80,188.56 L642.00,188.38 L642.50,187.47 L643.00,187.32 L643.50,188.08 L644.00,187.85 L644.50,187.44 L645.00,186.98 L645.50,188.17 L646.00,188.70 L646.50,190.35 L647.00,192.40 L647.50,194.92 L648.00,197.24 L648.20,198.53 L648.50,192.02 L649.00,180.39 L649.40,170.60 L649.50,167.62 L650.00,152.93 L650.30,144.28 L650.50,151.09 L651.00,168.21 L651.20,175.11 L651.50,189.29 L652.00,212.48 L652.50,213.25 L653.00,213.95 L653.50,214.95 L654.00,215.43 L654.50,215.37 L655.00,215.53 L655.50,215.07 L656.00,214.31 L656.50,213.95 L657.00,213.80 L657.50,213.47 L658.00,214.09 L658.50,214.75 L659.00,215.57 L659.50,215.32 L660.00,215.61 L660.50,216.90 L661.00,217.13 L661.50,216.68 L662.00,216.12 L662.50,215.41 L663.00,215.73 L663.50,215.60 L664.00,215.89 L664.50,216.94 L665.00,216.93 L665.50,217.48 L666.00,217.00 L666.50,216.32 L667.00,216.04 L667.50,215.24 L668.00,215.16 L668.50,215.26 L669.00,215.15 L669.50,215.24 L670.00,214.70 L670.50,213.69 L671.00,211.88 L671.10,211.60 L671.50,214.43 L671.80,216.31" fill="none" stroke="#111" stroke-width="1.05" stroke-linejoin="round" />
<path d="M550.90,41.20 L587.30,41.20 L587.30,124.00" fill="none" stroke="#f07070" stroke-width="0.6" stroke-linejoin="round" stroke-dasharray="1.6,1.2"/>
<path d="M548.80,59.20 L583.30,59.20 L583.30,124.00" fill="none" stroke="#f07070" stroke-width="0.6" stroke-linejoin="round" stroke-dasharray="1.6,1.2"/>
<path d="M550.30,81.00 L579.60,81.00 L579.60,133.00" fill="none" stroke="#f07070" stroke-width="0.6" stroke-linejoin="round" stroke-dasharray="1.6,1.2"/>
<path d="M547.70,106.60 L577.00,106.60 L577.00,137.00" fill="none" stroke="#f07070" stroke-width="0.6" stroke-linejoin="round" stroke-dasharray="1.6,1.2"/>
<path d="M497.80,113.50 L534.00,113.50 L534.00,127.00" fill="none" stroke="#f07070" stroke-width="0.6" stroke-linejoin="round" stroke-dasharray="1.6,1.2"/>
<path d="M497.30,131.40 L527.90,131.40" fill="none" stroke="#f07070" stroke-width="0.6" stroke-linejoin="round" stroke-dasharray="1.6,1.2"/>
<rect x="369.8" y="2.9" width="302.50" height="221.30" fill="none" stroke="#333" stroke-width="1.4"/>
<line x1="672.30" y1="224.20" x2="672.30" y2="228.40" stroke="#333" stroke-width="1.2" />
<text x="672.30" y="239.60" font-family='"Liberation Sans", sans-serif' font-size="10.5" fill="#000" font-weight="bold" text-anchor="middle" textLength="5.55" lengthAdjust="spacingAndGlyphs" >0</text>
<line x1="647.09" y1="224.20" x2="647.09" y2="226.60" stroke="#333" stroke-width="1.2" />
<line x1="621.88" y1="224.20" x2="621.88" y2="228.40" stroke="#333" stroke-width="1.2" />
<text x="621.88" y="239.60" font-family='"Liberation Sans", sans-serif' font-size="10.5" fill="#000" font-weight="bold" text-anchor="middle" textLength="16.65" lengthAdjust="spacingAndGlyphs" >200</text>
<line x1="596.67" y1="224.20" x2="596.67" y2="226.60" stroke="#333" stroke-width="1.2" />
<line x1="571.47" y1="224.20" x2="571.47" y2="228.40" stroke="#333" stroke-width="1.2" />
<text x="571.47" y="239.60" font-family='"Liberation Sans", sans-serif' font-size="10.5" fill="#000" font-weight="bold" text-anchor="middle" textLength="16.65" lengthAdjust="spacingAndGlyphs" >400</text>
<line x1="546.26" y1="224.20" x2="546.26" y2="226.60" stroke="#333" stroke-width="1.2" />
<line x1="521.05" y1="224.20" x2="521.05" y2="228.40" stroke="#333" stroke-width="1.2" />
<text x="521.05" y="239.60" font-family='"Liberation Sans", sans-serif' font-size="10.5" fill="#000" font-weight="bold" text-anchor="middle" textLength="16.65" lengthAdjust="spacingAndGlyphs" >600</text>
<line x1="495.84" y1="224.20" x2="495.84" y2="226.60" stroke="#333" stroke-width="1.2" />
<line x1="470.63" y1="224.20" x2="470.63" y2="228.40" stroke="#333" stroke-width="1.2" />
<text x="470.63" y="239.60" font-family='"Liberation Sans", sans-serif' font-size="10.5" fill="#000" font-weight="bold" text-anchor="middle" textLength="16.65" lengthAdjust="spacingAndGlyphs" >800</text>
<line x1="445.43" y1="224.20" x2="445.43" y2="226.60" stroke="#333" stroke-width="1.2" />
<line x1="420.22" y1="224.20" x2="420.22" y2="228.40" stroke="#333" stroke-width="1.2" />
<text x="420.22" y="239.60" font-family='"Liberation Sans", sans-serif' font-size="10.5" fill="#000" font-weight="bold" text-anchor="middle" textLength="22.2" lengthAdjust="spacingAndGlyphs" >1000</text>
<line x1="395.01" y1="224.20" x2="395.01" y2="226.60" stroke="#333" stroke-width="1.2" />
<line x1="369.80" y1="224.20" x2="369.80" y2="228.40" stroke="#333" stroke-width="1.2" />
<text x="369.80" y="239.60" font-family='"Liberation Sans", sans-serif' font-size="10.5" fill="#000" font-weight="bold" text-anchor="middle" textLength="22.2" lengthAdjust="spacingAndGlyphs" >1200</text>
<text x="338.20" y="20.70" font-family='"Liberation Serif", serif' font-size="23" fill="#000" font-weight="bold" textLength="27.6" lengthAdjust="spacingAndGlyphs" >(b)</text>
<text x="593.90" y="10.90" font-family='"Liberation Sans", sans-serif' font-size="8.2" fill="#000" font-weight="bold" textLength="18.6" lengthAdjust="spacingAndGlyphs" >C 1s</text>
<text x="552.60" y="33.60" font-family='"Liberation Sans", sans-serif' font-size="8.4" fill="#000" font-weight="bold" textLength="25.0" lengthAdjust="spacingAndGlyphs" >Au 4d</text>
<text x="577.20" y="37.40" font-family='"Liberation Sans", sans-serif' font-size="5.6" fill="#000" font-weight="bold" textLength="7.5" lengthAdjust="spacingAndGlyphs" >5/2</text>
<text x="551.90" y="53.10" font-family='"Liberation Sans", sans-serif' font-size="8.4" fill="#000" font-weight="bold" textLength="24.8" lengthAdjust="spacingAndGlyphs" >Au 4d</text>
<text x="577.00" y="56.90" font-family='"Liberation Sans", sans-serif' font-size="5.6" fill="#000" font-weight="bold" textLength="7.0" lengthAdjust="spacingAndGlyphs" >3/2</text>
<text x="549.30" y="72.90" font-family='"Liberation Sans", sans-serif' font-size="8.4" fill="#000" font-weight="bold" textLength="24.8" lengthAdjust="spacingAndGlyphs" >Ag 3d</text>
<text x="573.70" y="76.90" font-family='"Liberation Sans", sans-serif' font-size="5.6" fill="#000" font-weight="bold" textLength="7.7" lengthAdjust="spacingAndGlyphs" >5/2</text>
<text x="529.00" y="87.90" font-family='"Liberation Sans", sans-serif' font-size="8.4" fill="#000" font-weight="bold" textLength="18.5" lengthAdjust="spacingAndGlyphs" >O 1s</text>
<text x="546.40" y="99.20" font-family='"Liberation Sans", sans-serif' font-size="8.4" fill="#000" font-weight="bold" textLength="24.7" lengthAdjust="spacingAndGlyphs" >Ag 3d</text>
<text x="570.50" y="103.00" font-family='"Liberation Sans", sans-serif' font-size="5.6" fill="#000" font-weight="bold" textLength="7.7" lengthAdjust="spacingAndGlyphs" >3/2</text>
<text x="501.00" y="106.50" font-family='"Liberation Sans", sans-serif' font-size="8.4" fill="#000" font-weight="bold" textLength="24.0" lengthAdjust="spacingAndGlyphs" >Au 4p</text>
<text x="524.90" y="109.80" font-family='"Liberation Sans", sans-serif' font-size="5.6" fill="#000" font-weight="bold" textLength="6.9" lengthAdjust="spacingAndGlyphs" >3/2</text>
<text x="498.80" y="126.00" font-family='"Liberation Sans", sans-serif' font-size="8.4" fill="#000" font-weight="bold" textLength="24.2" lengthAdjust="spacingAndGlyphs" >Ag 3p</text>
<text x="522.80" y="129.50" font-family='"Liberation Sans", sans-serif' font-size="5.6" fill="#000" font-weight="bold" textLength="6.9" lengthAdjust="spacingAndGlyphs" >3/2</text>
<text x="415.70" y="148.30" font-family='"Liberation Sans", sans-serif' font-size="8.2" fill="#000" font-weight="bold" textLength="24.8" lengthAdjust="spacingAndGlyphs" >O KL1</text>
<text x="637.90" y="140.50" font-family='"Liberation Sans", sans-serif' font-size="8.4" fill="#000" font-weight="bold" textLength="20.4" lengthAdjust="spacingAndGlyphs" >Au 4f</text>
<text x="658.80" y="144.30" font-family='"Liberation Sans", sans-serif' font-size="5.6" fill="#000" font-weight="bold" textLength="7.8" lengthAdjust="spacingAndGlyphs" >7/2</text>
<text x="626.40" y="182.80" font-family='"Liberation Sans", sans-serif' font-size="8.4" fill="#000" font-weight="bold" textLength="20.2" lengthAdjust="spacingAndGlyphs" >Au5s</text>
<text x="652.60" y="209.50" font-family='"Liberation Sans", sans-serif' font-size="8.4" fill="#000" font-weight="bold" textLength="19.2" lengthAdjust="spacingAndGlyphs" >Ag4p</text>
<text x="468.90" y="253.10" font-family='"Liberation Sans", sans-serif' font-size="10.5" fill="#000" font-weight="bold" textLength="79.0" lengthAdjust="spacingAndGlyphs" >Binding Energy</text>
<text x="553.20" y="253.10" font-family='"Liberation Serif", serif' font-size="10.5" fill="#000" >(</text>
<text x="557.80" y="253.10" font-family='"Liberation Serif", serif' font-size="10.5" fill="#000" font-weight="bold" textLength="14.0" lengthAdjust="spacingAndGlyphs" >eV</text>
<text x="574.40" y="253.10" font-family='"Liberation Serif", serif' font-size="10.5" fill="#000" >)</text>
<text x="356.10" y="164.10" font-family='"Liberation Sans", sans-serif' font-size="11.3" fill="#000" font-weight="bold" textLength="49.3" lengthAdjust="spacingAndGlyphs" transform="rotate(-90 356.10 164.10)" >Intensity</text>
<text x="356.60" y="105.60" font-family='"Liberation Serif", serif' font-size="11.0" fill="#000" transform="rotate(-90 356.60 105.60)" >(</text>
<text x="356.40" y="101.80" font-family='"Liberation Serif", serif' font-size="11.0" fill="#000" textLength="17.2" lengthAdjust="spacingAndGlyphs" transform="rotate(-90 356.40 101.80)" stroke="#000" stroke-width="0.25">a.u.</text>
<text x="356.60" y="81.50" font-family='"Liberation Serif", serif' font-size="11.0" fill="#000" transform="rotate(-90 356.60 81.50)" >)</text>
<path d="M31.80,453.16 L32.30,453.79 L32.80,453.83 L33.30,454.71 L33.80,454.06 L34.30,454.71 L34.80,453.81 L35.30,453.11 L35.80,453.37 L36.30,453.24 L36.80,452.39 L37.30,452.18 L37.80,452.43 L38.30,452.25 L38.80,452.59 L39.30,452.57 L39.80,453.45 L40.30,453.50 L40.80,454.18 L41.30,454.27 L41.80,454.43 L42.30,453.95 L42.80,453.48 L43.30,453.63 L43.80,452.62 L44.30,451.86 L44.80,451.95 L45.30,452.23 L45.80,452.67 L46.30,453.06 L46.80,452.70 L47.30,453.76 L47.80,453.87 L48.30,454.22 L48.80,453.81 L49.30,454.08 L49.80,453.31 L50.30,453.81 L50.80,453.32 L51.30,453.33 L51.80,453.14 L52.30,452.21 L52.80,452.69 L53.30,452.76 L53.80,452.45 L54.30,453.44 L54.80,452.89 L55.30,453.02 L55.80,453.84 L56.30,454.65 L56.80,454.35 L57.30,453.56 L57.80,453.80 L58.30,454.11 L58.80,453.11 L59.30,452.95 L59.80,452.34 L60.30,453.69 L60.80,453.61 L61.30,453.75 L61.80,453.89 L62.30,454.02 L62.80,454.08 L63.30,454.13 L63.80,453.81 L64.30,454.26 L64.80,454.44 L65.30,454.96 L65.80,455.05 L66.30,454.18 L66.80,453.78 L67.30,453.21 L67.80,452.95 L68.30,452.41 L68.80,451.97 L69.30,451.06 L69.80,450.62 L70.30,450.79 L70.80,449.66 L71.30,450.21 L71.80,449.81 L72.30,449.66 L72.80,449.22 L73.30,448.99 L73.80,449.01 L74.30,448.54 L74.80,448.37 L75.30,448.10 L75.80,448.22" fill="none" stroke="#1a1ad0" stroke-width="1.5" stroke-linejoin="round" />
<path d="M74.30,445.92 L74.80,445.96 L75.30,446.00 L75.80,445.68 L76.30,445.39 L76.80,445.48 L77.30,445.53 L77.80,445.30 L78.30,445.06 L78.80,444.86 L79.30,444.70 L79.80,444.61 L80.30,444.47 L80.80,444.28 L81.30,443.97 L81.80,443.36 L82.30,442.84 L82.80,442.76 L83.30,442.81 L83.80,442.64 L84.30,442.25 L84.80,441.85 L85.30,441.45 L85.80,440.78 L86.30,439.88 L86.80,439.14 L87.30,438.63 L87.80,438.25 L88.30,437.82 L88.80,437.32 L89.30,436.91 L89.80,436.59 L90.30,436.01 L90.80,434.86 L91.30,433.51 L91.80,432.63 L92.30,432.09 L92.80,431.45 L93.30,430.76 L93.80,430.26 L94.30,429.87 L94.80,429.15 L95.30,428.06 L95.80,426.92 L96.30,426.04 L96.80,425.60 L97.30,425.12 L97.80,424.04 L98.30,422.61 L98.80,421.48 L99.30,420.82 L99.80,420.22 L100.30,419.33 L100.80,418.20 L101.30,416.86 L101.80,415.37 L102.30,414.13 L102.80,413.38 L103.30,412.87 L103.80,412.41 L104.30,411.99 L104.80,411.27 L105.30,410.06 L105.80,408.95 L106.30,408.27 L106.80,407.77 L107.30,407.28 L107.80,406.55 L108.30,405.45 L108.80,404.21 L109.30,403.26 L109.80,402.74 L110.30,402.31 L110.80,401.78 L111.30,401.12 L111.80,400.24 L112.30,399.37 L112.80,398.80 L113.30,398.59 L113.80,398.52 L114.30,398.28 L114.80,397.88 L115.30,397.50 L115.80,397.18 L116.30,397.01 L116.80,397.00 L117.30,397.12 L117.80,397.37 L118.30,397.74 L118.80,398.20 L119.30,398.61 L119.80,398.88 L120.30,399.12 L120.80,399.38 L121.30,399.65 L121.80,400.02 L122.30,400.41 L122.80,400.89 L123.30,401.81 L123.80,402.89 L124.30,403.61 L124.80,404.13 L125.30,404.66 L125.80,405.17 L126.30,405.81 L126.80,406.75 L127.30,407.82 L127.80,408.57 L128.30,408.97 L128.80,409.41 L129.30,409.97 L129.80,410.61 L130.30,411.55 L130.80,412.68 L131.30,413.64 L131.80,414.14 L132.30,414.28 L132.80,414.53 L133.30,415.03 L133.80,415.48 L134.30,415.64 L134.80,415.40 L135.30,415.04 L135.80,414.95 L136.30,415.21 L136.80,415.72 L137.30,415.98 L137.80,415.59 L138.30,414.73 L138.80,413.96 L139.30,413.48 L139.80,413.01 L140.30,412.54 L140.80,412.15 L141.30,411.41 L141.80,409.98 L142.30,408.34 L142.80,406.98 L143.30,405.67 L143.80,404.00 L144.30,402.27 L144.80,400.77 L145.30,399.18 L145.80,397.29 L146.30,395.29 L146.80,393.36 L147.30,391.39 L147.80,389.13 L148.30,386.71 L148.80,384.31 L149.30,381.98 L149.80,379.62 L150.30,377.19 L150.80,374.93 L151.30,372.83 L151.80,370.39 L152.30,367.34 L152.80,364.01 L153.30,360.68 L153.80,357.43 L154.30,354.43 L154.80,351.79 L155.30,349.30 L155.80,346.75 L156.30,344.29 L156.80,341.81 L157.30,339.07 L157.80,336.23 L158.30,333.45 L158.80,330.68 L159.30,327.92 L159.80,325.37 L160.30,323.34 L160.80,321.59 L161.30,319.66 L161.80,317.61 L162.30,315.66 L162.80,313.66 L163.30,311.59 L163.80,309.91 L164.30,308.82 L164.80,308.09 L165.30,307.42 L165.80,306.58 L166.30,305.83 L166.80,305.66 L167.30,305.88 L167.80,305.93 L168.30,305.92 L168.80,306.31 L169.30,307.02 L169.80,307.95 L170.30,309.20 L170.80,310.72 L171.30,312.31 L171.80,313.73 L172.30,314.70 L172.80,315.33 L173.30,316.27 L173.80,317.81 L174.30,319.53 L174.80,321.10 L175.30,322.56 L175.80,324.15 L176.30,325.80 L176.80,327.24 L177.30,328.52 L177.80,329.86 L178.30,331.28 L178.80,332.86 L179.30,334.34 L179.80,335.55 L180.30,336.87 L180.80,338.58 L181.30,340.52 L181.80,342.30 L182.30,343.63 L182.80,344.71 L183.30,345.88 L183.80,347.41 L184.30,349.36 L184.80,351.39 L185.30,353.32 L185.80,355.25 L186.30,357.00 L186.80,358.31 L187.30,359.39 L187.80,360.62 L188.30,361.92 L188.80,363.01 L189.30,364.05 L189.80,365.24 L190.30,366.33 L190.80,367.33 L191.30,368.57 L191.80,369.86 L192.30,370.90 L192.80,371.79 L193.30,372.50 L193.80,372.80 L194.30,372.92 L194.80,373.48 L195.30,374.58 L195.80,375.83 L196.30,376.98 L196.80,377.92 L197.30,378.50 L197.80,379.05 L198.30,380.12 L198.80,381.52 L199.30,382.82 L199.80,384.09 L200.30,385.50 L200.80,386.88 L201.30,388.07 L201.80,389.06 L202.30,390.03 L202.80,391.16 L203.30,392.57 L203.80,394.18 L204.30,395.85 L204.80,397.51 L205.30,399.01 L205.80,400.27 L206.30,401.36 L206.80,402.46 L207.30,403.70 L207.80,405.01 L208.30,406.34 L208.80,407.60 L209.30,408.53 L209.80,409.16 L210.30,409.86 L210.80,410.74 L211.30,411.61 L211.80,412.20 L212.30,412.39 L212.80,412.55 L213.30,412.95 L213.80,413.31 L214.30,413.31 L214.80,413.05 L215.30,412.95 L215.80,412.97 L216.30,412.85 L216.80,412.79 L217.30,413.08 L217.80,413.33 L218.30,413.06 L218.80,412.40 L219.30,411.76 L219.80,411.35 L220.30,410.99 L220.80,410.41 L221.30,409.66 L221.80,409.03 L222.30,408.53 L222.80,407.76 L223.30,406.56 L223.80,405.15 L224.30,403.63 L224.80,401.82 L225.30,399.52 L225.80,396.93 L226.30,394.33 L226.80,391.82 L227.30,389.29 L227.80,386.79 L228.30,384.22 L228.80,381.29 L229.30,377.92 L229.80,374.24 L230.30,370.58 L230.80,367.14 L231.30,363.63 L231.80,359.88 L232.30,356.22 L232.80,352.75 L233.30,349.25 L233.80,345.62 L234.30,341.93 L234.80,338.14 L235.30,334.27 L235.80,330.40 L236.30,326.72 L236.80,323.44 L237.30,320.42 L237.80,317.38 L238.30,314.30 L238.80,311.37 L239.30,308.60 L239.80,305.84 L240.30,303.16 L240.80,301.11 L241.30,299.61 L241.80,297.81 L242.30,295.72 L242.80,293.99 L243.30,292.63 L243.80,291.42 L244.30,290.37 L244.80,289.72 L245.30,289.57 L245.80,289.75 L246.30,289.90 L246.80,289.87 L247.30,290.13 L247.80,291.11 L248.30,292.61 L248.80,294.15 L249.30,295.44 L249.80,296.91 L250.30,298.96 L250.80,301.42 L251.30,304.03 L251.80,306.73 L252.30,309.59 L252.80,312.74 L253.30,316.21 L253.80,319.74 L254.30,323.28 L254.80,326.99 L255.30,330.76 L255.80,334.41 L256.30,338.10 L256.80,341.92 L257.30,345.61 L257.80,349.17 L258.30,353.05 L258.80,357.25 L259.30,361.38 L259.80,365.49 L260.30,369.58 L260.80,373.37 L261.30,377.09 L261.80,381.09 L262.30,385.14 L262.80,389.18 L263.30,393.32 L263.80,397.29 L264.30,400.81 L264.80,404.06 L265.30,407.59 L265.80,411.33 L266.30,414.56 L266.80,417.21 L267.30,419.74 L267.80,422.39 L268.30,424.85 L268.80,427.10 L269.30,429.66 L269.80,432.39 L270.30,434.95 L270.80,437.35 L271.30,439.41 L271.80,441.31 L272.30,443.39 L272.80,445.46 L273.30,447.26 L273.80,448.72 L274.30,450.04 L274.80,451.59 L275.30,453.30 L275.80,454.89 L276.30,456.41 L276.80,457.60 L277.30,458.25 L277.80,458.87 L278.30,459.79 L278.80,460.76 L279.30,461.66 L279.80,462.49 L280.30,463.11 L280.80,463.51 L281.30,464.03 L281.80,464.73 L282.30,465.39 L282.80,465.97 L283.30,466.38 L283.80,466.53 L284.30,466.67 L284.80,467.03 L285.30,467.38 L285.80,467.55 L286.30,467.79 L286.80,468.24 L287.30,468.67 L287.80,468.90 L288.30,468.99 L288.80,469.03 L289.30,469.11 L289.80,469.24 L290.30,469.35 L290.80,469.55 L291.30,469.96 L291.80,470.43" fill="none" stroke="#000" stroke-width="1.6" stroke-linejoin="round" />
<path d="M282.30,465.05 L282.80,463.96 L283.30,464.99 L283.80,465.37 L284.30,466.70 L284.80,466.97 L285.30,467.27 L285.80,468.44 L286.30,468.84 L286.80,468.90 L287.30,469.41 L287.80,469.30 L288.30,469.45 L288.80,468.59 L289.30,469.02 L289.80,468.96 L290.30,468.22 L290.80,469.73 L291.30,469.12 L291.80,468.87 L292.30,468.88 L292.80,469.37 L293.30,469.85 L293.80,470.42 L294.30,470.13 L294.80,470.44 L295.30,471.41 L295.80,470.47 L296.30,471.51 L296.80,470.54 L297.30,469.80 L297.80,469.70 L298.30,470.34 L298.80,469.65 L299.30,469.14 L299.80,469.99 L300.30,469.89 L300.80,469.76 L301.30,469.92 L301.80,470.14 L302.30,471.04 L302.80,471.48 L303.30,472.02 L303.80,472.09 L304.30,471.84 L304.80,470.80 L305.30,470.84 L305.80,470.93 L306.30,470.35 L306.80,470.22 L307.30,469.85 L307.80,469.95 L308.30,470.37 L308.80,470.38 L309.30,469.98 L309.80,470.66 L310.30,470.77 L310.80,470.93 L311.30,472.09 L311.80,471.89 L312.30,472.78 L312.80,472.06 L313.30,471.80 L313.80,471.16 L314.30,470.77 L314.80,470.99 L315.30,470.30 L315.80,470.88 L316.30,470.64 L316.80,470.73 L317.30,470.67 L317.80,470.57 L318.30,471.67 L318.80,471.39 L319.30,471.90 L319.80,472.41 L320.30,472.12 L320.80,472.08 L321.30,471.64 L321.80,472.26 L322.30,472.19 L322.80,470.96 L323.30,471.38 L323.80,471.43 L324.30,471.25 L324.80,471.00 L325.30,470.52 L325.80,470.47 L326.30,471.05 L326.80,471.82 L327.30,472.48 L327.80,472.74 L328.30,472.44 L328.80,472.72 L329.30,472.38 L329.80,471.73 L330.30,471.89 L330.80,472.19 L331.30,471.77 L331.80,471.25 L332.30,471.02 L332.80,471.73" fill="none" stroke="#1a1ad0" stroke-width="1.5" stroke-linejoin="round" />
<path d="M72.80,446.93 L73.30,446.84 L73.80,446.76 L74.30,446.66 L74.80,446.55 L75.30,446.44 L75.80,446.32 L76.30,446.18 L76.80,446.04 L77.30,445.88 L77.80,445.72 L78.30,445.54 L78.80,445.34 L79.30,445.14 L79.80,444.92 L80.30,444.68 L80.80,444.43 L81.30,444.17 L81.80,443.89 L82.30,443.59 L82.80,443.27 L83.30,442.94 L83.80,442.59 L84.30,442.22 L84.80,441.83 L85.30,441.41 L85.80,440.98 L86.30,440.53 L86.80,440.06 L87.30,439.56 L87.80,439.05 L88.30,438.51 L88.80,437.95 L89.30,437.37 L89.80,436.76 L90.30,436.13 L90.80,435.49 L91.30,434.82 L91.80,434.12 L92.30,433.41 L92.80,432.67 L93.30,431.92 L93.80,431.14 L94.30,430.35 L94.80,429.54 L95.30,428.70 L95.80,427.86 L96.30,426.99 L96.80,426.11 L97.30,425.22 L97.80,424.32 L98.30,423.40 L98.80,422.48 L99.30,421.54 L99.80,420.61 L100.30,419.66 L100.80,418.71 L101.30,417.77 L101.80,416.82 L102.30,415.87 L102.80,414.93 L103.30,414.00 L103.80,413.08 L104.30,412.17 L104.80,411.27 L105.30,410.39 L105.80,409.52 L106.30,408.68 L106.80,407.86 L107.30,407.06 L107.80,406.29 L108.30,405.56 L108.80,404.85 L109.30,404.17 L109.80,403.54 L110.30,402.94 L110.80,402.38 L111.30,401.86 L111.80,401.39 L112.30,400.96 L112.80,400.58 L113.30,400.25 L113.80,399.96 L114.30,399.73 L114.80,399.55 L115.30,399.42 L115.80,399.34 L116.30,399.33 L116.80,399.39 L117.30,399.50 L117.80,399.66 L118.30,399.87 L118.80,400.14 L119.30,400.46 L119.80,400.83 L120.30,401.25 L120.80,401.71 L121.30,402.22 L121.80,402.78 L122.30,403.38 L122.80,404.02 L123.30,404.71 L123.80,405.43 L124.30,406.18 L124.80,406.97 L125.30,407.79 L125.80,408.64 L126.30,409.52 L126.80,410.42 L127.30,411.34 L127.80,412.28 L128.30,413.24 L128.80,414.22 L129.30,415.21 L129.80,416.21 L130.30,417.22 L130.80,418.24 L131.30,419.27 L131.80,420.30 L132.30,421.33 L132.80,422.36 L133.30,423.39 L133.80,424.41 L134.30,425.43 L134.80,426.43 L135.30,427.43 L135.80,428.41 L136.30,429.39 L136.80,430.35 L137.30,431.29 L137.80,432.22 L138.30,433.13 L138.80,434.02 L139.30,434.90 L139.80,435.75 L140.30,436.59 L140.80,437.40 L141.30,438.19 L141.80,438.96 L142.30,439.71 L142.80,440.44 L143.30,441.15 L143.80,441.83 L144.30,442.49 L144.80,443.13 L145.30,443.75 L145.80,444.34 L146.30,444.92 L146.80,445.47 L147.30,446.00 L147.80,446.51 L148.30,447.00 L148.80,447.47 L149.30,447.92 L149.80,448.36 L150.30,448.77 L150.80,449.16 L151.30,449.54 L151.80,449.90 L152.30,450.25 L152.80,450.57 L153.30,450.89 L153.80,451.19 L154.30,451.47 L154.80,451.74 L155.30,452.00 L155.80,452.25 L156.30,452.49 L156.80,452.71 L157.30,452.92 L157.80,453.13 L158.30,453.32 L158.80,453.51 L159.30,453.68 L159.80,453.85 L160.30,454.01 L160.80,454.17 L161.30,454.31 L161.80,454.46 L162.30,454.59 L162.80,454.72 L163.30,454.84 L163.80,454.96 L164.30,455.08 L164.80,455.19 L165.30,455.30 L165.80,455.40 L166.30,455.50 L166.80,455.60 L167.30,455.70 L167.80,455.80" fill="none" stroke="#1818e0" stroke-width="1.15" stroke-linejoin="round" />
<path d="M114.30,450.01 L114.80,450.01 L115.30,450.01 L115.80,450.00 L116.30,450.01 L116.80,450.02 L117.30,450.04 L117.80,450.04 L118.30,450.05 L118.80,450.04 L119.30,450.04 L119.80,450.03 L120.30,450.01 L120.80,449.98 L121.30,449.95 L121.80,449.91 L122.30,449.86 L122.80,449.80 L123.30,449.73 L123.80,449.65 L124.30,449.56 L124.80,449.45 L125.30,449.33 L125.80,449.19 L126.30,449.03 L126.80,448.85 L127.30,448.66 L127.80,448.44 L128.30,448.20 L128.80,447.93 L129.30,447.63 L129.80,447.31 L130.30,446.96 L130.80,446.57 L131.30,446.16 L131.80,445.70 L132.30,445.21 L132.80,444.67 L133.30,444.08 L133.80,443.45 L134.30,442.77 L134.80,442.04 L135.30,441.25 L135.80,440.41 L136.30,439.51 L136.80,438.54 L137.30,437.51 L137.80,436.42 L138.30,435.25 L138.80,434.02 L139.30,432.71 L139.80,431.33 L140.30,429.87 L140.80,428.33 L141.30,426.72 L141.80,425.03 L142.30,423.25 L142.80,421.40 L143.30,419.46 L143.80,417.44 L144.30,415.34 L144.80,413.17 L145.30,410.91 L145.80,408.58 L146.30,406.17 L146.80,403.69 L147.30,401.14 L147.80,398.53 L148.30,395.85 L148.80,393.11 L149.30,390.32 L149.80,387.48 L150.30,384.60 L150.80,381.68 L151.30,378.73 L151.80,375.76 L152.30,372.77 L152.80,369.77 L153.30,366.77 L153.80,363.78 L154.30,360.80 L154.80,357.84 L155.30,354.92 L155.80,352.04 L156.30,349.21 L156.80,346.44 L157.30,343.74 L157.80,341.12 L158.30,338.59 L158.80,336.16 L159.30,333.83 L159.80,331.62 L160.30,329.54 L160.80,327.59 L161.30,325.78 L161.80,324.12 L162.30,322.61 L162.80,321.27 L163.30,320.09 L163.80,319.09 L164.30,318.27 L164.80,317.63 L165.30,317.18 L165.80,316.91 L166.30,316.84 L166.80,316.96 L167.30,317.27 L167.80,317.76 L168.30,318.44 L168.80,319.31 L169.30,320.36 L169.80,321.58 L170.30,322.97 L170.80,324.53 L171.30,326.24 L171.80,328.11 L172.30,330.12 L172.80,332.27 L173.30,334.55 L173.80,336.95 L174.30,339.46 L174.80,342.07 L175.30,344.77 L175.80,347.55 L176.30,350.41 L176.80,353.34 L177.30,356.31 L177.80,359.34 L178.30,362.40 L178.80,365.49 L179.30,368.59 L179.80,371.71 L180.30,374.83 L180.80,377.94 L181.30,381.03 L181.80,384.11 L182.30,387.15 L182.80,390.17 L183.30,393.14 L183.80,396.06 L184.30,398.94 L184.80,401.76 L185.30,404.51 L185.80,407.21 L186.30,409.83 L186.80,412.38 L187.30,414.86 L187.80,417.26 L188.30,419.59 L188.80,421.84 L189.30,424.00 L189.80,426.09 L190.30,428.09 L190.80,430.02 L191.30,431.86 L191.80,433.62 L192.30,435.31 L192.80,436.91 L193.30,438.44 L193.80,439.89 L194.30,441.27 L194.80,442.58 L195.30,443.82 L195.80,444.99 L196.30,446.10 L196.80,447.14 L197.30,448.13 L197.80,449.07 L198.30,449.95 L198.80,450.78 L199.30,451.55 L199.80,452.28 L200.30,452.97 L200.80,453.61 L201.30,454.20 L201.80,454.76 L202.30,455.29 L202.80,455.78 L203.30,456.23 L203.80,456.66 L204.30,457.06 L204.80,457.43 L205.30,457.78 L205.80,458.10 L206.30,458.40 L206.80,458.69 L207.30,458.95 L207.80,459.20 L208.30,459.44 L208.80,459.65 L209.30,459.86 L209.80,460.05 L210.30,460.24 L210.80,460.41 L211.30,460.57 L211.80,460.73 L212.30,460.87 L212.80,461.01 L213.30,461.15 L213.80,461.28 L214.30,461.40 L214.80,461.52 L215.30,461.63 L215.80,461.75 L216.30,461.87 L216.80,461.98 L217.30,462.08 L217.80,462.19 L218.30,462.29" fill="none" stroke="#e01b1b" stroke-width="1.15" stroke-linejoin="round" />
<path d="M131.30,451.64 L131.80,451.69 L132.30,451.73 L132.80,451.78 L133.30,451.83 L133.80,451.87 L134.30,451.92 L134.80,451.97 L135.30,452.01 L135.80,452.06 L136.30,452.10 L136.80,452.14 L137.30,452.19 L137.80,452.23 L138.30,452.28 L138.80,452.32 L139.30,452.36 L139.80,452.40 L140.30,452.45 L140.80,452.49 L141.30,452.53 L141.80,452.57 L142.30,452.61 L142.80,452.65 L143.30,452.68 L143.80,452.72 L144.30,452.76 L144.80,452.79 L145.30,452.83 L145.80,452.86 L146.30,452.90 L146.80,452.93 L147.30,452.96 L147.80,452.99 L148.30,453.02 L148.80,453.04 L149.30,453.07 L149.80,453.09 L150.30,453.11 L150.80,453.12 L151.30,453.14 L151.80,453.15 L152.30,453.16 L152.80,453.16 L153.30,453.17 L153.80,453.16 L154.30,453.16 L154.80,453.14 L155.30,453.13 L155.80,453.11 L156.30,453.08 L156.80,453.04 L157.30,453.00 L157.80,452.95 L158.30,452.90 L158.80,452.83 L159.30,452.76 L159.80,452.67 L160.30,452.57 L160.80,452.46 L161.30,452.34 L161.80,452.20 L162.30,452.05 L162.80,451.89 L163.30,451.71 L163.80,451.50 L164.30,451.29 L164.80,451.05 L165.30,450.79 L165.80,450.50 L166.30,450.20 L166.80,449.87 L167.30,449.52 L167.80,449.14 L168.30,448.73 L168.80,448.30 L169.30,447.83 L169.80,447.33 L170.30,446.80 L170.80,446.23 L171.30,445.63 L171.80,444.99 L172.30,444.32 L172.80,443.61 L173.30,442.86 L173.80,442.07 L174.30,441.24 L174.80,440.38 L175.30,439.47 L175.80,438.52 L176.30,437.54 L176.80,436.52 L177.30,435.45 L177.80,434.35 L178.30,433.22 L178.80,432.04 L179.30,430.84 L179.80,429.60 L180.30,428.33 L180.80,427.02 L181.30,425.70 L181.80,424.34 L182.30,422.97 L182.80,421.57 L183.30,420.17 L183.80,418.74 L184.30,417.31 L184.80,415.88 L185.30,414.44 L185.80,413.01 L186.30,411.59 L186.80,410.18 L187.30,408.78 L187.80,407.41 L188.30,406.07 L188.80,404.76 L189.30,403.48 L189.80,402.25 L190.30,401.07 L190.80,399.95 L191.30,398.88 L191.80,397.88 L192.30,396.95 L192.80,396.10 L193.30,395.33 L193.80,394.64 L194.30,394.04 L194.80,393.54 L195.30,393.14 L195.80,392.83 L196.30,392.63 L196.80,392.53 L197.30,392.54 L197.80,392.66 L198.30,392.89 L198.80,393.22 L199.30,393.66 L199.80,394.19 L200.30,394.82 L200.80,395.54 L201.30,396.36 L201.80,397.26 L202.30,398.24 L202.80,399.30 L203.30,400.43 L203.80,401.62 L204.30,402.87 L204.80,404.18 L205.30,405.54 L205.80,406.94 L206.30,408.38 L206.80,409.85 L207.30,411.35 L207.80,412.88 L208.30,414.42 L208.80,415.97 L209.30,417.53 L209.80,419.09 L210.30,420.66 L210.80,422.21 L211.30,423.76 L211.80,425.30 L212.30,426.82 L212.80,428.33 L213.30,429.81 L213.80,431.26 L214.30,432.69 L214.80,434.09 L215.30,435.47 L215.80,436.81 L216.30,438.12 L216.80,439.40 L217.30,440.63 L217.80,441.83 L218.30,443.00 L218.80,444.12 L219.30,445.20 L219.80,446.24 L220.30,447.25 L220.80,448.21 L221.30,449.14 L221.80,450.02 L222.30,450.87 L222.80,451.68 L223.30,452.46 L223.80,453.20 L224.30,453.90 L224.80,454.57 L225.30,455.21 L225.80,455.81 L226.30,456.39 L226.80,456.93 L227.30,457.45 L227.80,457.94 L228.30,458.40 L228.80,458.84 L229.30,459.26 L229.80,459.65 L230.30,460.02 L230.80,460.37 L231.30,460.70 L231.80,461.01 L232.30,461.31 L232.80,461.59 L233.30,461.85 L233.80,462.10 L234.30,462.34 L234.80,462.57 L235.30,462.79 L235.80,462.99 L236.30,463.19 L236.80,463.37 L237.30,463.55 L237.80,463.72 L238.30,463.89 L238.80,464.04 L239.30,464.20 L239.80,464.34 L240.30,464.48 L240.80,464.62 L241.30,464.75 L241.80,464.88 L242.30,465.00 L242.80,465.12 L243.30,465.24 L243.80,465.36 L244.30,465.47 L244.80,465.58 L245.30,465.69 L245.80,465.79 L246.30,465.88 L246.80,465.98 L247.30,466.08 L247.80,466.17 L248.30,466.26 L248.80,466.35 L249.30,466.44 L249.80,466.53 L250.30,466.62 L250.80,466.71 L251.30,466.79 L251.80,466.88 L252.30,466.97 L252.80,467.05 L253.30,467.13 L253.80,467.22 L254.30,467.30 L254.80,467.38 L255.30,467.47 L255.80,467.55 L256.30,467.63 L256.80,467.71 L257.30,467.79 L257.80,467.87 L258.30,467.95 L258.80,468.03 L259.30,468.11 L259.80,468.19 L260.30,468.26 L260.80,468.32 L261.30,468.39 L261.80,468.45 L262.30,468.51 L262.80,468.58 L263.30,468.64" fill="none" stroke="#1818e0" stroke-width="1.15" stroke-linejoin="round" />
<path d="M73.30,448.62 L73.80,448.64 L74.30,448.67 L74.80,448.69 L75.30,448.72 L75.80,448.75 L76.30,448.77 L76.80,448.80 L77.30,448.82 L77.80,448.85 L78.30,448.87 L78.80,448.90 L79.30,448.93 L79.80,448.95 L80.30,448.98 L80.80,449.00 L81.30,449.03 L81.80,449.06 L82.30,449.08 L82.80,449.11 L83.30,449.13 L83.80,449.16 L84.30,449.19 L84.80,449.21 L85.30,449.24 L85.80,449.26 L86.30,449.29 L86.80,449.32 L87.30,449.34 L87.80,449.37 L88.30,449.39 L88.80,449.42 L89.30,449.45 L89.80,449.47 L90.30,449.50 L90.80,449.52 L91.30,449.55 L91.80,449.57 L92.30,449.60 L92.80,449.63 L93.30,449.65 L93.80,449.68 L94.30,449.70 L94.80,449.73 L95.30,449.76 L95.80,449.78 L96.30,449.81 L96.80,449.83 L97.30,449.86 L97.80,449.89 L98.30,449.91 L98.80,449.94 L99.30,449.96 L99.80,449.99 L100.30,450.01 L100.80,450.04 L101.30,450.06 L101.80,450.09 L102.30,450.11 L102.80,450.14 L103.30,450.16 L103.80,450.19 L104.30,450.21 L104.80,450.24 L105.30,450.26 L105.80,450.29 L106.30,450.31 L106.80,450.34 L107.30,450.36 L107.80,450.39 L108.30,450.41 L108.80,450.44 L109.30,450.46 L109.80,450.49 L110.30,450.51 L110.80,450.54 L111.30,450.56 L111.80,450.59 L112.30,450.61 L112.80,450.64 L113.30,450.66 L113.80,450.69 L114.30,450.71 L114.80,450.74 L115.30,450.76 L115.80,450.79 L116.30,450.83 L116.80,450.88 L117.30,450.93 L117.80,450.98 L118.30,451.03 L118.80,451.08 L119.30,451.13 L119.80,451.18 L120.30,451.23 L120.80,451.28 L121.30,451.33 L121.80,451.38 L122.30,451.43 L122.80,451.48 L123.30,451.53 L123.80,451.58 L124.30,451.63 L124.80,451.68 L125.30,451.73 L125.80,451.78 L126.30,451.83 L126.80,451.88 L127.30,451.93 L127.80,451.98 L128.30,452.03 L128.80,452.08 L129.30,452.13 L129.80,452.18 L130.30,452.23 L130.80,452.29 L131.30,452.35 L131.80,452.41 L132.30,452.46 L132.80,452.52 L133.30,452.58 L133.80,452.64 L134.30,452.69 L134.80,452.75 L135.30,452.81 L135.80,452.87 L136.30,452.92 L136.80,452.98 L137.30,453.04 L137.80,453.10 L138.30,453.15 L138.80,453.21 L139.30,453.27 L139.80,453.33 L140.30,453.38 L140.80,453.44 L141.30,453.50 L141.80,453.56 L142.30,453.61 L142.80,453.67 L143.30,453.73 L143.80,453.79 L144.30,453.84 L144.80,453.90 L145.30,453.96 L145.80,454.02 L146.30,454.07 L146.80,454.13 L147.30,454.19 L147.80,454.25 L148.30,454.30 L148.80,454.36 L149.30,454.42 L149.80,454.48 L150.30,454.53 L150.80,454.59 L151.30,454.65 L151.80,454.70 L152.30,454.76 L152.80,454.81 L153.30,454.87 L153.80,454.93 L154.30,454.98 L154.80,455.04 L155.30,455.10 L155.80,455.15 L156.30,455.21 L156.80,455.26 L157.30,455.32 L157.80,455.38 L158.30,455.43 L158.80,455.49 L159.30,455.55 L159.80,455.60 L160.30,455.66 L160.80,455.71 L161.30,455.77 L161.80,455.83 L162.30,455.88 L162.80,455.94 L163.30,456.00 L163.80,456.05 L164.30,456.11 L164.80,456.16 L165.30,456.22 L165.80,456.28 L166.30,456.34 L166.80,456.40 L167.30,456.46 L167.80,456.52 L168.30,456.58 L168.80,456.64 L169.30,456.70 L169.80,456.76 L170.30,456.82 L170.80,456.88 L171.30,456.94 L171.80,457.00 L172.30,457.06 L172.80,457.13 L173.30,457.19 L173.80,457.25 L174.30,457.31 L174.80,457.37 L175.30,457.43 L175.80,457.49 L176.30,457.55 L176.80,457.61 L177.30,457.67 L177.80,457.73 L178.30,457.79 L178.80,457.85 L179.30,457.91 L179.80,457.98 L180.30,458.04 L180.80,458.09 L181.30,458.15 L181.80,458.21 L182.30,458.27 L182.80,458.33 L183.30,458.39 L183.80,458.45 L184.30,458.51 L184.80,458.56 L185.30,458.62 L185.80,458.68 L186.30,458.74 L186.80,458.80 L187.30,458.86 L187.80,458.92 L188.30,458.98 L188.80,459.04 L189.30,459.09 L189.80,459.15 L190.30,459.21 L190.80,459.27 L191.30,459.33 L191.80,459.39 L192.30,459.45 L192.80,459.51 L193.30,459.56 L193.80,459.62 L194.30,459.68 L194.80,459.74 L195.30,459.80 L195.80,459.86 L196.30,459.92 L196.80,459.98 L197.30,460.04 L197.80,460.11 L198.30,460.18 L198.80,460.25 L199.30,460.32 L199.80,460.39 L200.30,460.46 L200.80,460.53 L201.30,460.60 L201.80,460.67 L202.30,460.74 L202.80,460.81 L203.30,460.87 L203.80,460.94 L204.30,461.01 L204.80,461.08 L205.30,461.15 L205.80,461.22 L206.30,461.29 L206.80,461.36 L207.30,461.43 L207.80,461.50 L208.30,461.57 L208.80,461.64 L209.30,461.71 L209.80,461.78 L210.30,461.85 L210.80,461.92 L211.30,461.99 L211.80,462.06 L212.30,462.12 L212.80,462.19 L213.30,462.26 L213.80,462.33 L214.30,462.40 L214.80,462.47 L215.30,462.55 L215.80,462.62 L216.30,462.70 L216.80,462.78 L217.30,462.85 L217.80,462.93 L218.30,463.01 L218.80,463.08 L219.30,463.16 L219.80,463.24 L220.30,463.31 L220.80,463.39 L221.30,463.47 L221.80,463.54 L222.30,463.62 L222.80,463.70 L223.30,463.77 L223.80,463.85 L224.30,463.93 L224.80,464.00 L225.30,464.08 L225.80,464.16 L226.30,464.23 L226.80,464.31 L227.30,464.39 L227.80,464.46 L228.30,464.54 L228.80,464.62 L229.30,464.69 L229.80,464.77 L230.30,464.84 L230.80,464.92 L231.30,464.99 L231.80,465.06 L232.30,465.14 L232.80,465.21 L233.30,465.28 L233.80,465.36 L234.30,465.43 L234.80,465.50 L235.30,465.58 L235.80,465.65 L236.30,465.72 L236.80,465.80 L237.30,465.87 L237.80,465.94 L238.30,466.02 L238.80,466.09 L239.30,466.16 L239.80,466.24 L240.30,466.31 L240.80,466.38 L241.30,466.46 L241.80,466.53 L242.30,466.60 L242.80,466.68 L243.30,466.75 L243.80,466.82 L244.30,466.90 L244.80,466.97 L245.30,467.04 L245.80,467.11 L246.30,467.17 L246.80,467.24 L247.30,467.31 L247.80,467.37 L248.30,467.44 L248.80,467.51 L249.30,467.57 L249.80,467.64 L250.30,467.71 L250.80,467.77 L251.30,467.84 L251.80,467.91 L252.30,467.97 L252.80,468.04 L253.30,468.11 L253.80,468.17 L254.30,468.24 L254.80,468.31 L255.30,468.37 L255.80,468.44 L256.30,468.51 L256.80,468.57 L257.30,468.64 L257.80,468.71 L258.30,468.77 L258.80,468.84 L259.30,468.91 L259.80,468.97 L260.30,469.03 L260.80,469.09 L261.30,469.14 L261.80,469.19 L262.30,469.25 L262.80,469.30 L263.30,469.35 L263.80,469.41 L264.30,469.46 L264.80,469.51 L265.30,469.57 L265.80,469.62 L266.30,469.67 L266.80,469.73 L267.30,469.78 L267.80,469.83 L268.30,469.89 L268.80,469.94 L269.30,469.99 L269.80,470.05 L270.30,470.10 L270.80,470.15 L271.30,470.21 L271.80,470.26 L272.30,470.31 L272.80,470.37 L273.30,470.42 L273.80,470.47 L274.30,470.53 L274.80,470.58 L275.30,470.62 L275.80,470.64 L276.30,470.67 L276.80,470.70 L277.30,470.72 L277.80,470.75 L278.30,470.78 L278.80,470.80 L279.30,470.83 L279.80,470.86 L280.30,470.88 L280.80,470.91 L281.30,470.94 L281.80,470.96 L282.30,470.99 L282.80,471.02 L283.30,471.04 L283.80,471.07 L284.30,471.10 L284.80,471.12 L285.30,471.15 L285.80,471.18 L286.30,471.20 L286.80,471.23 L287.30,471.26 L287.80,471.28 L288.30,471.31 L288.80,471.34 L289.30,471.36 L289.80,471.39 L290.30,471.41 L290.80,471.42 L291.30,471.43 L291.80,471.44 L292.30,471.45 L292.80,471.46 L293.30,471.47 L293.80,471.48 L294.30,471.49 L294.80,471.50 L295.30,471.51 L295.80,471.52 L296.30,471.53 L296.80,471.54 L297.30,471.55 L297.80,471.56 L298.30,471.57 L298.80,471.58 L299.30,471.59 L299.80,471.60 L300.30,471.61 L300.80,471.62 L301.30,471.63 L301.80,471.64 L302.30,471.65 L302.80,471.66 L303.30,471.67 L303.80,471.68 L304.30,471.69 L304.80,471.70 L305.30,471.71 L305.80,471.72 L306.30,471.73 L306.80,471.74 L307.30,471.75 L307.80,471.76 L308.30,471.77 L308.80,471.78 L309.30,471.79 L309.80,471.80 L310.30,471.82 L310.80,471.83 L311.30,471.84 L311.80,471.85 L312.30,471.86 L312.80,471.87 L313.30,471.88 L313.80,471.89 L314.30,471.90 L314.80,471.91 L315.30,471.92 L315.80,471.93 L316.30,471.94 L316.80,471.95 L317.30,471.96 L317.80,471.97 L318.30,471.98 L318.80,471.99 L319.30,472.00 L319.80,472.01 L320.30,472.02 L320.80,472.03 L321.30,472.04 L321.80,472.05 L322.30,472.06 L322.80,472.07 L323.30,472.08 L323.80,472.09 L324.30,472.10 L324.80,472.11 L325.30,472.12 L325.80,472.13 L326.30,472.14 L326.80,472.15 L327.30,472.16 L327.80,472.17 L328.30,472.18 L328.80,472.19 L329.30,472.20 L329.80,472.21 L330.30,472.22 L330.80,472.23 L331.30,472.24 L331.80,472.25 L332.30,472.27 L332.80,472.28" fill="none" stroke="#1818e0" stroke-width="1.25" stroke-linejoin="round" />
<path d="M189.30,458.39 L189.80,458.43 L190.30,458.47 L190.80,458.51 L191.30,458.55 L191.80,458.59 L192.30,458.63 L192.80,458.66 L193.30,458.69 L193.80,458.72 L194.30,458.74 L194.80,458.77 L195.30,458.79 L195.80,458.80 L196.30,458.82 L196.80,458.83 L197.30,458.84 L197.80,458.84 L198.30,458.85 L198.80,458.84 L199.30,458.83 L199.80,458.81 L200.30,458.78 L200.80,458.75 L201.30,458.70 L201.80,458.64 L202.30,458.57 L202.80,458.48 L203.30,458.38 L203.80,458.26 L204.30,458.13 L204.80,457.97 L205.30,457.80 L205.80,457.60 L206.30,457.38 L206.80,457.13 L207.30,456.85 L207.80,456.54 L208.30,456.20 L208.80,455.83 L209.30,455.41 L209.80,454.96 L210.30,454.46 L210.80,453.92 L211.30,453.33 L211.80,452.69 L212.30,451.99 L212.80,451.24 L213.30,450.43 L213.80,449.55 L214.30,448.61 L214.80,447.60 L215.30,446.52 L215.80,445.37 L216.30,444.14 L216.80,442.83 L217.30,441.44 L217.80,439.95 L218.30,438.38 L218.80,436.72 L219.30,434.96 L219.80,433.11 L220.30,431.16 L220.80,429.11 L221.30,426.96 L221.80,424.71 L222.30,422.36 L222.80,419.90 L223.30,417.35 L223.80,414.69 L224.30,411.93 L224.80,409.08 L225.30,406.13 L225.80,403.08 L226.30,399.95 L226.80,396.72 L227.30,393.42 L227.80,390.04 L228.30,386.59 L228.80,383.07 L229.30,379.49 L229.80,375.85 L230.30,372.17 L230.80,368.45 L231.30,364.70 L231.80,360.93 L232.30,357.15 L232.80,353.37 L233.30,349.60 L233.80,345.85 L234.30,342.13 L234.80,338.45 L235.30,334.83 L235.80,331.27 L236.30,327.79 L236.80,324.39 L237.30,321.10 L237.80,317.92 L238.30,314.86 L238.80,311.94 L239.30,309.17 L239.80,306.55 L240.30,304.10 L240.80,301.83 L241.30,299.74 L241.80,297.85 L242.30,296.17 L242.80,294.70 L243.30,293.44 L243.80,292.41 L244.30,291.61 L244.80,291.05 L245.30,290.71 L245.80,290.61 L246.30,290.75 L246.80,291.13 L247.30,291.74 L247.80,292.59 L248.30,293.66 L248.80,294.97 L249.30,296.49 L249.80,298.23 L250.30,300.18 L250.80,302.33 L251.30,304.67 L251.80,307.19 L252.30,309.88 L252.80,312.73 L253.30,315.74 L253.80,318.88 L254.30,322.15 L254.80,325.54 L255.30,329.04 L255.80,332.63 L256.30,336.30 L256.80,340.04 L257.30,343.83 L257.80,347.68 L258.30,351.56 L258.80,355.46 L259.30,359.38 L259.80,363.30 L260.30,367.21 L260.80,371.09 L261.30,374.95 L261.80,378.78 L262.30,382.56 L262.80,386.29 L263.30,389.97 L263.80,393.58 L264.30,397.12 L264.80,400.59 L265.30,403.97 L265.80,407.27 L266.30,410.48 L266.80,413.60 L267.30,416.62 L267.80,419.55 L268.30,422.38 L268.80,425.10 L269.30,427.73 L269.80,430.25 L270.30,432.67 L270.80,434.99 L271.30,437.21 L271.80,439.33 L272.30,441.36 L272.80,443.28 L273.30,445.11 L273.80,446.85 L274.30,448.50 L274.80,450.06 L275.30,451.51 L275.80,452.88 L276.30,454.16 L276.80,455.37 L277.30,456.51 L277.80,457.57 L278.30,458.57 L278.80,459.50 L279.30,460.38 L279.80,461.19 L280.30,461.95 L280.80,462.66 L281.30,463.31 L281.80,463.92 L282.30,464.49 L282.80,465.01 L283.30,465.50 L283.80,465.95 L284.30,466.37 L284.80,466.75 L285.30,467.11 L285.80,467.44 L286.30,467.74 L286.80,468.02 L287.30,468.28 L287.80,468.52 L288.30,468.74 L288.80,468.95 L289.30,469.13 L289.80,469.31 L290.30,469.46 L290.80,469.59 L291.30,469.71 L291.80,469.82 L292.30,469.92 L292.80,470.02 L293.30,470.11 L293.80,470.18 L294.30,470.26 L294.80,470.33 L295.30,470.39 L295.80,470.45 L296.30,470.50 L296.80,470.55 L297.30,470.60 L297.80,470.64 L298.30,470.68 L298.80,470.72 L299.30,470.76 L299.80,470.79 L300.30,470.83 L300.80,470.86 L301.30,470.89 L301.80,470.92 L302.30,470.94" fill="none" stroke="#e01b1b" stroke-width="1.15" stroke-linejoin="round" />
<line x1="116.50" y1="361.60" x2="116.50" y2="487.60" stroke="#2a2ae0" stroke-width="0.9" stroke-dasharray="1,1.6"/>
<line x1="166.50" y1="293.00" x2="166.50" y2="487.60" stroke="#e02a2a" stroke-width="0.9" stroke-dasharray="1,1.6"/>
<line x1="198.20" y1="363.40" x2="198.20" y2="487.60" stroke="#2a2ae0" stroke-width="0.9" stroke-dasharray="1,1.6"/>
<line x1="245.70" y1="289.00" x2="245.70" y2="487.60" stroke="#e02a2a" stroke-width="0.9" stroke-dasharray="1,1.6"/>
<rect x="31.3" y="267.8" width="302.10" height="219.80" fill="none" stroke="#333" stroke-width="1.4"/>
<line x1="31.30" y1="487.60" x2="31.30" y2="492.10" stroke="#333" stroke-width="1.2" />
<text x="31.30" y="503.10" font-family='"Liberation Sans", sans-serif' font-size="9.8" fill="#000" font-weight="bold" text-anchor="middle" textLength="11.0" lengthAdjust="spacingAndGlyphs" >94</text>
<line x1="52.88" y1="487.60" x2="52.88" y2="490.10" stroke="#333" stroke-width="1.2" />
<line x1="74.46" y1="487.60" x2="74.46" y2="492.10" stroke="#333" stroke-width="1.2" />
<text x="74.46" y="503.10" font-family='"Liberation Sans", sans-serif' font-size="9.8" fill="#000" font-weight="bold" text-anchor="middle" textLength="11.0" lengthAdjust="spacingAndGlyphs" >92</text>
<line x1="96.04" y1="487.60" x2="96.04" y2="490.10" stroke="#333" stroke-width="1.2" />
<line x1="117.61" y1="487.60" x2="117.61" y2="492.10" stroke="#333" stroke-width="1.2" />
<text x="117.61" y="503.10" font-family='"Liberation Sans", sans-serif' font-size="9.8" fill="#000" font-weight="bold" text-anchor="middle" textLength="11.0" lengthAdjust="spacingAndGlyphs" >90</text>
<line x1="139.19" y1="487.60" x2="139.19" y2="490.10" stroke="#333" stroke-width="1.2" />
<line x1="160.77" y1="487.60" x2="160.77" y2="492.10" stroke="#333" stroke-width="1.2" />
<text x="160.77" y="503.10" font-family='"Liberation Sans", sans-serif' font-size="9.8" fill="#000" font-weight="bold" text-anchor="middle" textLength="11.0" lengthAdjust="spacingAndGlyphs" >88</text>
<line x1="182.35" y1="487.60" x2="182.35" y2="490.10" stroke="#333" stroke-width="1.2" />
<line x1="203.93" y1="487.60" x2="203.93" y2="492.10" stroke="#333" stroke-width="1.2" />
<text x="203.93" y="503.10" font-family='"Liberation Sans", sans-serif' font-size="9.8" fill="#000" font-weight="bold" text-anchor="middle" textLength="11.0" lengthAdjust="spacingAndGlyphs" >86</text>
<line x1="225.51" y1="487.60" x2="225.51" y2="490.10" stroke="#333" stroke-width="1.2" />
<line x1="247.09" y1="487.60" x2="247.09" y2="492.10" stroke="#333" stroke-width="1.2" />
<text x="247.09" y="503.10" font-family='"Liberation Sans", sans-serif' font-size="9.8" fill="#000" font-weight="bold" text-anchor="middle" textLength="11.0" lengthAdjust="spacingAndGlyphs" >84</text>
<line x1="268.66" y1="487.60" x2="268.66" y2="490.10" stroke="#333" stroke-width="1.2" />
<line x1="290.24" y1="487.60" x2="290.24" y2="492.10" stroke="#333" stroke-width="1.2" />
<text x="290.24" y="503.10" font-family='"Liberation Sans", sans-serif' font-size="9.8" fill="#000" font-weight="bold" text-anchor="middle" textLength="11.0" lengthAdjust="spacingAndGlyphs" >82</text>
<line x1="311.82" y1="487.60" x2="311.82" y2="490.10" stroke="#333" stroke-width="1.2" />
<line x1="333.40" y1="487.60" x2="333.40" y2="492.10" stroke="#333" stroke-width="1.2" />
<text x="333.40" y="503.10" font-family='"Liberation Sans", sans-serif' font-size="9.8" fill="#000" font-weight="bold" text-anchor="middle" textLength="11.0" lengthAdjust="spacingAndGlyphs" >80</text>
<text x="3.80" y="289.30" font-family='"Liberation Serif", serif' font-size="23" fill="#000" font-weight="bold" textLength="24.9" lengthAdjust="spacingAndGlyphs" >(c)</text>
<line x1="39.70" y1="284.30" x2="73.00" y2="284.30" stroke="#000" stroke-width="2.7" />
<text x="75.90" y="290.80" font-family='"Liberation Serif", serif' font-size="13" fill="#000" textLength="34.0" lengthAdjust="spacingAndGlyphs" stroke="#000" stroke-width="0.35">Au 4f</text>
<text x="157.00" y="285.30" font-family='"Liberation Sans", sans-serif' font-size="11.6" fill="#e0202a" font-weight="bold" textLength="16.0" lengthAdjust="spacingAndGlyphs" >Au</text>
<text x="236.90" y="283.40" font-family='"Liberation Sans", sans-serif' font-size="11.6" fill="#e0202a" font-weight="bold" textLength="16.0" lengthAdjust="spacingAndGlyphs" >Au</text>
<text x="107.10" y="352.80" font-family='"Liberation Sans", sans-serif' font-size="10.4" fill="#2828d0" font-weight="bold" textLength="15.4" lengthAdjust="spacingAndGlyphs" >Au</text>
<text x="123.00" y="346.20" font-family='"Liberation Sans", sans-serif' font-size="7.5" fill="#2828d0" font-weight="bold" textLength="10.0" lengthAdjust="spacingAndGlyphs" >3+</text>
<text x="190.40" y="355.10" font-family='"Liberation Sans", sans-serif' font-size="10.4" fill="#2828d0" font-weight="bold" textLength="15.4" lengthAdjust="spacingAndGlyphs" >Au</text>
<text x="206.50" y="348.70" font-family='"Liberation Sans", sans-serif' font-size="7.5" fill="#2828d0" font-weight="bold" textLength="10.0" lengthAdjust="spacingAndGlyphs" >3+</text>
<text x="127.60" y="516.50" font-family='"Liberation Sans", sans-serif' font-size="12.0" fill="#000" font-weight="bold" textLength="110.5" lengthAdjust="spacingAndGlyphs" >Binding Energy (eV)</text>
<text x="19.40" y="424.80" font-family='"Liberation Sans", sans-serif' font-size="12.7" fill="#000" font-weight="bold" textLength="86.5" lengthAdjust="spacingAndGlyphs" transform="rotate(-90 19.40 424.80)" >Intensity (a.u.)</text>
<line x1="477.00" y1="312.20" x2="477.00" y2="484.60" stroke="#e83030" stroke-width="1.3" stroke-dasharray="3,2.2"/>
<line x1="591.00" y1="290.00" x2="591.00" y2="484.60" stroke="#e83030" stroke-width="1.3" stroke-dasharray="3,2.2"/>
<path d="M373.80,429.10 L375.40,428.80 L377.40,432.20 L380.90,462.10 L384.30,427.60 L390.40,467.40 L392.70,442.90 L395.00,439.80 L398.00,442.90 L399.90,430.70 L401.90,442.90 L403.40,437.50 L405.40,441.40 L407.60,424.50 L409.50,438.30 L411.50,439.10 L413.10,433.00 L415.20,435.20 L416.90,444.40 L418.40,433.00 L420.70,445.20 L422.90,430.70 L424.90,442.90 L426.90,426.80 L428.70,429.90 L430.20,424.50 L432.10,432.20 L434.10,412.60 L436.10,415.30 L437.60,413.50 L439.40,418.40 L441.70,436.80 L444.00,426.10 L445.60,422.20 L447.40,425.30 L448.90,416.10 L450.80,422.80 L452.70,420.50 L455.70,410.60 L458.50,388.40 L460.30,384.50 L462.60,399.80 L464.20,390.70 L466.10,366.10 L468.00,363.50 L469.50,352.80 L471.80,347.50 L474.10,343.60 L477.20,316.40 L479.50,329.80 L481.80,348.20 L483.30,355.90 L484.80,379.90 L487.10,380.70 L488.70,368.40 L491.00,400.60 L493.80,416.90 L496.10,419.90 L498.40,433.70 L500.00,426.80 L502.30,439.10 L503.80,434.50 L505.80,440.20 L507.60,423.00 L509.90,423.00 L511.50,429.10 L513.40,457.50 L515.30,446.00 L517.60,442.10 L519.10,440.60 L521.00,425.70 L522.50,429.10 L524.90,447.80 L526.50,447.80 L528.30,433.70 L530.20,445.20 L532.10,433.70 L534.40,419.60 L536.70,423.80 L539.00,430.70 L541.50,449.00 L543.60,428.40 L545.50,423.80 L547.00,426.10 L549.00,414.60 L550.50,426.10 L552.80,437.50 L554.70,414.60 L556.60,399.50 L558.70,430.00 L560.50,420.00 L562.30,415.50 L566.10,380.70 L569.50,401.30 L571.80,373.80 L574.10,378.40 L576.40,371.50 L578.00,356.10 L580.70,329.00 L582.20,312.20 L583.40,306.80 L585.60,305.30 L587.10,313.00 L589.10,296.10 L591.10,289.00 L592.10,298.40 L594.40,303.80 L596.00,318.30 L597.50,331.30 L599.80,329.80 L600.90,349.00 L602.00,376.10 L604.00,391.70 L606.00,378.40 L606.90,411.50 L609.50,432.90 L611.50,410.70 L615.00,429.80 L617.20,457.40 L619.20,459.00 L621.10,446.70 L624.50,438.30 L626.80,459.00 L628.40,441.30 L630.30,452.10 L631.90,449.00 L634.00,459.00 L636.00,455.10 L638.00,462.80 L641.40,442.10 L645.70,452.10 L649.00,454.40 L651.30,430.20 L654.90,448.20 L657.00,447.00 L659.00,435.70 L661.30,436.70 L666.20,457.10 L668.20,445.20 L672.00,438.70 L674.30,438.30 L675.40,434.00" fill="none" stroke="#000" stroke-width="1.3" stroke-linejoin="round" />
<rect x="373.5" y="266.5" width="302.10" height="218.10" fill="none" stroke="#333" stroke-width="1.4"/>
<line x1="373.50" y1="484.60" x2="373.50" y2="488.90" stroke="#333" stroke-width="1.2" />
<text x="373.50" y="499.80" font-family='"Liberation Sans", sans-serif' font-size="9.5" fill="#000" font-weight="bold" text-anchor="middle" textLength="15.8" lengthAdjust="spacingAndGlyphs" >380</text>
<line x1="392.38" y1="484.60" x2="392.38" y2="487.00" stroke="#333" stroke-width="1.2" />
<line x1="411.26" y1="484.60" x2="411.26" y2="488.90" stroke="#333" stroke-width="1.2" />
<text x="411.26" y="499.80" font-family='"Liberation Sans", sans-serif' font-size="9.5" fill="#000" font-weight="bold" text-anchor="middle" textLength="15.8" lengthAdjust="spacingAndGlyphs" >378</text>
<line x1="430.14" y1="484.60" x2="430.14" y2="487.00" stroke="#333" stroke-width="1.2" />
<line x1="449.02" y1="484.60" x2="449.02" y2="488.90" stroke="#333" stroke-width="1.2" />
<text x="449.02" y="499.80" font-family='"Liberation Sans", sans-serif' font-size="9.5" fill="#000" font-weight="bold" text-anchor="middle" textLength="15.8" lengthAdjust="spacingAndGlyphs" >376</text>
<line x1="467.91" y1="484.60" x2="467.91" y2="487.00" stroke="#333" stroke-width="1.2" />
<line x1="486.79" y1="484.60" x2="486.79" y2="488.90" stroke="#333" stroke-width="1.2" />
<text x="486.79" y="499.80" font-family='"Liberation Sans", sans-serif' font-size="9.5" fill="#000" font-weight="bold" text-anchor="middle" textLength="15.8" lengthAdjust="spacingAndGlyphs" >374</text>
<line x1="505.67" y1="484.60" x2="505.67" y2="487.00" stroke="#333" stroke-width="1.2" />
<line x1="524.55" y1="484.60" x2="524.55" y2="488.90" stroke="#333" stroke-width="1.2" />
<text x="524.55" y="499.80" font-family='"Liberation Sans", sans-serif' font-size="9.5" fill="#000" font-weight="bold" text-anchor="middle" textLength="15.8" lengthAdjust="spacingAndGlyphs" >372</text>
<line x1="543.43" y1="484.60" x2="543.43" y2="487.00" stroke="#333" stroke-width="1.2" />
<line x1="562.31" y1="484.60" x2="562.31" y2="488.90" stroke="#333" stroke-width="1.2" />
<text x="562.31" y="499.80" font-family='"Liberation Sans", sans-serif' font-size="9.5" fill="#000" font-weight="bold" text-anchor="middle" textLength="15.8" lengthAdjust="spacingAndGlyphs" >370</text>
<line x1="581.19" y1="484.60" x2="581.19" y2="487.00" stroke="#333" stroke-width="1.2" />
<line x1="600.08" y1="484.60" x2="600.08" y2="488.90" stroke="#333" stroke-width="1.2" />
<text x="600.08" y="499.80" font-family='"Liberation Sans", sans-serif' font-size="9.5" fill="#000" font-weight="bold" text-anchor="middle" textLength="15.8" lengthAdjust="spacingAndGlyphs" >368</text>
<line x1="618.96" y1="484.60" x2="618.96" y2="487.00" stroke="#333" stroke-width="1.2" />
<line x1="637.84" y1="484.60" x2="637.84" y2="488.90" stroke="#333" stroke-width="1.2" />
<text x="637.84" y="499.80" font-family='"Liberation Sans", sans-serif' font-size="9.5" fill="#000" font-weight="bold" text-anchor="middle" textLength="15.8" lengthAdjust="spacingAndGlyphs" >366</text>
<line x1="656.72" y1="484.60" x2="656.72" y2="487.00" stroke="#333" stroke-width="1.2" />
<line x1="675.60" y1="484.60" x2="675.60" y2="488.90" stroke="#333" stroke-width="1.2" />
<text x="675.60" y="499.80" font-family='"Liberation Sans", sans-serif' font-size="9.5" fill="#000" font-weight="bold" text-anchor="middle" textLength="15.8" lengthAdjust="spacingAndGlyphs" >364</text>
<text x="341.50" y="288.60" font-family='"Liberation Serif", serif' font-size="23" fill="#000" font-weight="bold" textLength="26.8" lengthAdjust="spacingAndGlyphs" >(d)</text>
<line x1="383.80" y1="286.30" x2="416.60" y2="286.30" stroke="#000" stroke-width="2.8" />
<text x="418.90" y="289.30" font-family='"Liberation Serif", serif' font-size="13.6" fill="#000" textLength="37.3" lengthAdjust="spacingAndGlyphs" stroke="#000" stroke-width="0.35">Ag 3d</text>
<text x="470.30" y="305.30" font-family='"Liberation Serif", serif' font-size="13.6" fill="#e02020" textLength="16.8" lengthAdjust="spacingAndGlyphs" stroke="#e02020" stroke-width="0.35">Ag</text>
<text x="583.20" y="284.40" font-family='"Liberation Serif", serif' font-size="13.6" fill="#e02020" textLength="17.6" lengthAdjust="spacingAndGlyphs" stroke="#e02020" stroke-width="0.35">Ag</text>
<text x="473.90" y="518.10" font-family='"Liberation Sans", sans-serif' font-size="10.8" fill="#000" font-weight="bold" textLength="102.2" lengthAdjust="spacingAndGlyphs" >Binding Energy (eV)</text>
<text x="363.20" y="411.70" font-family='"Liberation Sans", sans-serif' font-size="10.8" fill="#000" font-weight="bold" textLength="73.5" lengthAdjust="spacingAndGlyphs" transform="rotate(-90 363.20 411.70)" >Intensity (a.u.)</text>
</svg></body></html>
